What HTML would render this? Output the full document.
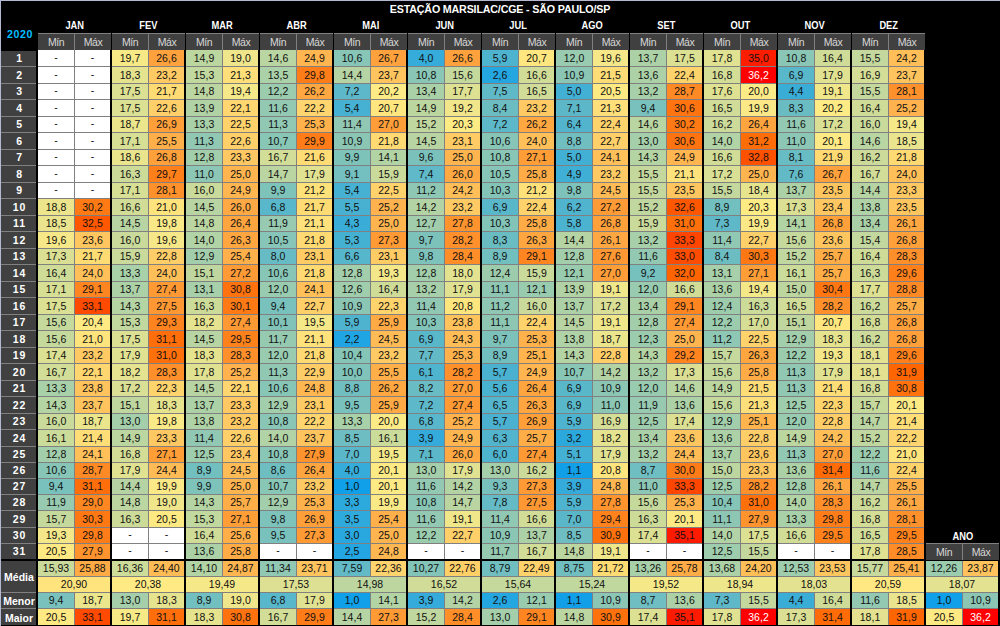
<!DOCTYPE html>
<html><head><meta charset="utf-8"><title>Estação Marsilac</title><style>
html,body{margin:0;padding:0;background:#000;}
body{width:1000px;height:626px;position:relative;overflow:hidden;font-family:"Liberation Sans",sans-serif;}
#bt{position:absolute;left:0;top:0;width:1000px;height:1px;background:#b4b8d0;}
#bl{position:absolute;left:0;top:0;width:1px;height:626px;background:#b4b8d0;}
.c{position:absolute;text-align:center;font-size:10.5px;color:#111;white-space:nowrap;overflow:hidden;box-sizing:border-box;}
.c.h{color:#d8d8d8;font-size:10.5px;letter-spacing:-0.5px;}
.c.l{color:#fff;font-weight:bold;font-size:10.5px;letter-spacing:0.9px;padding-left:2px;}
.c.s{font-size:10.5px;letter-spacing:0;padding-left:1px;padding-top:1px;}
.c.w{color:#fff;}
.t,.m,.y{position:absolute;text-align:center;font-weight:bold;font-size:10.7px;color:#fff;white-space:nowrap;}
.t{letter-spacing:-0.17px;}
.m span{display:inline-block;transform:scaleX(0.87);transform-origin:50% 50%;}
.y{color:#00bfff;letter-spacing:0.6px;}
</style></head><body>
<div id="bt"></div><div id="bl"></div>
<div class="t" style="left:0;top:1px;width:1000px;height:16px;line-height:16px;">ESTAÇÃO MARSILAC/CGE - SÃO PAULO/SP</div>
<div class="y" style="left:1px;top:26px;width:38px;height:17px;line-height:17px;">2020</div>
<div class="m" style="left:38px;top:17px;width:73px;height:16px;line-height:16px;"><span>JAN</span></div>
<div class="c " style="left:38px;top:33px;width:73px;height:1px;line-height:1px;background:#808080;"></div>
<div class="c h" style="left:38px;top:34px;width:36px;height:16px;line-height:16px;background:#404040;">Mín</div>
<div class="c " style="left:74px;top:34px;width:1px;height:16px;line-height:16px;background:#808080;"></div>
<div class="c h" style="left:75px;top:34px;width:36px;height:16px;line-height:16px;background:#404040;">Máx</div>
<div class="m" style="left:112px;top:17px;width:73px;height:16px;line-height:16px;"><span>FEV</span></div>
<div class="c " style="left:112px;top:33px;width:73px;height:1px;line-height:1px;background:#808080;"></div>
<div class="c h" style="left:112px;top:34px;width:36px;height:16px;line-height:16px;background:#404040;">Mín</div>
<div class="c " style="left:148px;top:34px;width:1px;height:16px;line-height:16px;background:#808080;"></div>
<div class="c h" style="left:149px;top:34px;width:36px;height:16px;line-height:16px;background:#404040;">Máx</div>
<div class="m" style="left:186px;top:17px;width:73px;height:16px;line-height:16px;"><span>MAR</span></div>
<div class="c " style="left:186px;top:33px;width:73px;height:1px;line-height:1px;background:#808080;"></div>
<div class="c h" style="left:186px;top:34px;width:36px;height:16px;line-height:16px;background:#404040;">Mín</div>
<div class="c " style="left:222px;top:34px;width:1px;height:16px;line-height:16px;background:#808080;"></div>
<div class="c h" style="left:223px;top:34px;width:36px;height:16px;line-height:16px;background:#404040;">Máx</div>
<div class="m" style="left:260px;top:17px;width:73px;height:16px;line-height:16px;"><span>ABR</span></div>
<div class="c " style="left:260px;top:33px;width:73px;height:1px;line-height:1px;background:#808080;"></div>
<div class="c h" style="left:260px;top:34px;width:36px;height:16px;line-height:16px;background:#404040;">Mín</div>
<div class="c " style="left:296px;top:34px;width:1px;height:16px;line-height:16px;background:#808080;"></div>
<div class="c h" style="left:297px;top:34px;width:36px;height:16px;line-height:16px;background:#404040;">Máx</div>
<div class="m" style="left:334px;top:17px;width:73px;height:16px;line-height:16px;"><span>MAI</span></div>
<div class="c " style="left:334px;top:33px;width:73px;height:1px;line-height:1px;background:#808080;"></div>
<div class="c h" style="left:334px;top:34px;width:36px;height:16px;line-height:16px;background:#404040;">Mín</div>
<div class="c " style="left:370px;top:34px;width:1px;height:16px;line-height:16px;background:#808080;"></div>
<div class="c h" style="left:371px;top:34px;width:36px;height:16px;line-height:16px;background:#404040;">Máx</div>
<div class="m" style="left:408px;top:17px;width:73px;height:16px;line-height:16px;"><span>JUN</span></div>
<div class="c " style="left:408px;top:33px;width:73px;height:1px;line-height:1px;background:#808080;"></div>
<div class="c h" style="left:408px;top:34px;width:36px;height:16px;line-height:16px;background:#404040;">Mín</div>
<div class="c " style="left:444px;top:34px;width:1px;height:16px;line-height:16px;background:#808080;"></div>
<div class="c h" style="left:445px;top:34px;width:36px;height:16px;line-height:16px;background:#404040;">Máx</div>
<div class="m" style="left:482px;top:17px;width:73px;height:16px;line-height:16px;"><span>JUL</span></div>
<div class="c " style="left:482px;top:33px;width:73px;height:1px;line-height:1px;background:#808080;"></div>
<div class="c h" style="left:482px;top:34px;width:36px;height:16px;line-height:16px;background:#404040;">Mín</div>
<div class="c " style="left:518px;top:34px;width:1px;height:16px;line-height:16px;background:#808080;"></div>
<div class="c h" style="left:519px;top:34px;width:36px;height:16px;line-height:16px;background:#404040;">Máx</div>
<div class="m" style="left:556px;top:17px;width:73px;height:16px;line-height:16px;"><span>AGO</span></div>
<div class="c " style="left:556px;top:33px;width:73px;height:1px;line-height:1px;background:#808080;"></div>
<div class="c h" style="left:556px;top:34px;width:36px;height:16px;line-height:16px;background:#404040;">Mín</div>
<div class="c " style="left:592px;top:34px;width:1px;height:16px;line-height:16px;background:#808080;"></div>
<div class="c h" style="left:593px;top:34px;width:36px;height:16px;line-height:16px;background:#404040;">Máx</div>
<div class="m" style="left:630px;top:17px;width:73px;height:16px;line-height:16px;"><span>SET</span></div>
<div class="c " style="left:630px;top:33px;width:73px;height:1px;line-height:1px;background:#808080;"></div>
<div class="c h" style="left:630px;top:34px;width:36px;height:16px;line-height:16px;background:#404040;">Mín</div>
<div class="c " style="left:666px;top:34px;width:1px;height:16px;line-height:16px;background:#808080;"></div>
<div class="c h" style="left:667px;top:34px;width:36px;height:16px;line-height:16px;background:#404040;">Máx</div>
<div class="m" style="left:704px;top:17px;width:73px;height:16px;line-height:16px;"><span>OUT</span></div>
<div class="c " style="left:704px;top:33px;width:73px;height:1px;line-height:1px;background:#808080;"></div>
<div class="c h" style="left:704px;top:34px;width:36px;height:16px;line-height:16px;background:#404040;">Mín</div>
<div class="c " style="left:740px;top:34px;width:1px;height:16px;line-height:16px;background:#808080;"></div>
<div class="c h" style="left:741px;top:34px;width:36px;height:16px;line-height:16px;background:#404040;">Máx</div>
<div class="m" style="left:778px;top:17px;width:73px;height:16px;line-height:16px;"><span>NOV</span></div>
<div class="c " style="left:778px;top:33px;width:73px;height:1px;line-height:1px;background:#808080;"></div>
<div class="c h" style="left:778px;top:34px;width:36px;height:16px;line-height:16px;background:#404040;">Mín</div>
<div class="c " style="left:814px;top:34px;width:1px;height:16px;line-height:16px;background:#808080;"></div>
<div class="c h" style="left:815px;top:34px;width:36px;height:16px;line-height:16px;background:#404040;">Máx</div>
<div class="m" style="left:852px;top:17px;width:73px;height:16px;line-height:16px;"><span>DEZ</span></div>
<div class="c " style="left:852px;top:33px;width:73px;height:1px;line-height:1px;background:#808080;"></div>
<div class="c h" style="left:852px;top:34px;width:36px;height:16px;line-height:16px;background:#404040;">Mín</div>
<div class="c " style="left:888px;top:34px;width:1px;height:16px;line-height:16px;background:#808080;"></div>
<div class="c h" style="left:889px;top:34px;width:36px;height:16px;line-height:16px;background:#404040;">Máx</div>
<div class="m" style="left:926px;top:528px;width:73px;height:16px;line-height:16px;"><span>ANO</span></div>
<div class="c " style="left:926px;top:543px;width:73px;height:1px;line-height:1px;background:#808080;"></div>
<div class="c h" style="left:926px;top:544px;width:36px;height:16px;line-height:16px;background:#404040;">Mín</div>
<div class="c " style="left:962px;top:544px;width:1px;height:16px;line-height:16px;background:#808080;"></div>
<div class="c h" style="left:963px;top:544px;width:36px;height:16px;line-height:16px;background:#404040;">Máx</div>
<div class="c l" style="left:1px;top:51px;width:35px;height:15px;line-height:15px;background:#404040;">1</div>
<div class="c " style="left:1px;top:66px;width:35px;height:1px;line-height:1px;background:#808080;"></div>
<div class="c l" style="left:1px;top:67px;width:35px;height:16px;line-height:16px;background:#404040;">2</div>
<div class="c " style="left:1px;top:83px;width:35px;height:1px;line-height:1px;background:#808080;"></div>
<div class="c l" style="left:1px;top:84px;width:35px;height:15px;line-height:15px;background:#404040;">3</div>
<div class="c " style="left:1px;top:99px;width:35px;height:1px;line-height:1px;background:#808080;"></div>
<div class="c l" style="left:1px;top:100px;width:35px;height:16px;line-height:16px;background:#404040;">4</div>
<div class="c " style="left:1px;top:116px;width:35px;height:1px;line-height:1px;background:#808080;"></div>
<div class="c l" style="left:1px;top:117px;width:35px;height:15px;line-height:15px;background:#404040;">5</div>
<div class="c " style="left:1px;top:132px;width:35px;height:1px;line-height:1px;background:#808080;"></div>
<div class="c l" style="left:1px;top:133px;width:35px;height:16px;line-height:16px;background:#404040;">6</div>
<div class="c " style="left:1px;top:149px;width:35px;height:1px;line-height:1px;background:#808080;"></div>
<div class="c l" style="left:1px;top:150px;width:35px;height:15px;line-height:15px;background:#404040;">7</div>
<div class="c " style="left:1px;top:165px;width:35px;height:1px;line-height:1px;background:#808080;"></div>
<div class="c l" style="left:1px;top:166px;width:35px;height:16px;line-height:16px;background:#404040;">8</div>
<div class="c " style="left:1px;top:182px;width:35px;height:1px;line-height:1px;background:#808080;"></div>
<div class="c l" style="left:1px;top:183px;width:35px;height:15px;line-height:15px;background:#404040;">9</div>
<div class="c " style="left:1px;top:198px;width:35px;height:1px;line-height:1px;background:#808080;"></div>
<div class="c l" style="left:1px;top:199px;width:35px;height:16px;line-height:16px;background:#404040;">10</div>
<div class="c " style="left:1px;top:215px;width:35px;height:1px;line-height:1px;background:#808080;"></div>
<div class="c l" style="left:1px;top:216px;width:35px;height:15px;line-height:15px;background:#404040;">11</div>
<div class="c " style="left:1px;top:231px;width:35px;height:1px;line-height:1px;background:#808080;"></div>
<div class="c l" style="left:1px;top:232px;width:35px;height:16px;line-height:16px;background:#404040;">12</div>
<div class="c " style="left:1px;top:248px;width:35px;height:1px;line-height:1px;background:#808080;"></div>
<div class="c l" style="left:1px;top:249px;width:35px;height:15px;line-height:15px;background:#404040;">13</div>
<div class="c " style="left:1px;top:264px;width:35px;height:1px;line-height:1px;background:#808080;"></div>
<div class="c l" style="left:1px;top:265px;width:35px;height:16px;line-height:16px;background:#404040;">14</div>
<div class="c " style="left:1px;top:281px;width:35px;height:1px;line-height:1px;background:#808080;"></div>
<div class="c l" style="left:1px;top:282px;width:35px;height:15px;line-height:15px;background:#404040;">15</div>
<div class="c " style="left:1px;top:297px;width:35px;height:1px;line-height:1px;background:#808080;"></div>
<div class="c l" style="left:1px;top:298px;width:35px;height:16px;line-height:16px;background:#404040;">16</div>
<div class="c " style="left:1px;top:314px;width:35px;height:1px;line-height:1px;background:#808080;"></div>
<div class="c l" style="left:1px;top:315px;width:35px;height:15px;line-height:15px;background:#404040;">17</div>
<div class="c " style="left:1px;top:330px;width:35px;height:1px;line-height:1px;background:#808080;"></div>
<div class="c l" style="left:1px;top:331px;width:35px;height:16px;line-height:16px;background:#404040;">18</div>
<div class="c " style="left:1px;top:347px;width:35px;height:1px;line-height:1px;background:#808080;"></div>
<div class="c l" style="left:1px;top:348px;width:35px;height:15px;line-height:15px;background:#404040;">19</div>
<div class="c " style="left:1px;top:363px;width:35px;height:1px;line-height:1px;background:#808080;"></div>
<div class="c l" style="left:1px;top:364px;width:35px;height:16px;line-height:16px;background:#404040;">20</div>
<div class="c " style="left:1px;top:380px;width:35px;height:1px;line-height:1px;background:#808080;"></div>
<div class="c l" style="left:1px;top:381px;width:35px;height:15px;line-height:15px;background:#404040;">21</div>
<div class="c " style="left:1px;top:396px;width:35px;height:1px;line-height:1px;background:#808080;"></div>
<div class="c l" style="left:1px;top:397px;width:35px;height:16px;line-height:16px;background:#404040;">22</div>
<div class="c " style="left:1px;top:413px;width:35px;height:1px;line-height:1px;background:#808080;"></div>
<div class="c l" style="left:1px;top:414px;width:35px;height:15px;line-height:15px;background:#404040;">23</div>
<div class="c " style="left:1px;top:429px;width:35px;height:1px;line-height:1px;background:#808080;"></div>
<div class="c l" style="left:1px;top:430px;width:35px;height:16px;line-height:16px;background:#404040;">24</div>
<div class="c " style="left:1px;top:446px;width:35px;height:1px;line-height:1px;background:#808080;"></div>
<div class="c l" style="left:1px;top:447px;width:35px;height:15px;line-height:15px;background:#404040;">25</div>
<div class="c " style="left:1px;top:462px;width:35px;height:1px;line-height:1px;background:#808080;"></div>
<div class="c l" style="left:1px;top:463px;width:35px;height:15px;line-height:15px;background:#404040;">26</div>
<div class="c " style="left:1px;top:478px;width:35px;height:1px;line-height:1px;background:#808080;"></div>
<div class="c l" style="left:1px;top:479px;width:35px;height:15px;line-height:15px;background:#404040;">27</div>
<div class="c " style="left:1px;top:494px;width:35px;height:1px;line-height:1px;background:#808080;"></div>
<div class="c l" style="left:1px;top:495px;width:35px;height:15px;line-height:15px;background:#404040;">28</div>
<div class="c " style="left:1px;top:510px;width:35px;height:1px;line-height:1px;background:#808080;"></div>
<div class="c l" style="left:1px;top:511px;width:35px;height:16px;line-height:16px;background:#404040;">29</div>
<div class="c " style="left:1px;top:527px;width:35px;height:1px;line-height:1px;background:#808080;"></div>
<div class="c l" style="left:1px;top:528px;width:35px;height:15px;line-height:15px;background:#404040;">30</div>
<div class="c " style="left:1px;top:543px;width:35px;height:1px;line-height:1px;background:#808080;"></div>
<div class="c l" style="left:1px;top:544px;width:35px;height:15px;line-height:15px;background:#404040;">31</div>
<div class="c d" style="left:38px;top:50px;width:36px;height:16px;line-height:14px;background:#ffffff;">-</div>
<div class="c d" style="left:75px;top:50px;width:35px;height:16px;line-height:14px;background:#ffffff;">-</div>
<div class="c " style="left:38px;top:66px;width:72px;height:1px;line-height:1px;background:#808080;"></div>
<div class="c " style="left:74px;top:50px;width:1px;height:17px;line-height:17px;background:#808080;"></div>
<div class="c d" style="left:38px;top:67px;width:36px;height:16px;line-height:14px;background:#ffffff;">-</div>
<div class="c d" style="left:75px;top:67px;width:35px;height:16px;line-height:14px;background:#ffffff;">-</div>
<div class="c " style="left:38px;top:83px;width:72px;height:1px;line-height:1px;background:#808080;"></div>
<div class="c " style="left:74px;top:67px;width:1px;height:17px;line-height:17px;background:#808080;"></div>
<div class="c d" style="left:38px;top:84px;width:36px;height:15px;line-height:13px;background:#ffffff;">-</div>
<div class="c d" style="left:75px;top:84px;width:35px;height:15px;line-height:13px;background:#ffffff;">-</div>
<div class="c " style="left:38px;top:99px;width:72px;height:1px;line-height:1px;background:#808080;"></div>
<div class="c " style="left:74px;top:84px;width:1px;height:16px;line-height:16px;background:#808080;"></div>
<div class="c d" style="left:38px;top:100px;width:36px;height:16px;line-height:14px;background:#ffffff;">-</div>
<div class="c d" style="left:75px;top:100px;width:35px;height:16px;line-height:14px;background:#ffffff;">-</div>
<div class="c " style="left:38px;top:116px;width:72px;height:1px;line-height:1px;background:#808080;"></div>
<div class="c " style="left:74px;top:100px;width:1px;height:17px;line-height:17px;background:#808080;"></div>
<div class="c d" style="left:38px;top:117px;width:36px;height:15px;line-height:13px;background:#ffffff;">-</div>
<div class="c d" style="left:75px;top:117px;width:35px;height:15px;line-height:13px;background:#ffffff;">-</div>
<div class="c " style="left:38px;top:132px;width:72px;height:1px;line-height:1px;background:#808080;"></div>
<div class="c " style="left:74px;top:117px;width:1px;height:16px;line-height:16px;background:#808080;"></div>
<div class="c d" style="left:38px;top:133px;width:36px;height:16px;line-height:14px;background:#ffffff;">-</div>
<div class="c d" style="left:75px;top:133px;width:35px;height:16px;line-height:14px;background:#ffffff;">-</div>
<div class="c " style="left:38px;top:149px;width:72px;height:1px;line-height:1px;background:#808080;"></div>
<div class="c " style="left:74px;top:133px;width:1px;height:17px;line-height:17px;background:#808080;"></div>
<div class="c d" style="left:38px;top:150px;width:36px;height:15px;line-height:13px;background:#ffffff;">-</div>
<div class="c d" style="left:75px;top:150px;width:35px;height:15px;line-height:13px;background:#ffffff;">-</div>
<div class="c " style="left:38px;top:165px;width:72px;height:1px;line-height:1px;background:#808080;"></div>
<div class="c " style="left:74px;top:150px;width:1px;height:16px;line-height:16px;background:#808080;"></div>
<div class="c d" style="left:38px;top:166px;width:36px;height:16px;line-height:14px;background:#ffffff;">-</div>
<div class="c d" style="left:75px;top:166px;width:35px;height:16px;line-height:14px;background:#ffffff;">-</div>
<div class="c " style="left:38px;top:182px;width:72px;height:1px;line-height:1px;background:#808080;"></div>
<div class="c " style="left:74px;top:166px;width:1px;height:17px;line-height:17px;background:#808080;"></div>
<div class="c d" style="left:38px;top:183px;width:36px;height:15px;line-height:13px;background:#ffffff;">-</div>
<div class="c d" style="left:75px;top:183px;width:35px;height:15px;line-height:13px;background:#ffffff;">-</div>
<div class="c " style="left:38px;top:198px;width:72px;height:1px;line-height:1px;background:#808080;"></div>
<div class="c " style="left:74px;top:183px;width:1px;height:16px;line-height:16px;background:#808080;"></div>
<div class="c " style="left:38px;top:199px;width:36px;height:16px;line-height:16px;background:#ece58c;">18,8</div>
<div class="c " style="left:75px;top:199px;width:35px;height:16px;line-height:16px;background:#ff7914;">30,2</div>
<div class="c " style="left:38px;top:215px;width:72px;height:1px;line-height:1px;background:#808080;"></div>
<div class="c " style="left:74px;top:199px;width:1px;height:17px;line-height:17px;background:#808080;"></div>
<div class="c " style="left:38px;top:216px;width:36px;height:15px;line-height:15px;background:#e9e48d;">18,5</div>
<div class="c " style="left:75px;top:216px;width:35px;height:15px;line-height:15px;background:#ff5800;">32,5</div>
<div class="c " style="left:38px;top:231px;width:72px;height:1px;line-height:1px;background:#808080;"></div>
<div class="c " style="left:74px;top:216px;width:1px;height:16px;line-height:16px;background:#808080;"></div>
<div class="c " style="left:38px;top:232px;width:36px;height:16px;line-height:16px;background:#f6e888;">19,6</div>
<div class="c " style="left:75px;top:232px;width:35px;height:16px;line-height:16px;background:#ffc55f;">23,6</div>
<div class="c " style="left:38px;top:248px;width:72px;height:1px;line-height:1px;background:#808080;"></div>
<div class="c " style="left:74px;top:232px;width:1px;height:17px;line-height:17px;background:#808080;"></div>
<div class="c " style="left:38px;top:249px;width:36px;height:15px;line-height:15px;background:#dadf94;">17,3</div>
<div class="c " style="left:75px;top:249px;width:35px;height:15px;line-height:15px;background:#ffdb74;">21,7</div>
<div class="c " style="left:38px;top:264px;width:72px;height:1px;line-height:1px;background:#808080;"></div>
<div class="c " style="left:74px;top:249px;width:1px;height:16px;line-height:16px;background:#808080;"></div>
<div class="c " style="left:38px;top:265px;width:36px;height:16px;line-height:16px;background:#cfdc98;">16,4</div>
<div class="c " style="left:75px;top:265px;width:35px;height:16px;line-height:16px;background:#ffc05a;">24,0</div>
<div class="c " style="left:38px;top:281px;width:72px;height:1px;line-height:1px;background:#808080;"></div>
<div class="c " style="left:74px;top:265px;width:1px;height:17px;line-height:17px;background:#808080;"></div>
<div class="c " style="left:38px;top:282px;width:36px;height:15px;line-height:15px;background:#d7df95;">17,1</div>
<div class="c " style="left:75px;top:282px;width:35px;height:15px;line-height:15px;background:#ff8521;">29,1</div>
<div class="c " style="left:38px;top:297px;width:72px;height:1px;line-height:1px;background:#808080;"></div>
<div class="c " style="left:74px;top:282px;width:1px;height:16px;line-height:16px;background:#808080;"></div>
<div class="c " style="left:38px;top:298px;width:36px;height:16px;line-height:16px;background:#dce093;">17,5</div>
<div class="c " style="left:75px;top:298px;width:35px;height:16px;line-height:16px;background:#ff4a00;">33,1</div>
<div class="c " style="left:38px;top:314px;width:72px;height:1px;line-height:1px;background:#808080;"></div>
<div class="c " style="left:74px;top:298px;width:1px;height:17px;line-height:17px;background:#808080;"></div>
<div class="c " style="left:38px;top:315px;width:36px;height:15px;line-height:15px;background:#c5d99d;">15,6</div>
<div class="c " style="left:75px;top:315px;width:35px;height:15px;line-height:15px;background:#ffea83;">20,4</div>
<div class="c " style="left:38px;top:330px;width:72px;height:1px;line-height:1px;background:#808080;"></div>
<div class="c " style="left:74px;top:315px;width:1px;height:16px;line-height:16px;background:#808080;"></div>
<div class="c " style="left:38px;top:331px;width:36px;height:16px;line-height:16px;background:#c5d99d;">15,6</div>
<div class="c " style="left:75px;top:331px;width:35px;height:16px;line-height:16px;background:#ffe37c;">21,0</div>
<div class="c " style="left:38px;top:347px;width:72px;height:1px;line-height:1px;background:#808080;"></div>
<div class="c " style="left:74px;top:331px;width:1px;height:17px;line-height:17px;background:#808080;"></div>
<div class="c " style="left:38px;top:348px;width:36px;height:15px;line-height:15px;background:#dbe093;">17,4</div>
<div class="c " style="left:75px;top:348px;width:35px;height:15px;line-height:15px;background:#ffca63;">23,2</div>
<div class="c " style="left:38px;top:363px;width:72px;height:1px;line-height:1px;background:#808080;"></div>
<div class="c " style="left:74px;top:348px;width:1px;height:16px;line-height:16px;background:#808080;"></div>
<div class="c " style="left:38px;top:364px;width:36px;height:16px;line-height:16px;background:#d2dd97;">16,7</div>
<div class="c " style="left:75px;top:364px;width:35px;height:16px;line-height:16px;background:#ffd670;">22,1</div>
<div class="c " style="left:38px;top:380px;width:72px;height:1px;line-height:1px;background:#808080;"></div>
<div class="c " style="left:74px;top:364px;width:1px;height:17px;line-height:17px;background:#808080;"></div>
<div class="c " style="left:38px;top:381px;width:36px;height:15px;line-height:15px;background:#a8d0a9;">13,3</div>
<div class="c " style="left:75px;top:381px;width:35px;height:15px;line-height:15px;background:#ffc35d;">23,8</div>
<div class="c " style="left:38px;top:396px;width:72px;height:1px;line-height:1px;background:#808080;"></div>
<div class="c " style="left:74px;top:381px;width:1px;height:16px;line-height:16px;background:#808080;"></div>
<div class="c " style="left:38px;top:397px;width:36px;height:16px;line-height:16px;background:#b5d4a3;">14,3</div>
<div class="c " style="left:75px;top:397px;width:35px;height:16px;line-height:16px;background:#ffc45e;">23,7</div>
<div class="c " style="left:38px;top:413px;width:72px;height:1px;line-height:1px;background:#808080;"></div>
<div class="c " style="left:74px;top:397px;width:1px;height:17px;line-height:17px;background:#808080;"></div>
<div class="c " style="left:38px;top:414px;width:36px;height:15px;line-height:15px;background:#cada9b;">16,0</div>
<div class="c " style="left:75px;top:414px;width:35px;height:15px;line-height:15px;background:#ebe58c;">18,7</div>
<div class="c " style="left:38px;top:429px;width:72px;height:1px;line-height:1px;background:#808080;"></div>
<div class="c " style="left:74px;top:414px;width:1px;height:16px;line-height:16px;background:#808080;"></div>
<div class="c " style="left:38px;top:430px;width:36px;height:16px;line-height:16px;background:#cbdb9a;">16,1</div>
<div class="c " style="left:75px;top:430px;width:35px;height:16px;line-height:16px;background:#ffde78;">21,4</div>
<div class="c " style="left:38px;top:446px;width:72px;height:1px;line-height:1px;background:#808080;"></div>
<div class="c " style="left:74px;top:430px;width:1px;height:17px;line-height:17px;background:#808080;"></div>
<div class="c " style="left:38px;top:447px;width:36px;height:15px;line-height:15px;background:#a2ceab;">12,8</div>
<div class="c " style="left:75px;top:447px;width:35px;height:15px;line-height:15px;background:#ffbf59;">24,1</div>
<div class="c " style="left:38px;top:462px;width:72px;height:1px;line-height:1px;background:#808080;"></div>
<div class="c " style="left:74px;top:447px;width:1px;height:16px;line-height:16px;background:#808080;"></div>
<div class="c " style="left:38px;top:463px;width:36px;height:15px;line-height:15px;background:#87c5b7;">10,6</div>
<div class="c " style="left:75px;top:463px;width:35px;height:15px;line-height:15px;background:#ff8a25;">28,7</div>
<div class="c " style="left:38px;top:478px;width:72px;height:1px;line-height:1px;background:#808080;"></div>
<div class="c " style="left:74px;top:463px;width:1px;height:16px;line-height:16px;background:#808080;"></div>
<div class="c " style="left:38px;top:479px;width:36px;height:15px;line-height:15px;background:#78c1bd;">9,4</div>
<div class="c " style="left:75px;top:479px;width:35px;height:15px;line-height:15px;background:#ff6e0a;">31,1</div>
<div class="c " style="left:38px;top:494px;width:72px;height:1px;line-height:1px;background:#808080;"></div>
<div class="c " style="left:74px;top:479px;width:1px;height:16px;line-height:16px;background:#808080;"></div>
<div class="c " style="left:38px;top:495px;width:36px;height:15px;line-height:15px;background:#97cab0;">11,9</div>
<div class="c " style="left:75px;top:495px;width:35px;height:15px;line-height:15px;background:#ff8722;">29,0</div>
<div class="c " style="left:38px;top:510px;width:72px;height:1px;line-height:1px;background:#808080;"></div>
<div class="c " style="left:74px;top:495px;width:1px;height:16px;line-height:16px;background:#808080;"></div>
<div class="c " style="left:38px;top:511px;width:36px;height:16px;line-height:16px;background:#c6d99c;">15,7</div>
<div class="c " style="left:75px;top:511px;width:35px;height:16px;line-height:16px;background:#ff7813;">30,3</div>
<div class="c " style="left:38px;top:527px;width:72px;height:1px;line-height:1px;background:#808080;"></div>
<div class="c " style="left:74px;top:511px;width:1px;height:17px;line-height:17px;background:#808080;"></div>
<div class="c " style="left:38px;top:528px;width:36px;height:15px;line-height:15px;background:#f3e789;">19,3</div>
<div class="c " style="left:75px;top:528px;width:35px;height:15px;line-height:15px;background:#ff7d19;">29,8</div>
<div class="c " style="left:38px;top:543px;width:72px;height:1px;line-height:1px;background:#808080;"></div>
<div class="c " style="left:74px;top:528px;width:1px;height:16px;line-height:16px;background:#808080;"></div>
<div class="c " style="left:38px;top:544px;width:36px;height:15px;line-height:15px;background:#ffe982;">20,5</div>
<div class="c " style="left:75px;top:544px;width:35px;height:15px;line-height:15px;background:#ff932e;">27,9</div>
<div class="c " style="left:74px;top:544px;width:1px;height:15px;line-height:15px;background:#808080;"></div>
<div class="c " style="left:112px;top:50px;width:36px;height:16px;line-height:16px;background:#f8e987;">19,7</div>
<div class="c " style="left:149px;top:50px;width:35px;height:16px;line-height:16px;background:#ffa23d;">26,6</div>
<div class="c " style="left:112px;top:66px;width:72px;height:1px;line-height:1px;background:#808080;"></div>
<div class="c " style="left:148px;top:50px;width:1px;height:17px;line-height:17px;background:#808080;"></div>
<div class="c " style="left:112px;top:67px;width:36px;height:16px;line-height:16px;background:#e6e38e;">18,3</div>
<div class="c " style="left:149px;top:67px;width:35px;height:16px;line-height:16px;background:#ffca63;">23,2</div>
<div class="c " style="left:112px;top:83px;width:72px;height:1px;line-height:1px;background:#808080;"></div>
<div class="c " style="left:148px;top:67px;width:1px;height:17px;line-height:17px;background:#808080;"></div>
<div class="c " style="left:112px;top:84px;width:36px;height:15px;line-height:15px;background:#dce093;">17,5</div>
<div class="c " style="left:149px;top:84px;width:35px;height:15px;line-height:15px;background:#ffdb74;">21,7</div>
<div class="c " style="left:112px;top:99px;width:72px;height:1px;line-height:1px;background:#808080;"></div>
<div class="c " style="left:148px;top:84px;width:1px;height:16px;line-height:16px;background:#808080;"></div>
<div class="c " style="left:112px;top:100px;width:36px;height:16px;line-height:16px;background:#dce093;">17,5</div>
<div class="c " style="left:149px;top:100px;width:35px;height:16px;line-height:16px;background:#ffd06a;">22,6</div>
<div class="c " style="left:112px;top:116px;width:72px;height:1px;line-height:1px;background:#808080;"></div>
<div class="c " style="left:148px;top:100px;width:1px;height:17px;line-height:17px;background:#808080;"></div>
<div class="c " style="left:112px;top:117px;width:36px;height:15px;line-height:15px;background:#ebe58c;">18,7</div>
<div class="c " style="left:149px;top:117px;width:35px;height:15px;line-height:15px;background:#ff9f3a;">26,9</div>
<div class="c " style="left:112px;top:132px;width:72px;height:1px;line-height:1px;background:#808080;"></div>
<div class="c " style="left:148px;top:117px;width:1px;height:16px;line-height:16px;background:#808080;"></div>
<div class="c " style="left:112px;top:133px;width:36px;height:16px;line-height:16px;background:#d7df95;">17,1</div>
<div class="c " style="left:149px;top:133px;width:35px;height:16px;line-height:16px;background:#ffaf49;">25,5</div>
<div class="c " style="left:112px;top:149px;width:72px;height:1px;line-height:1px;background:#808080;"></div>
<div class="c " style="left:148px;top:133px;width:1px;height:17px;line-height:17px;background:#808080;"></div>
<div class="c " style="left:112px;top:150px;width:36px;height:15px;line-height:15px;background:#eae48d;">18,6</div>
<div class="c " style="left:149px;top:150px;width:35px;height:15px;line-height:15px;background:#ffa03b;">26,8</div>
<div class="c " style="left:112px;top:165px;width:72px;height:1px;line-height:1px;background:#808080;"></div>
<div class="c " style="left:148px;top:150px;width:1px;height:16px;line-height:16px;background:#808080;"></div>
<div class="c " style="left:112px;top:166px;width:36px;height:16px;line-height:16px;background:#cddb99;">16,3</div>
<div class="c " style="left:149px;top:166px;width:35px;height:16px;line-height:16px;background:#ff7f1a;">29,7</div>
<div class="c " style="left:112px;top:182px;width:72px;height:1px;line-height:1px;background:#808080;"></div>
<div class="c " style="left:148px;top:166px;width:1px;height:17px;line-height:17px;background:#808080;"></div>
<div class="c " style="left:112px;top:183px;width:36px;height:15px;line-height:15px;background:#d7df95;">17,1</div>
<div class="c " style="left:149px;top:183px;width:35px;height:15px;line-height:15px;background:#ff912c;">28,1</div>
<div class="c " style="left:112px;top:198px;width:72px;height:1px;line-height:1px;background:#808080;"></div>
<div class="c " style="left:148px;top:183px;width:1px;height:16px;line-height:16px;background:#808080;"></div>
<div class="c " style="left:112px;top:199px;width:36px;height:16px;line-height:16px;background:#d1dd97;">16,6</div>
<div class="c " style="left:149px;top:199px;width:35px;height:16px;line-height:16px;background:#ffe37c;">21,0</div>
<div class="c " style="left:112px;top:215px;width:72px;height:1px;line-height:1px;background:#808080;"></div>
<div class="c " style="left:148px;top:199px;width:1px;height:17px;line-height:17px;background:#808080;"></div>
<div class="c " style="left:112px;top:216px;width:36px;height:15px;line-height:15px;background:#b7d4a2;">14,5</div>
<div class="c " style="left:149px;top:216px;width:35px;height:15px;line-height:15px;background:#f9e987;">19,8</div>
<div class="c " style="left:112px;top:231px;width:72px;height:1px;line-height:1px;background:#808080;"></div>
<div class="c " style="left:148px;top:216px;width:1px;height:16px;line-height:16px;background:#808080;"></div>
<div class="c " style="left:112px;top:232px;width:36px;height:16px;line-height:16px;background:#cada9b;">16,0</div>
<div class="c " style="left:149px;top:232px;width:35px;height:16px;line-height:16px;background:#f6e888;">19,6</div>
<div class="c " style="left:112px;top:248px;width:72px;height:1px;line-height:1px;background:#808080;"></div>
<div class="c " style="left:148px;top:232px;width:1px;height:17px;line-height:17px;background:#808080;"></div>
<div class="c " style="left:112px;top:249px;width:36px;height:15px;line-height:15px;background:#c9da9b;">15,9</div>
<div class="c " style="left:149px;top:249px;width:35px;height:15px;line-height:15px;background:#ffce68;">22,8</div>
<div class="c " style="left:112px;top:264px;width:72px;height:1px;line-height:1px;background:#808080;"></div>
<div class="c " style="left:148px;top:249px;width:1px;height:16px;line-height:16px;background:#808080;"></div>
<div class="c " style="left:112px;top:265px;width:36px;height:16px;line-height:16px;background:#a8d0a9;">13,3</div>
<div class="c " style="left:149px;top:265px;width:35px;height:16px;line-height:16px;background:#ffc05a;">24,0</div>
<div class="c " style="left:112px;top:281px;width:72px;height:1px;line-height:1px;background:#808080;"></div>
<div class="c " style="left:148px;top:265px;width:1px;height:17px;line-height:17px;background:#808080;"></div>
<div class="c " style="left:112px;top:282px;width:36px;height:15px;line-height:15px;background:#add1a7;">13,7</div>
<div class="c " style="left:149px;top:282px;width:35px;height:15px;line-height:15px;background:#ff9934;">27,4</div>
<div class="c " style="left:112px;top:297px;width:72px;height:1px;line-height:1px;background:#808080;"></div>
<div class="c " style="left:148px;top:282px;width:1px;height:16px;line-height:16px;background:#808080;"></div>
<div class="c " style="left:112px;top:298px;width:36px;height:16px;line-height:16px;background:#b5d4a3;">14,3</div>
<div class="c " style="left:149px;top:298px;width:35px;height:16px;line-height:16px;background:#ff9833;">27,5</div>
<div class="c " style="left:112px;top:314px;width:72px;height:1px;line-height:1px;background:#808080;"></div>
<div class="c " style="left:148px;top:298px;width:1px;height:17px;line-height:17px;background:#808080;"></div>
<div class="c " style="left:112px;top:315px;width:36px;height:15px;line-height:15px;background:#c1d89e;">15,3</div>
<div class="c " style="left:149px;top:315px;width:35px;height:15px;line-height:15px;background:#ff831e;">29,3</div>
<div class="c " style="left:112px;top:330px;width:72px;height:1px;line-height:1px;background:#808080;"></div>
<div class="c " style="left:148px;top:315px;width:1px;height:16px;line-height:16px;background:#808080;"></div>
<div class="c " style="left:112px;top:331px;width:36px;height:16px;line-height:16px;background:#dce093;">17,5</div>
<div class="c " style="left:149px;top:331px;width:35px;height:16px;line-height:16px;background:#ff6e0a;">31,1</div>
<div class="c " style="left:112px;top:347px;width:72px;height:1px;line-height:1px;background:#808080;"></div>
<div class="c " style="left:148px;top:331px;width:1px;height:17px;line-height:17px;background:#808080;"></div>
<div class="c " style="left:112px;top:348px;width:36px;height:15px;line-height:15px;background:#e1e291;">17,9</div>
<div class="c " style="left:149px;top:348px;width:35px;height:15px;line-height:15px;background:#ff700b;">31,0</div>
<div class="c " style="left:112px;top:363px;width:72px;height:1px;line-height:1px;background:#808080;"></div>
<div class="c " style="left:148px;top:348px;width:1px;height:16px;line-height:16px;background:#808080;"></div>
<div class="c " style="left:112px;top:364px;width:36px;height:16px;line-height:16px;background:#e5e38f;">18,2</div>
<div class="c " style="left:149px;top:364px;width:35px;height:16px;line-height:16px;background:#ff8f2a;">28,3</div>
<div class="c " style="left:112px;top:380px;width:72px;height:1px;line-height:1px;background:#808080;"></div>
<div class="c " style="left:148px;top:364px;width:1px;height:17px;line-height:17px;background:#808080;"></div>
<div class="c " style="left:112px;top:381px;width:36px;height:15px;line-height:15px;background:#d9df94;">17,2</div>
<div class="c " style="left:149px;top:381px;width:35px;height:15px;line-height:15px;background:#ffd46d;">22,3</div>
<div class="c " style="left:112px;top:396px;width:72px;height:1px;line-height:1px;background:#808080;"></div>
<div class="c " style="left:148px;top:381px;width:1px;height:16px;line-height:16px;background:#808080;"></div>
<div class="c " style="left:112px;top:397px;width:36px;height:16px;line-height:16px;background:#bfd79f;">15,1</div>
<div class="c " style="left:149px;top:397px;width:35px;height:16px;line-height:16px;background:#e6e38e;">18,3</div>
<div class="c " style="left:112px;top:413px;width:72px;height:1px;line-height:1px;background:#808080;"></div>
<div class="c " style="left:148px;top:397px;width:1px;height:17px;line-height:17px;background:#808080;"></div>
<div class="c " style="left:112px;top:414px;width:36px;height:15px;line-height:15px;background:#a5cfaa;">13,0</div>
<div class="c " style="left:149px;top:414px;width:35px;height:15px;line-height:15px;background:#f9e987;">19,8</div>
<div class="c " style="left:112px;top:429px;width:72px;height:1px;line-height:1px;background:#808080;"></div>
<div class="c " style="left:148px;top:414px;width:1px;height:16px;line-height:16px;background:#808080;"></div>
<div class="c " style="left:112px;top:430px;width:36px;height:16px;line-height:16px;background:#bcd6a0;">14,9</div>
<div class="c " style="left:149px;top:430px;width:35px;height:16px;line-height:16px;background:#ffc862;">23,3</div>
<div class="c " style="left:112px;top:446px;width:72px;height:1px;line-height:1px;background:#808080;"></div>
<div class="c " style="left:148px;top:430px;width:1px;height:17px;line-height:17px;background:#808080;"></div>
<div class="c " style="left:112px;top:447px;width:36px;height:15px;line-height:15px;background:#d4dd96;">16,8</div>
<div class="c " style="left:149px;top:447px;width:35px;height:15px;line-height:15px;background:#ff9d37;">27,1</div>
<div class="c " style="left:112px;top:462px;width:72px;height:1px;line-height:1px;background:#808080;"></div>
<div class="c " style="left:148px;top:447px;width:1px;height:16px;line-height:16px;background:#808080;"></div>
<div class="c " style="left:112px;top:463px;width:36px;height:15px;line-height:15px;background:#e1e291;">17,9</div>
<div class="c " style="left:149px;top:463px;width:35px;height:15px;line-height:15px;background:#ffbc56;">24,4</div>
<div class="c " style="left:112px;top:478px;width:72px;height:1px;line-height:1px;background:#808080;"></div>
<div class="c " style="left:148px;top:463px;width:1px;height:16px;line-height:16px;background:#808080;"></div>
<div class="c " style="left:112px;top:479px;width:36px;height:15px;line-height:15px;background:#b6d4a3;">14,4</div>
<div class="c " style="left:149px;top:479px;width:35px;height:15px;line-height:15px;background:#fae986;">19,9</div>
<div class="c " style="left:112px;top:494px;width:72px;height:1px;line-height:1px;background:#808080;"></div>
<div class="c " style="left:148px;top:479px;width:1px;height:16px;line-height:16px;background:#808080;"></div>
<div class="c " style="left:112px;top:495px;width:36px;height:15px;line-height:15px;background:#bbd6a1;">14,8</div>
<div class="c " style="left:149px;top:495px;width:35px;height:15px;line-height:15px;background:#efe68b;">19,0</div>
<div class="c " style="left:112px;top:510px;width:72px;height:1px;line-height:1px;background:#808080;"></div>
<div class="c " style="left:148px;top:495px;width:1px;height:16px;line-height:16px;background:#808080;"></div>
<div class="c " style="left:112px;top:511px;width:36px;height:16px;line-height:16px;background:#cddb99;">16,3</div>
<div class="c " style="left:149px;top:511px;width:35px;height:16px;line-height:16px;background:#ffe982;">20,5</div>
<div class="c " style="left:112px;top:527px;width:72px;height:1px;line-height:1px;background:#808080;"></div>
<div class="c " style="left:148px;top:511px;width:1px;height:17px;line-height:17px;background:#808080;"></div>
<div class="c d" style="left:112px;top:528px;width:36px;height:15px;line-height:13px;background:#ffffff;">-</div>
<div class="c d" style="left:149px;top:528px;width:35px;height:15px;line-height:13px;background:#ffffff;">-</div>
<div class="c " style="left:112px;top:543px;width:72px;height:1px;line-height:1px;background:#808080;"></div>
<div class="c " style="left:148px;top:528px;width:1px;height:16px;line-height:16px;background:#808080;"></div>
<div class="c d" style="left:112px;top:544px;width:36px;height:15px;line-height:13px;background:#ffffff;">-</div>
<div class="c d" style="left:149px;top:544px;width:35px;height:15px;line-height:13px;background:#ffffff;">-</div>
<div class="c " style="left:148px;top:544px;width:1px;height:15px;line-height:15px;background:#808080;"></div>
<div class="c " style="left:186px;top:50px;width:36px;height:16px;line-height:16px;background:#bcd6a0;">14,9</div>
<div class="c " style="left:223px;top:50px;width:35px;height:16px;line-height:16px;background:#efe68b;">19,0</div>
<div class="c " style="left:186px;top:66px;width:72px;height:1px;line-height:1px;background:#808080;"></div>
<div class="c " style="left:222px;top:50px;width:1px;height:17px;line-height:17px;background:#808080;"></div>
<div class="c " style="left:186px;top:67px;width:36px;height:16px;line-height:16px;background:#c1d89e;">15,3</div>
<div class="c " style="left:223px;top:67px;width:35px;height:16px;line-height:16px;background:#ffdf79;">21,3</div>
<div class="c " style="left:186px;top:83px;width:72px;height:1px;line-height:1px;background:#808080;"></div>
<div class="c " style="left:222px;top:67px;width:1px;height:17px;line-height:17px;background:#808080;"></div>
<div class="c " style="left:186px;top:84px;width:36px;height:15px;line-height:15px;background:#bbd6a1;">14,8</div>
<div class="c " style="left:223px;top:84px;width:35px;height:15px;line-height:15px;background:#f4e889;">19,4</div>
<div class="c " style="left:186px;top:99px;width:72px;height:1px;line-height:1px;background:#808080;"></div>
<div class="c " style="left:222px;top:84px;width:1px;height:16px;line-height:16px;background:#808080;"></div>
<div class="c " style="left:186px;top:100px;width:36px;height:16px;line-height:16px;background:#b0d2a5;">13,9</div>
<div class="c " style="left:223px;top:100px;width:35px;height:16px;line-height:16px;background:#ffd670;">22,1</div>
<div class="c " style="left:186px;top:116px;width:72px;height:1px;line-height:1px;background:#808080;"></div>
<div class="c " style="left:222px;top:100px;width:1px;height:17px;line-height:17px;background:#808080;"></div>
<div class="c " style="left:186px;top:117px;width:36px;height:15px;line-height:15px;background:#a8d0a9;">13,3</div>
<div class="c " style="left:223px;top:117px;width:35px;height:15px;line-height:15px;background:#ffd26b;">22,5</div>
<div class="c " style="left:186px;top:132px;width:72px;height:1px;line-height:1px;background:#808080;"></div>
<div class="c " style="left:222px;top:117px;width:1px;height:16px;line-height:16px;background:#808080;"></div>
<div class="c " style="left:186px;top:133px;width:36px;height:16px;line-height:16px;background:#90c8b3;">11,3</div>
<div class="c " style="left:223px;top:133px;width:35px;height:16px;line-height:16px;background:#ffd06a;">22,6</div>
<div class="c " style="left:186px;top:149px;width:72px;height:1px;line-height:1px;background:#808080;"></div>
<div class="c " style="left:222px;top:133px;width:1px;height:17px;line-height:17px;background:#808080;"></div>
<div class="c " style="left:186px;top:150px;width:36px;height:15px;line-height:15px;background:#a2ceab;">12,8</div>
<div class="c " style="left:223px;top:150px;width:35px;height:15px;line-height:15px;background:#ffc862;">23,3</div>
<div class="c " style="left:186px;top:165px;width:72px;height:1px;line-height:1px;background:#808080;"></div>
<div class="c " style="left:222px;top:150px;width:1px;height:16px;line-height:16px;background:#808080;"></div>
<div class="c " style="left:186px;top:166px;width:36px;height:16px;line-height:16px;background:#8cc7b5;">11,0</div>
<div class="c " style="left:223px;top:166px;width:35px;height:16px;line-height:16px;background:#ffb54f;">25,0</div>
<div class="c " style="left:186px;top:182px;width:72px;height:1px;line-height:1px;background:#808080;"></div>
<div class="c " style="left:222px;top:166px;width:1px;height:17px;line-height:17px;background:#808080;"></div>
<div class="c " style="left:186px;top:183px;width:36px;height:15px;line-height:15px;background:#cada9b;">16,0</div>
<div class="c " style="left:223px;top:183px;width:35px;height:15px;line-height:15px;background:#ffb650;">24,9</div>
<div class="c " style="left:186px;top:198px;width:72px;height:1px;line-height:1px;background:#808080;"></div>
<div class="c " style="left:222px;top:183px;width:1px;height:16px;line-height:16px;background:#808080;"></div>
<div class="c " style="left:186px;top:199px;width:36px;height:16px;line-height:16px;background:#b7d4a2;">14,5</div>
<div class="c " style="left:223px;top:199px;width:35px;height:16px;line-height:16px;background:#ffa944;">26,0</div>
<div class="c " style="left:186px;top:215px;width:72px;height:1px;line-height:1px;background:#808080;"></div>
<div class="c " style="left:222px;top:199px;width:1px;height:17px;line-height:17px;background:#808080;"></div>
<div class="c " style="left:186px;top:216px;width:36px;height:15px;line-height:15px;background:#bbd6a1;">14,8</div>
<div class="c " style="left:223px;top:216px;width:35px;height:15px;line-height:15px;background:#ffa53f;">26,4</div>
<div class="c " style="left:186px;top:231px;width:72px;height:1px;line-height:1px;background:#808080;"></div>
<div class="c " style="left:222px;top:216px;width:1px;height:16px;line-height:16px;background:#808080;"></div>
<div class="c " style="left:186px;top:232px;width:36px;height:16px;line-height:16px;background:#b1d3a5;">14,0</div>
<div class="c " style="left:223px;top:232px;width:35px;height:16px;line-height:16px;background:#ffa640;">26,3</div>
<div class="c " style="left:186px;top:248px;width:72px;height:1px;line-height:1px;background:#808080;"></div>
<div class="c " style="left:222px;top:232px;width:1px;height:17px;line-height:17px;background:#808080;"></div>
<div class="c " style="left:186px;top:249px;width:36px;height:15px;line-height:15px;background:#a3ceab;">12,9</div>
<div class="c " style="left:223px;top:249px;width:35px;height:15px;line-height:15px;background:#ffb04a;">25,4</div>
<div class="c " style="left:186px;top:264px;width:72px;height:1px;line-height:1px;background:#808080;"></div>
<div class="c " style="left:222px;top:249px;width:1px;height:16px;line-height:16px;background:#808080;"></div>
<div class="c " style="left:186px;top:265px;width:36px;height:16px;line-height:16px;background:#bfd79f;">15,1</div>
<div class="c " style="left:223px;top:265px;width:35px;height:16px;line-height:16px;background:#ff9b36;">27,2</div>
<div class="c " style="left:186px;top:281px;width:72px;height:1px;line-height:1px;background:#808080;"></div>
<div class="c " style="left:222px;top:265px;width:1px;height:17px;line-height:17px;background:#808080;"></div>
<div class="c " style="left:186px;top:282px;width:36px;height:15px;line-height:15px;background:#a6cfaa;">13,1</div>
<div class="c " style="left:223px;top:282px;width:35px;height:15px;line-height:15px;background:#ff720e;">30,8</div>
<div class="c " style="left:186px;top:297px;width:72px;height:1px;line-height:1px;background:#808080;"></div>
<div class="c " style="left:222px;top:282px;width:1px;height:16px;line-height:16px;background:#808080;"></div>
<div class="c " style="left:186px;top:298px;width:36px;height:16px;line-height:16px;background:#cddb99;">16,3</div>
<div class="c " style="left:223px;top:298px;width:35px;height:16px;line-height:16px;background:#ff7a15;">30,1</div>
<div class="c " style="left:186px;top:314px;width:72px;height:1px;line-height:1px;background:#808080;"></div>
<div class="c " style="left:222px;top:298px;width:1px;height:17px;line-height:17px;background:#808080;"></div>
<div class="c " style="left:186px;top:315px;width:36px;height:15px;line-height:15px;background:#e5e38f;">18,2</div>
<div class="c " style="left:223px;top:315px;width:35px;height:15px;line-height:15px;background:#ff9934;">27,4</div>
<div class="c " style="left:186px;top:330px;width:72px;height:1px;line-height:1px;background:#808080;"></div>
<div class="c " style="left:222px;top:315px;width:1px;height:16px;line-height:16px;background:#808080;"></div>
<div class="c " style="left:186px;top:331px;width:36px;height:16px;line-height:16px;background:#b7d4a2;">14,5</div>
<div class="c " style="left:223px;top:331px;width:35px;height:16px;line-height:16px;background:#ff811c;">29,5</div>
<div class="c " style="left:186px;top:347px;width:72px;height:1px;line-height:1px;background:#808080;"></div>
<div class="c " style="left:222px;top:331px;width:1px;height:17px;line-height:17px;background:#808080;"></div>
<div class="c " style="left:186px;top:348px;width:36px;height:15px;line-height:15px;background:#e6e38e;">18,3</div>
<div class="c " style="left:223px;top:348px;width:35px;height:15px;line-height:15px;background:#ff8f2a;">28,3</div>
<div class="c " style="left:186px;top:363px;width:72px;height:1px;line-height:1px;background:#808080;"></div>
<div class="c " style="left:222px;top:348px;width:1px;height:16px;line-height:16px;background:#808080;"></div>
<div class="c " style="left:186px;top:364px;width:36px;height:16px;line-height:16px;background:#e0e191;">17,8</div>
<div class="c " style="left:223px;top:364px;width:35px;height:16px;line-height:16px;background:#ffb24d;">25,2</div>
<div class="c " style="left:186px;top:380px;width:72px;height:1px;line-height:1px;background:#808080;"></div>
<div class="c " style="left:222px;top:364px;width:1px;height:17px;line-height:17px;background:#808080;"></div>
<div class="c " style="left:186px;top:381px;width:36px;height:15px;line-height:15px;background:#b7d4a2;">14,5</div>
<div class="c " style="left:223px;top:381px;width:35px;height:15px;line-height:15px;background:#ffd670;">22,1</div>
<div class="c " style="left:186px;top:396px;width:72px;height:1px;line-height:1px;background:#808080;"></div>
<div class="c " style="left:222px;top:381px;width:1px;height:16px;line-height:16px;background:#808080;"></div>
<div class="c " style="left:186px;top:397px;width:36px;height:16px;line-height:16px;background:#add1a7;">13,7</div>
<div class="c " style="left:223px;top:397px;width:35px;height:16px;line-height:16px;background:#ffc862;">23,3</div>
<div class="c " style="left:186px;top:413px;width:72px;height:1px;line-height:1px;background:#808080;"></div>
<div class="c " style="left:222px;top:397px;width:1px;height:17px;line-height:17px;background:#808080;"></div>
<div class="c " style="left:186px;top:414px;width:36px;height:15px;line-height:15px;background:#afd2a6;">13,8</div>
<div class="c " style="left:223px;top:414px;width:35px;height:15px;line-height:15px;background:#ffca63;">23,2</div>
<div class="c " style="left:186px;top:429px;width:72px;height:1px;line-height:1px;background:#808080;"></div>
<div class="c " style="left:222px;top:414px;width:1px;height:16px;line-height:16px;background:#808080;"></div>
<div class="c " style="left:186px;top:430px;width:36px;height:16px;line-height:16px;background:#91c8b3;">11,4</div>
<div class="c " style="left:223px;top:430px;width:35px;height:16px;line-height:16px;background:#ffd06a;">22,6</div>
<div class="c " style="left:186px;top:446px;width:72px;height:1px;line-height:1px;background:#808080;"></div>
<div class="c " style="left:222px;top:430px;width:1px;height:17px;line-height:17px;background:#808080;"></div>
<div class="c " style="left:186px;top:447px;width:36px;height:15px;line-height:15px;background:#9ecdad;">12,5</div>
<div class="c " style="left:223px;top:447px;width:35px;height:15px;line-height:15px;background:#ffc761;">23,4</div>
<div class="c " style="left:186px;top:462px;width:72px;height:1px;line-height:1px;background:#808080;"></div>
<div class="c " style="left:222px;top:447px;width:1px;height:16px;line-height:16px;background:#808080;"></div>
<div class="c " style="left:186px;top:463px;width:36px;height:15px;line-height:15px;background:#72bfc0;">8,9</div>
<div class="c " style="left:223px;top:463px;width:35px;height:15px;line-height:15px;background:#ffbb55;">24,5</div>
<div class="c " style="left:186px;top:478px;width:72px;height:1px;line-height:1px;background:#808080;"></div>
<div class="c " style="left:222px;top:463px;width:1px;height:16px;line-height:16px;background:#808080;"></div>
<div class="c " style="left:186px;top:479px;width:36px;height:15px;line-height:15px;background:#7ec3ba;">9,9</div>
<div class="c " style="left:223px;top:479px;width:35px;height:15px;line-height:15px;background:#ffb54f;">25,0</div>
<div class="c " style="left:186px;top:494px;width:72px;height:1px;line-height:1px;background:#808080;"></div>
<div class="c " style="left:222px;top:479px;width:1px;height:16px;line-height:16px;background:#808080;"></div>
<div class="c " style="left:186px;top:495px;width:36px;height:15px;line-height:15px;background:#b5d4a3;">14,3</div>
<div class="c " style="left:223px;top:495px;width:35px;height:15px;line-height:15px;background:#ffad47;">25,7</div>
<div class="c " style="left:186px;top:510px;width:72px;height:1px;line-height:1px;background:#808080;"></div>
<div class="c " style="left:222px;top:495px;width:1px;height:16px;line-height:16px;background:#808080;"></div>
<div class="c " style="left:186px;top:511px;width:36px;height:16px;line-height:16px;background:#c1d89e;">15,3</div>
<div class="c " style="left:223px;top:511px;width:35px;height:16px;line-height:16px;background:#ff9d37;">27,1</div>
<div class="c " style="left:186px;top:527px;width:72px;height:1px;line-height:1px;background:#808080;"></div>
<div class="c " style="left:222px;top:511px;width:1px;height:17px;line-height:17px;background:#808080;"></div>
<div class="c " style="left:186px;top:528px;width:36px;height:15px;line-height:15px;background:#cfdc98;">16,4</div>
<div class="c " style="left:223px;top:528px;width:35px;height:15px;line-height:15px;background:#ffae48;">25,6</div>
<div class="c " style="left:186px;top:543px;width:72px;height:1px;line-height:1px;background:#808080;"></div>
<div class="c " style="left:222px;top:528px;width:1px;height:16px;line-height:16px;background:#808080;"></div>
<div class="c " style="left:186px;top:544px;width:36px;height:15px;line-height:15px;background:#acd1a7;">13,6</div>
<div class="c " style="left:223px;top:544px;width:35px;height:15px;line-height:15px;background:#ffac46;">25,8</div>
<div class="c " style="left:222px;top:544px;width:1px;height:15px;line-height:15px;background:#808080;"></div>
<div class="c " style="left:260px;top:50px;width:36px;height:16px;line-height:16px;background:#b8d5a2;">14,6</div>
<div class="c " style="left:297px;top:50px;width:35px;height:16px;line-height:16px;background:#ffb650;">24,9</div>
<div class="c " style="left:260px;top:66px;width:72px;height:1px;line-height:1px;background:#808080;"></div>
<div class="c " style="left:296px;top:50px;width:1px;height:17px;line-height:17px;background:#808080;"></div>
<div class="c " style="left:260px;top:67px;width:36px;height:16px;line-height:16px;background:#abd1a8;">13,5</div>
<div class="c " style="left:297px;top:67px;width:35px;height:16px;line-height:16px;background:#ff7d19;">29,8</div>
<div class="c " style="left:260px;top:83px;width:72px;height:1px;line-height:1px;background:#808080;"></div>
<div class="c " style="left:296px;top:67px;width:1px;height:17px;line-height:17px;background:#808080;"></div>
<div class="c " style="left:260px;top:84px;width:36px;height:15px;line-height:15px;background:#9bccae;">12,2</div>
<div class="c " style="left:297px;top:84px;width:35px;height:15px;line-height:15px;background:#ffa741;">26,2</div>
<div class="c " style="left:260px;top:99px;width:72px;height:1px;line-height:1px;background:#808080;"></div>
<div class="c " style="left:296px;top:84px;width:1px;height:16px;line-height:16px;background:#808080;"></div>
<div class="c " style="left:260px;top:100px;width:36px;height:16px;line-height:16px;background:#93c9b2;">11,6</div>
<div class="c " style="left:297px;top:100px;width:35px;height:16px;line-height:16px;background:#ffd56f;">22,2</div>
<div class="c " style="left:260px;top:116px;width:72px;height:1px;line-height:1px;background:#808080;"></div>
<div class="c " style="left:296px;top:100px;width:1px;height:17px;line-height:17px;background:#808080;"></div>
<div class="c " style="left:260px;top:117px;width:36px;height:15px;line-height:15px;background:#90c8b3;">11,3</div>
<div class="c " style="left:297px;top:117px;width:35px;height:15px;line-height:15px;background:#ffb14c;">25,3</div>
<div class="c " style="left:260px;top:132px;width:72px;height:1px;line-height:1px;background:#808080;"></div>
<div class="c " style="left:296px;top:117px;width:1px;height:16px;line-height:16px;background:#808080;"></div>
<div class="c " style="left:260px;top:133px;width:36px;height:16px;line-height:16px;background:#88c6b6;">10,7</div>
<div class="c " style="left:297px;top:133px;width:35px;height:16px;line-height:16px;background:#ff7c18;">29,9</div>
<div class="c " style="left:260px;top:149px;width:72px;height:1px;line-height:1px;background:#808080;"></div>
<div class="c " style="left:296px;top:133px;width:1px;height:17px;line-height:17px;background:#808080;"></div>
<div class="c " style="left:260px;top:150px;width:36px;height:15px;line-height:15px;background:#d2dd97;">16,7</div>
<div class="c " style="left:297px;top:150px;width:35px;height:15px;line-height:15px;background:#ffdc75;">21,6</div>
<div class="c " style="left:260px;top:165px;width:72px;height:1px;line-height:1px;background:#808080;"></div>
<div class="c " style="left:296px;top:150px;width:1px;height:16px;line-height:16px;background:#808080;"></div>
<div class="c " style="left:260px;top:166px;width:36px;height:16px;line-height:16px;background:#bad5a1;">14,7</div>
<div class="c " style="left:297px;top:166px;width:35px;height:16px;line-height:16px;background:#e1e291;">17,9</div>
<div class="c " style="left:260px;top:182px;width:72px;height:1px;line-height:1px;background:#808080;"></div>
<div class="c " style="left:296px;top:166px;width:1px;height:17px;line-height:17px;background:#808080;"></div>
<div class="c " style="left:260px;top:183px;width:36px;height:15px;line-height:15px;background:#7ec3ba;">9,9</div>
<div class="c " style="left:297px;top:183px;width:35px;height:15px;line-height:15px;background:#ffe17a;">21,2</div>
<div class="c " style="left:260px;top:198px;width:72px;height:1px;line-height:1px;background:#808080;"></div>
<div class="c " style="left:296px;top:183px;width:1px;height:16px;line-height:16px;background:#808080;"></div>
<div class="c " style="left:260px;top:199px;width:36px;height:16px;line-height:16px;background:#58b7cb;">6,8</div>
<div class="c " style="left:297px;top:199px;width:35px;height:16px;line-height:16px;background:#ffdb74;">21,7</div>
<div class="c " style="left:260px;top:215px;width:72px;height:1px;line-height:1px;background:#808080;"></div>
<div class="c " style="left:296px;top:199px;width:1px;height:17px;line-height:17px;background:#808080;"></div>
<div class="c " style="left:260px;top:216px;width:36px;height:15px;line-height:15px;background:#97cab0;">11,9</div>
<div class="c " style="left:297px;top:216px;width:35px;height:15px;line-height:15px;background:#ffe27b;">21,1</div>
<div class="c " style="left:260px;top:231px;width:72px;height:1px;line-height:1px;background:#808080;"></div>
<div class="c " style="left:296px;top:216px;width:1px;height:16px;line-height:16px;background:#808080;"></div>
<div class="c " style="left:260px;top:232px;width:36px;height:16px;line-height:16px;background:#86c5b7;">10,5</div>
<div class="c " style="left:297px;top:232px;width:35px;height:16px;line-height:16px;background:#ffda73;">21,8</div>
<div class="c " style="left:260px;top:248px;width:72px;height:1px;line-height:1px;background:#808080;"></div>
<div class="c " style="left:296px;top:232px;width:1px;height:17px;line-height:17px;background:#808080;"></div>
<div class="c " style="left:260px;top:249px;width:36px;height:15px;line-height:15px;background:#67bbc4;">8,0</div>
<div class="c " style="left:297px;top:249px;width:35px;height:15px;line-height:15px;background:#ffcb64;">23,1</div>
<div class="c " style="left:260px;top:264px;width:72px;height:1px;line-height:1px;background:#808080;"></div>
<div class="c " style="left:296px;top:249px;width:1px;height:16px;line-height:16px;background:#808080;"></div>
<div class="c " style="left:260px;top:265px;width:36px;height:16px;line-height:16px;background:#87c5b7;">10,6</div>
<div class="c " style="left:297px;top:265px;width:35px;height:16px;line-height:16px;background:#ffda73;">21,8</div>
<div class="c " style="left:260px;top:281px;width:72px;height:1px;line-height:1px;background:#808080;"></div>
<div class="c " style="left:296px;top:265px;width:1px;height:17px;line-height:17px;background:#808080;"></div>
<div class="c " style="left:260px;top:282px;width:36px;height:15px;line-height:15px;background:#98cbaf;">12,0</div>
<div class="c " style="left:297px;top:282px;width:35px;height:15px;line-height:15px;background:#ffbf59;">24,1</div>
<div class="c " style="left:260px;top:297px;width:72px;height:1px;line-height:1px;background:#808080;"></div>
<div class="c " style="left:296px;top:282px;width:1px;height:16px;line-height:16px;background:#808080;"></div>
<div class="c " style="left:260px;top:298px;width:36px;height:16px;line-height:16px;background:#78c1bd;">9,4</div>
<div class="c " style="left:297px;top:298px;width:35px;height:16px;line-height:16px;background:#ffcf69;">22,7</div>
<div class="c " style="left:260px;top:314px;width:72px;height:1px;line-height:1px;background:#808080;"></div>
<div class="c " style="left:296px;top:298px;width:1px;height:17px;line-height:17px;background:#808080;"></div>
<div class="c " style="left:260px;top:315px;width:36px;height:15px;line-height:15px;background:#81c3b9;">10,1</div>
<div class="c " style="left:297px;top:315px;width:35px;height:15px;line-height:15px;background:#f5e888;">19,5</div>
<div class="c " style="left:260px;top:330px;width:72px;height:1px;line-height:1px;background:#808080;"></div>
<div class="c " style="left:296px;top:315px;width:1px;height:16px;line-height:16px;background:#808080;"></div>
<div class="c " style="left:260px;top:331px;width:36px;height:16px;line-height:16px;background:#95cab1;">11,7</div>
<div class="c " style="left:297px;top:331px;width:35px;height:16px;line-height:16px;background:#ffe27b;">21,1</div>
<div class="c " style="left:260px;top:347px;width:72px;height:1px;line-height:1px;background:#808080;"></div>
<div class="c " style="left:296px;top:331px;width:1px;height:17px;line-height:17px;background:#808080;"></div>
<div class="c " style="left:260px;top:348px;width:36px;height:15px;line-height:15px;background:#98cbaf;">12,0</div>
<div class="c " style="left:297px;top:348px;width:35px;height:15px;line-height:15px;background:#ffda73;">21,8</div>
<div class="c " style="left:260px;top:363px;width:72px;height:1px;line-height:1px;background:#808080;"></div>
<div class="c " style="left:296px;top:348px;width:1px;height:16px;line-height:16px;background:#808080;"></div>
<div class="c " style="left:260px;top:364px;width:36px;height:16px;line-height:16px;background:#90c8b3;">11,3</div>
<div class="c " style="left:297px;top:364px;width:35px;height:16px;line-height:16px;background:#ffcd67;">22,9</div>
<div class="c " style="left:260px;top:380px;width:72px;height:1px;line-height:1px;background:#808080;"></div>
<div class="c " style="left:296px;top:364px;width:1px;height:17px;line-height:17px;background:#808080;"></div>
<div class="c " style="left:260px;top:381px;width:36px;height:15px;line-height:15px;background:#87c5b7;">10,6</div>
<div class="c " style="left:297px;top:381px;width:35px;height:15px;line-height:15px;background:#ffb751;">24,8</div>
<div class="c " style="left:260px;top:396px;width:72px;height:1px;line-height:1px;background:#808080;"></div>
<div class="c " style="left:296px;top:381px;width:1px;height:16px;line-height:16px;background:#808080;"></div>
<div class="c " style="left:260px;top:397px;width:36px;height:16px;line-height:16px;background:#a3ceab;">12,9</div>
<div class="c " style="left:297px;top:397px;width:35px;height:16px;line-height:16px;background:#ffcb64;">23,1</div>
<div class="c " style="left:260px;top:413px;width:72px;height:1px;line-height:1px;background:#808080;"></div>
<div class="c " style="left:296px;top:397px;width:1px;height:17px;line-height:17px;background:#808080;"></div>
<div class="c " style="left:260px;top:414px;width:36px;height:15px;line-height:15px;background:#89c6b6;">10,8</div>
<div class="c " style="left:297px;top:414px;width:35px;height:15px;line-height:15px;background:#ffd56f;">22,2</div>
<div class="c " style="left:260px;top:429px;width:72px;height:1px;line-height:1px;background:#808080;"></div>
<div class="c " style="left:296px;top:414px;width:1px;height:16px;line-height:16px;background:#808080;"></div>
<div class="c " style="left:260px;top:430px;width:36px;height:16px;line-height:16px;background:#b1d3a5;">14,0</div>
<div class="c " style="left:297px;top:430px;width:35px;height:16px;line-height:16px;background:#ffc45e;">23,7</div>
<div class="c " style="left:260px;top:446px;width:72px;height:1px;line-height:1px;background:#808080;"></div>
<div class="c " style="left:296px;top:430px;width:1px;height:17px;line-height:17px;background:#808080;"></div>
<div class="c " style="left:260px;top:447px;width:36px;height:15px;line-height:15px;background:#89c6b6;">10,8</div>
<div class="c " style="left:297px;top:447px;width:35px;height:15px;line-height:15px;background:#ff932e;">27,9</div>
<div class="c " style="left:260px;top:462px;width:72px;height:1px;line-height:1px;background:#808080;"></div>
<div class="c " style="left:296px;top:447px;width:1px;height:16px;line-height:16px;background:#808080;"></div>
<div class="c " style="left:260px;top:463px;width:36px;height:15px;line-height:15px;background:#6ebec1;">8,6</div>
<div class="c " style="left:297px;top:463px;width:35px;height:15px;line-height:15px;background:#ffa53f;">26,4</div>
<div class="c " style="left:260px;top:478px;width:72px;height:1px;line-height:1px;background:#808080;"></div>
<div class="c " style="left:296px;top:463px;width:1px;height:16px;line-height:16px;background:#808080;"></div>
<div class="c " style="left:260px;top:479px;width:36px;height:15px;line-height:15px;background:#88c6b6;">10,7</div>
<div class="c " style="left:297px;top:479px;width:35px;height:15px;line-height:15px;background:#ffca63;">23,2</div>
<div class="c " style="left:260px;top:494px;width:72px;height:1px;line-height:1px;background:#808080;"></div>
<div class="c " style="left:296px;top:479px;width:1px;height:16px;line-height:16px;background:#808080;"></div>
<div class="c " style="left:260px;top:495px;width:36px;height:15px;line-height:15px;background:#a3ceab;">12,9</div>
<div class="c " style="left:297px;top:495px;width:35px;height:15px;line-height:15px;background:#ffb14c;">25,3</div>
<div class="c " style="left:260px;top:510px;width:72px;height:1px;line-height:1px;background:#808080;"></div>
<div class="c " style="left:296px;top:495px;width:1px;height:16px;line-height:16px;background:#808080;"></div>
<div class="c " style="left:260px;top:511px;width:36px;height:16px;line-height:16px;background:#7dc2bb;">9,8</div>
<div class="c " style="left:297px;top:511px;width:35px;height:16px;line-height:16px;background:#ff9f3a;">26,9</div>
<div class="c " style="left:260px;top:527px;width:72px;height:1px;line-height:1px;background:#808080;"></div>
<div class="c " style="left:296px;top:511px;width:1px;height:17px;line-height:17px;background:#808080;"></div>
<div class="c " style="left:260px;top:528px;width:36px;height:15px;line-height:15px;background:#79c1bd;">9,5</div>
<div class="c " style="left:297px;top:528px;width:35px;height:15px;line-height:15px;background:#ff9a35;">27,3</div>
<div class="c " style="left:260px;top:543px;width:72px;height:1px;line-height:1px;background:#808080;"></div>
<div class="c " style="left:296px;top:528px;width:1px;height:16px;line-height:16px;background:#808080;"></div>
<div class="c d" style="left:260px;top:544px;width:36px;height:15px;line-height:13px;background:#ffffff;">-</div>
<div class="c d" style="left:297px;top:544px;width:35px;height:15px;line-height:13px;background:#ffffff;">-</div>
<div class="c " style="left:296px;top:544px;width:1px;height:15px;line-height:15px;background:#808080;"></div>
<div class="c " style="left:334px;top:50px;width:36px;height:16px;line-height:16px;background:#87c5b7;">10,6</div>
<div class="c " style="left:371px;top:50px;width:35px;height:16px;line-height:16px;background:#ffa13c;">26,7</div>
<div class="c " style="left:334px;top:66px;width:72px;height:1px;line-height:1px;background:#808080;"></div>
<div class="c " style="left:370px;top:50px;width:1px;height:17px;line-height:17px;background:#808080;"></div>
<div class="c " style="left:334px;top:67px;width:36px;height:16px;line-height:16px;background:#b6d4a3;">14,4</div>
<div class="c " style="left:371px;top:67px;width:35px;height:16px;line-height:16px;background:#ffc45e;">23,7</div>
<div class="c " style="left:334px;top:83px;width:72px;height:1px;line-height:1px;background:#808080;"></div>
<div class="c " style="left:370px;top:67px;width:1px;height:17px;line-height:17px;background:#808080;"></div>
<div class="c " style="left:334px;top:84px;width:36px;height:15px;line-height:15px;background:#5db8c9;">7,2</div>
<div class="c " style="left:371px;top:84px;width:35px;height:15px;line-height:15px;background:#feeb85;">20,2</div>
<div class="c " style="left:334px;top:99px;width:72px;height:1px;line-height:1px;background:#808080;"></div>
<div class="c " style="left:370px;top:84px;width:1px;height:16px;line-height:16px;background:#808080;"></div>
<div class="c " style="left:334px;top:100px;width:36px;height:16px;line-height:16px;background:#46b1d2;">5,4</div>
<div class="c " style="left:371px;top:100px;width:35px;height:16px;line-height:16px;background:#ffe67f;">20,7</div>
<div class="c " style="left:334px;top:116px;width:72px;height:1px;line-height:1px;background:#808080;"></div>
<div class="c " style="left:370px;top:100px;width:1px;height:17px;line-height:17px;background:#808080;"></div>
<div class="c " style="left:334px;top:117px;width:36px;height:15px;line-height:15px;background:#91c8b3;">11,4</div>
<div class="c " style="left:371px;top:117px;width:35px;height:15px;line-height:15px;background:#ff9e38;">27,0</div>
<div class="c " style="left:334px;top:132px;width:72px;height:1px;line-height:1px;background:#808080;"></div>
<div class="c " style="left:370px;top:117px;width:1px;height:16px;line-height:16px;background:#808080;"></div>
<div class="c " style="left:334px;top:133px;width:36px;height:16px;line-height:16px;background:#8bc6b5;">10,9</div>
<div class="c " style="left:371px;top:133px;width:35px;height:16px;line-height:16px;background:#ffda73;">21,8</div>
<div class="c " style="left:334px;top:149px;width:72px;height:1px;line-height:1px;background:#808080;"></div>
<div class="c " style="left:370px;top:133px;width:1px;height:17px;line-height:17px;background:#808080;"></div>
<div class="c " style="left:334px;top:150px;width:36px;height:15px;line-height:15px;background:#7ec3ba;">9,9</div>
<div class="c " style="left:371px;top:150px;width:35px;height:15px;line-height:15px;background:#b2d3a4;">14,1</div>
<div class="c " style="left:334px;top:165px;width:72px;height:1px;line-height:1px;background:#808080;"></div>
<div class="c " style="left:370px;top:150px;width:1px;height:16px;line-height:16px;background:#808080;"></div>
<div class="c " style="left:334px;top:166px;width:36px;height:16px;line-height:16px;background:#74bfbf;">9,1</div>
<div class="c " style="left:371px;top:166px;width:35px;height:16px;line-height:16px;background:#c9da9b;">15,9</div>
<div class="c " style="left:334px;top:182px;width:72px;height:1px;line-height:1px;background:#808080;"></div>
<div class="c " style="left:370px;top:166px;width:1px;height:17px;line-height:17px;background:#808080;"></div>
<div class="c " style="left:334px;top:183px;width:36px;height:15px;line-height:15px;background:#46b1d2;">5,4</div>
<div class="c " style="left:371px;top:183px;width:35px;height:15px;line-height:15px;background:#ffd26b;">22,5</div>
<div class="c " style="left:334px;top:198px;width:72px;height:1px;line-height:1px;background:#808080;"></div>
<div class="c " style="left:370px;top:183px;width:1px;height:16px;line-height:16px;background:#808080;"></div>
<div class="c " style="left:334px;top:199px;width:36px;height:16px;line-height:16px;background:#48b1d1;">5,5</div>
<div class="c " style="left:371px;top:199px;width:35px;height:16px;line-height:16px;background:#ffb24d;">25,2</div>
<div class="c " style="left:334px;top:215px;width:72px;height:1px;line-height:1px;background:#808080;"></div>
<div class="c " style="left:370px;top:199px;width:1px;height:17px;line-height:17px;background:#808080;"></div>
<div class="c " style="left:334px;top:216px;width:36px;height:15px;line-height:15px;background:#39add8;">4,3</div>
<div class="c " style="left:371px;top:216px;width:35px;height:15px;line-height:15px;background:#ffb54f;">25,0</div>
<div class="c " style="left:334px;top:231px;width:72px;height:1px;line-height:1px;background:#808080;"></div>
<div class="c " style="left:370px;top:216px;width:1px;height:16px;line-height:16px;background:#808080;"></div>
<div class="c " style="left:334px;top:232px;width:36px;height:16px;line-height:16px;background:#45b1d2;">5,3</div>
<div class="c " style="left:371px;top:232px;width:35px;height:16px;line-height:16px;background:#ff9a35;">27,3</div>
<div class="c " style="left:334px;top:248px;width:72px;height:1px;line-height:1px;background:#808080;"></div>
<div class="c " style="left:370px;top:232px;width:1px;height:17px;line-height:17px;background:#808080;"></div>
<div class="c " style="left:334px;top:249px;width:36px;height:15px;line-height:15px;background:#55b6cc;">6,6</div>
<div class="c " style="left:371px;top:249px;width:35px;height:15px;line-height:15px;background:#ffcb64;">23,1</div>
<div class="c " style="left:334px;top:264px;width:72px;height:1px;line-height:1px;background:#808080;"></div>
<div class="c " style="left:370px;top:249px;width:1px;height:16px;line-height:16px;background:#808080;"></div>
<div class="c " style="left:334px;top:265px;width:36px;height:16px;line-height:16px;background:#a2ceab;">12,8</div>
<div class="c " style="left:371px;top:265px;width:35px;height:16px;line-height:16px;background:#f3e789;">19,3</div>
<div class="c " style="left:334px;top:281px;width:72px;height:1px;line-height:1px;background:#808080;"></div>
<div class="c " style="left:370px;top:265px;width:1px;height:17px;line-height:17px;background:#808080;"></div>
<div class="c " style="left:334px;top:282px;width:36px;height:15px;line-height:15px;background:#a0cdac;">12,6</div>
<div class="c " style="left:371px;top:282px;width:35px;height:15px;line-height:15px;background:#cfdc98;">16,4</div>
<div class="c " style="left:334px;top:297px;width:72px;height:1px;line-height:1px;background:#808080;"></div>
<div class="c " style="left:370px;top:282px;width:1px;height:16px;line-height:16px;background:#808080;"></div>
<div class="c " style="left:334px;top:298px;width:36px;height:16px;line-height:16px;background:#8bc6b5;">10,9</div>
<div class="c " style="left:371px;top:298px;width:35px;height:16px;line-height:16px;background:#ffd46d;">22,3</div>
<div class="c " style="left:334px;top:314px;width:72px;height:1px;line-height:1px;background:#808080;"></div>
<div class="c " style="left:370px;top:298px;width:1px;height:17px;line-height:17px;background:#808080;"></div>
<div class="c " style="left:334px;top:315px;width:36px;height:15px;line-height:15px;background:#4db3cf;">5,9</div>
<div class="c " style="left:371px;top:315px;width:35px;height:15px;line-height:15px;background:#ffaa45;">25,9</div>
<div class="c " style="left:334px;top:330px;width:72px;height:1px;line-height:1px;background:#808080;"></div>
<div class="c " style="left:370px;top:315px;width:1px;height:16px;line-height:16px;background:#808080;"></div>
<div class="c " style="left:334px;top:331px;width:36px;height:16px;line-height:16px;background:#1fa5e3;">2,2</div>
<div class="c " style="left:371px;top:331px;width:35px;height:16px;line-height:16px;background:#ffbb55;">24,5</div>
<div class="c " style="left:334px;top:347px;width:72px;height:1px;line-height:1px;background:#808080;"></div>
<div class="c " style="left:370px;top:331px;width:1px;height:17px;line-height:17px;background:#808080;"></div>
<div class="c " style="left:334px;top:348px;width:36px;height:15px;line-height:15px;background:#84c5b8;">10,4</div>
<div class="c " style="left:371px;top:348px;width:35px;height:15px;line-height:15px;background:#ffca63;">23,2</div>
<div class="c " style="left:334px;top:363px;width:72px;height:1px;line-height:1px;background:#808080;"></div>
<div class="c " style="left:370px;top:348px;width:1px;height:16px;line-height:16px;background:#808080;"></div>
<div class="c " style="left:334px;top:364px;width:36px;height:16px;line-height:16px;background:#7fc3ba;">10,0</div>
<div class="c " style="left:371px;top:364px;width:35px;height:16px;line-height:16px;background:#ffaf49;">25,5</div>
<div class="c " style="left:334px;top:380px;width:72px;height:1px;line-height:1px;background:#808080;"></div>
<div class="c " style="left:370px;top:364px;width:1px;height:17px;line-height:17px;background:#808080;"></div>
<div class="c " style="left:334px;top:381px;width:36px;height:15px;line-height:15px;background:#71bec0;">8,8</div>
<div class="c " style="left:371px;top:381px;width:35px;height:15px;line-height:15px;background:#ffa741;">26,2</div>
<div class="c " style="left:334px;top:396px;width:72px;height:1px;line-height:1px;background:#808080;"></div>
<div class="c " style="left:370px;top:381px;width:1px;height:16px;line-height:16px;background:#808080;"></div>
<div class="c " style="left:334px;top:397px;width:36px;height:16px;line-height:16px;background:#79c1bd;">9,5</div>
<div class="c " style="left:371px;top:397px;width:35px;height:16px;line-height:16px;background:#ffaa45;">25,9</div>
<div class="c " style="left:334px;top:413px;width:72px;height:1px;line-height:1px;background:#808080;"></div>
<div class="c " style="left:370px;top:397px;width:1px;height:17px;line-height:17px;background:#808080;"></div>
<div class="c " style="left:334px;top:414px;width:36px;height:15px;line-height:15px;background:#a8d0a9;">13,3</div>
<div class="c " style="left:371px;top:414px;width:35px;height:15px;line-height:15px;background:#fbea86;">20,0</div>
<div class="c " style="left:334px;top:429px;width:72px;height:1px;line-height:1px;background:#808080;"></div>
<div class="c " style="left:370px;top:414px;width:1px;height:16px;line-height:16px;background:#808080;"></div>
<div class="c " style="left:334px;top:430px;width:36px;height:16px;line-height:16px;background:#6dbdc2;">8,5</div>
<div class="c " style="left:371px;top:430px;width:35px;height:16px;line-height:16px;background:#cbdb9a;">16,1</div>
<div class="c " style="left:334px;top:446px;width:72px;height:1px;line-height:1px;background:#808080;"></div>
<div class="c " style="left:370px;top:430px;width:1px;height:17px;line-height:17px;background:#808080;"></div>
<div class="c " style="left:334px;top:447px;width:36px;height:15px;line-height:15px;background:#5ab7ca;">7,0</div>
<div class="c " style="left:371px;top:447px;width:35px;height:15px;line-height:15px;background:#f5e888;">19,5</div>
<div class="c " style="left:334px;top:462px;width:72px;height:1px;line-height:1px;background:#808080;"></div>
<div class="c " style="left:370px;top:447px;width:1px;height:16px;line-height:16px;background:#808080;"></div>
<div class="c " style="left:334px;top:463px;width:36px;height:15px;line-height:15px;background:#35acd9;">4,0</div>
<div class="c " style="left:371px;top:463px;width:35px;height:15px;line-height:15px;background:#fdea85;">20,1</div>
<div class="c " style="left:334px;top:478px;width:72px;height:1px;line-height:1px;background:#808080;"></div>
<div class="c " style="left:370px;top:463px;width:1px;height:16px;line-height:16px;background:#808080;"></div>
<div class="c " style="left:334px;top:479px;width:36px;height:15px;line-height:15px;background:#10a0e9;">1,0</div>
<div class="c " style="left:371px;top:479px;width:35px;height:15px;line-height:15px;background:#fdea85;">20,1</div>
<div class="c " style="left:334px;top:494px;width:72px;height:1px;line-height:1px;background:#808080;"></div>
<div class="c " style="left:370px;top:479px;width:1px;height:16px;line-height:16px;background:#808080;"></div>
<div class="c " style="left:334px;top:495px;width:36px;height:15px;line-height:15px;background:#2ca9dd;">3,3</div>
<div class="c " style="left:371px;top:495px;width:35px;height:15px;line-height:15px;background:#fae986;">19,9</div>
<div class="c " style="left:334px;top:510px;width:72px;height:1px;line-height:1px;background:#808080;"></div>
<div class="c " style="left:370px;top:495px;width:1px;height:16px;line-height:16px;background:#808080;"></div>
<div class="c " style="left:334px;top:511px;width:36px;height:16px;line-height:16px;background:#2faadc;">3,5</div>
<div class="c " style="left:371px;top:511px;width:35px;height:16px;line-height:16px;background:#ffb04a;">25,4</div>
<div class="c " style="left:334px;top:527px;width:72px;height:1px;line-height:1px;background:#808080;"></div>
<div class="c " style="left:370px;top:511px;width:1px;height:17px;line-height:17px;background:#808080;"></div>
<div class="c " style="left:334px;top:528px;width:36px;height:15px;line-height:15px;background:#29a8df;">3,0</div>
<div class="c " style="left:371px;top:528px;width:35px;height:15px;line-height:15px;background:#ffb54f;">25,0</div>
<div class="c " style="left:334px;top:543px;width:72px;height:1px;line-height:1px;background:#808080;"></div>
<div class="c " style="left:370px;top:528px;width:1px;height:16px;line-height:16px;background:#808080;"></div>
<div class="c " style="left:334px;top:544px;width:36px;height:15px;line-height:15px;background:#23a6e1;">2,5</div>
<div class="c " style="left:371px;top:544px;width:35px;height:15px;line-height:15px;background:#ffb751;">24,8</div>
<div class="c " style="left:370px;top:544px;width:1px;height:15px;line-height:15px;background:#808080;"></div>
<div class="c " style="left:408px;top:50px;width:36px;height:16px;line-height:16px;background:#35acd9;">4,0</div>
<div class="c " style="left:445px;top:50px;width:35px;height:16px;line-height:16px;background:#ffa23d;">26,6</div>
<div class="c " style="left:408px;top:66px;width:72px;height:1px;line-height:1px;background:#808080;"></div>
<div class="c " style="left:444px;top:50px;width:1px;height:17px;line-height:17px;background:#808080;"></div>
<div class="c " style="left:408px;top:67px;width:36px;height:16px;line-height:16px;background:#89c6b6;">10,8</div>
<div class="c " style="left:445px;top:67px;width:35px;height:16px;line-height:16px;background:#c5d99d;">15,6</div>
<div class="c " style="left:408px;top:83px;width:72px;height:1px;line-height:1px;background:#808080;"></div>
<div class="c " style="left:444px;top:67px;width:1px;height:17px;line-height:17px;background:#808080;"></div>
<div class="c " style="left:408px;top:84px;width:36px;height:15px;line-height:15px;background:#aad0a8;">13,4</div>
<div class="c " style="left:445px;top:84px;width:35px;height:15px;line-height:15px;background:#dfe192;">17,7</div>
<div class="c " style="left:408px;top:99px;width:72px;height:1px;line-height:1px;background:#808080;"></div>
<div class="c " style="left:444px;top:84px;width:1px;height:16px;line-height:16px;background:#808080;"></div>
<div class="c " style="left:408px;top:100px;width:36px;height:16px;line-height:16px;background:#bcd6a0;">14,9</div>
<div class="c " style="left:445px;top:100px;width:35px;height:16px;line-height:16px;background:#f1e78a;">19,2</div>
<div class="c " style="left:408px;top:116px;width:72px;height:1px;line-height:1px;background:#808080;"></div>
<div class="c " style="left:444px;top:100px;width:1px;height:17px;line-height:17px;background:#808080;"></div>
<div class="c " style="left:408px;top:117px;width:36px;height:15px;line-height:15px;background:#c0d79f;">15,2</div>
<div class="c " style="left:445px;top:117px;width:35px;height:15px;line-height:15px;background:#ffeb84;">20,3</div>
<div class="c " style="left:408px;top:132px;width:72px;height:1px;line-height:1px;background:#808080;"></div>
<div class="c " style="left:444px;top:117px;width:1px;height:16px;line-height:16px;background:#808080;"></div>
<div class="c " style="left:408px;top:133px;width:36px;height:16px;line-height:16px;background:#b7d4a2;">14,5</div>
<div class="c " style="left:445px;top:133px;width:35px;height:16px;line-height:16px;background:#ffcb64;">23,1</div>
<div class="c " style="left:408px;top:149px;width:72px;height:1px;line-height:1px;background:#808080;"></div>
<div class="c " style="left:444px;top:133px;width:1px;height:17px;line-height:17px;background:#808080;"></div>
<div class="c " style="left:408px;top:150px;width:36px;height:15px;line-height:15px;background:#7ac1bc;">9,6</div>
<div class="c " style="left:445px;top:150px;width:35px;height:15px;line-height:15px;background:#ffb54f;">25,0</div>
<div class="c " style="left:408px;top:165px;width:72px;height:1px;line-height:1px;background:#808080;"></div>
<div class="c " style="left:444px;top:150px;width:1px;height:16px;line-height:16px;background:#808080;"></div>
<div class="c " style="left:408px;top:166px;width:36px;height:16px;line-height:16px;background:#5fb9c8;">7,4</div>
<div class="c " style="left:445px;top:166px;width:35px;height:16px;line-height:16px;background:#ffa944;">26,0</div>
<div class="c " style="left:408px;top:182px;width:72px;height:1px;line-height:1px;background:#808080;"></div>
<div class="c " style="left:444px;top:166px;width:1px;height:17px;line-height:17px;background:#808080;"></div>
<div class="c " style="left:408px;top:183px;width:36px;height:15px;line-height:15px;background:#8ec8b4;">11,2</div>
<div class="c " style="left:445px;top:183px;width:35px;height:15px;line-height:15px;background:#ffbe58;">24,2</div>
<div class="c " style="left:408px;top:198px;width:72px;height:1px;line-height:1px;background:#808080;"></div>
<div class="c " style="left:444px;top:183px;width:1px;height:16px;line-height:16px;background:#808080;"></div>
<div class="c " style="left:408px;top:199px;width:36px;height:16px;line-height:16px;background:#b3d3a4;">14,2</div>
<div class="c " style="left:445px;top:199px;width:35px;height:16px;line-height:16px;background:#ffca63;">23,2</div>
<div class="c " style="left:408px;top:215px;width:72px;height:1px;line-height:1px;background:#808080;"></div>
<div class="c " style="left:444px;top:199px;width:1px;height:17px;line-height:17px;background:#808080;"></div>
<div class="c " style="left:408px;top:216px;width:36px;height:15px;line-height:15px;background:#a1cdac;">12,7</div>
<div class="c " style="left:445px;top:216px;width:35px;height:15px;line-height:15px;background:#ff942f;">27,8</div>
<div class="c " style="left:408px;top:231px;width:72px;height:1px;line-height:1px;background:#808080;"></div>
<div class="c " style="left:444px;top:216px;width:1px;height:16px;line-height:16px;background:#808080;"></div>
<div class="c " style="left:408px;top:232px;width:36px;height:16px;line-height:16px;background:#7cc2bb;">9,7</div>
<div class="c " style="left:445px;top:232px;width:35px;height:16px;line-height:16px;background:#ff902b;">28,2</div>
<div class="c " style="left:408px;top:248px;width:72px;height:1px;line-height:1px;background:#808080;"></div>
<div class="c " style="left:444px;top:232px;width:1px;height:17px;line-height:17px;background:#808080;"></div>
<div class="c " style="left:408px;top:249px;width:36px;height:15px;line-height:15px;background:#7dc2bb;">9,8</div>
<div class="c " style="left:445px;top:249px;width:35px;height:15px;line-height:15px;background:#ff8e29;">28,4</div>
<div class="c " style="left:408px;top:264px;width:72px;height:1px;line-height:1px;background:#808080;"></div>
<div class="c " style="left:444px;top:249px;width:1px;height:16px;line-height:16px;background:#808080;"></div>
<div class="c " style="left:408px;top:265px;width:36px;height:16px;line-height:16px;background:#a2ceab;">12,8</div>
<div class="c " style="left:445px;top:265px;width:35px;height:16px;line-height:16px;background:#e3e290;">18,0</div>
<div class="c " style="left:408px;top:281px;width:72px;height:1px;line-height:1px;background:#808080;"></div>
<div class="c " style="left:444px;top:265px;width:1px;height:17px;line-height:17px;background:#808080;"></div>
<div class="c " style="left:408px;top:282px;width:36px;height:15px;line-height:15px;background:#a7cfa9;">13,2</div>
<div class="c " style="left:445px;top:282px;width:35px;height:15px;line-height:15px;background:#e1e291;">17,9</div>
<div class="c " style="left:408px;top:297px;width:72px;height:1px;line-height:1px;background:#808080;"></div>
<div class="c " style="left:444px;top:282px;width:1px;height:16px;line-height:16px;background:#808080;"></div>
<div class="c " style="left:408px;top:298px;width:36px;height:16px;line-height:16px;background:#91c8b3;">11,4</div>
<div class="c " style="left:445px;top:298px;width:35px;height:16px;line-height:16px;background:#ffe57e;">20,8</div>
<div class="c " style="left:408px;top:314px;width:72px;height:1px;line-height:1px;background:#808080;"></div>
<div class="c " style="left:444px;top:298px;width:1px;height:17px;line-height:17px;background:#808080;"></div>
<div class="c " style="left:408px;top:315px;width:36px;height:15px;line-height:15px;background:#83c4b8;">10,3</div>
<div class="c " style="left:445px;top:315px;width:35px;height:15px;line-height:15px;background:#ffc35d;">23,8</div>
<div class="c " style="left:408px;top:330px;width:72px;height:1px;line-height:1px;background:#808080;"></div>
<div class="c " style="left:444px;top:315px;width:1px;height:16px;line-height:16px;background:#808080;"></div>
<div class="c " style="left:408px;top:331px;width:36px;height:16px;line-height:16px;background:#59b7ca;">6,9</div>
<div class="c " style="left:445px;top:331px;width:35px;height:16px;line-height:16px;background:#ffbd57;">24,3</div>
<div class="c " style="left:408px;top:347px;width:72px;height:1px;line-height:1px;background:#808080;"></div>
<div class="c " style="left:444px;top:331px;width:1px;height:17px;line-height:17px;background:#808080;"></div>
<div class="c " style="left:408px;top:348px;width:36px;height:15px;line-height:15px;background:#63bac6;">7,7</div>
<div class="c " style="left:445px;top:348px;width:35px;height:15px;line-height:15px;background:#ffb14c;">25,3</div>
<div class="c " style="left:408px;top:363px;width:72px;height:1px;line-height:1px;background:#808080;"></div>
<div class="c " style="left:444px;top:348px;width:1px;height:16px;line-height:16px;background:#808080;"></div>
<div class="c " style="left:408px;top:364px;width:36px;height:16px;line-height:16px;background:#4fb4ce;">6,1</div>
<div class="c " style="left:445px;top:364px;width:35px;height:16px;line-height:16px;background:#ff902b;">28,2</div>
<div class="c " style="left:408px;top:380px;width:72px;height:1px;line-height:1px;background:#808080;"></div>
<div class="c " style="left:444px;top:364px;width:1px;height:17px;line-height:17px;background:#808080;"></div>
<div class="c " style="left:408px;top:381px;width:36px;height:15px;line-height:15px;background:#69bcc3;">8,2</div>
<div class="c " style="left:445px;top:381px;width:35px;height:15px;line-height:15px;background:#ff9e38;">27,0</div>
<div class="c " style="left:408px;top:396px;width:72px;height:1px;line-height:1px;background:#808080;"></div>
<div class="c " style="left:444px;top:381px;width:1px;height:16px;line-height:16px;background:#808080;"></div>
<div class="c " style="left:408px;top:397px;width:36px;height:16px;line-height:16px;background:#5db8c9;">7,2</div>
<div class="c " style="left:445px;top:397px;width:35px;height:16px;line-height:16px;background:#ff9934;">27,4</div>
<div class="c " style="left:408px;top:413px;width:72px;height:1px;line-height:1px;background:#808080;"></div>
<div class="c " style="left:444px;top:397px;width:1px;height:17px;line-height:17px;background:#808080;"></div>
<div class="c " style="left:408px;top:414px;width:36px;height:15px;line-height:15px;background:#58b7cb;">6,8</div>
<div class="c " style="left:445px;top:414px;width:35px;height:15px;line-height:15px;background:#ffb24d;">25,2</div>
<div class="c " style="left:408px;top:429px;width:72px;height:1px;line-height:1px;background:#808080;"></div>
<div class="c " style="left:444px;top:414px;width:1px;height:16px;line-height:16px;background:#808080;"></div>
<div class="c " style="left:408px;top:430px;width:36px;height:16px;line-height:16px;background:#34abda;">3,9</div>
<div class="c " style="left:445px;top:430px;width:35px;height:16px;line-height:16px;background:#ffb650;">24,9</div>
<div class="c " style="left:408px;top:446px;width:72px;height:1px;line-height:1px;background:#808080;"></div>
<div class="c " style="left:444px;top:430px;width:1px;height:17px;line-height:17px;background:#808080;"></div>
<div class="c " style="left:408px;top:447px;width:36px;height:15px;line-height:15px;background:#5cb8c9;">7,1</div>
<div class="c " style="left:445px;top:447px;width:35px;height:15px;line-height:15px;background:#ffa944;">26,0</div>
<div class="c " style="left:408px;top:462px;width:72px;height:1px;line-height:1px;background:#808080;"></div>
<div class="c " style="left:444px;top:447px;width:1px;height:16px;line-height:16px;background:#808080;"></div>
<div class="c " style="left:408px;top:463px;width:36px;height:15px;line-height:15px;background:#a5cfaa;">13,0</div>
<div class="c " style="left:445px;top:463px;width:35px;height:15px;line-height:15px;background:#e1e291;">17,9</div>
<div class="c " style="left:408px;top:478px;width:72px;height:1px;line-height:1px;background:#808080;"></div>
<div class="c " style="left:444px;top:463px;width:1px;height:16px;line-height:16px;background:#808080;"></div>
<div class="c " style="left:408px;top:479px;width:36px;height:15px;line-height:15px;background:#93c9b2;">11,6</div>
<div class="c " style="left:445px;top:479px;width:35px;height:15px;line-height:15px;background:#b3d3a4;">14,2</div>
<div class="c " style="left:408px;top:494px;width:72px;height:1px;line-height:1px;background:#808080;"></div>
<div class="c " style="left:444px;top:479px;width:1px;height:16px;line-height:16px;background:#808080;"></div>
<div class="c " style="left:408px;top:495px;width:36px;height:15px;line-height:15px;background:#89c6b6;">10,8</div>
<div class="c " style="left:445px;top:495px;width:35px;height:15px;line-height:15px;background:#bad5a1;">14,7</div>
<div class="c " style="left:408px;top:510px;width:72px;height:1px;line-height:1px;background:#808080;"></div>
<div class="c " style="left:444px;top:495px;width:1px;height:16px;line-height:16px;background:#808080;"></div>
<div class="c " style="left:408px;top:511px;width:36px;height:16px;line-height:16px;background:#93c9b2;">11,6</div>
<div class="c " style="left:445px;top:511px;width:35px;height:16px;line-height:16px;background:#f0e68a;">19,1</div>
<div class="c " style="left:408px;top:527px;width:72px;height:1px;line-height:1px;background:#808080;"></div>
<div class="c " style="left:444px;top:511px;width:1px;height:17px;line-height:17px;background:#808080;"></div>
<div class="c " style="left:408px;top:528px;width:36px;height:15px;line-height:15px;background:#9bccae;">12,2</div>
<div class="c " style="left:445px;top:528px;width:35px;height:15px;line-height:15px;background:#ffcf69;">22,7</div>
<div class="c " style="left:408px;top:543px;width:72px;height:1px;line-height:1px;background:#808080;"></div>
<div class="c " style="left:444px;top:528px;width:1px;height:16px;line-height:16px;background:#808080;"></div>
<div class="c d" style="left:408px;top:544px;width:36px;height:15px;line-height:13px;background:#ffffff;">-</div>
<div class="c d" style="left:445px;top:544px;width:35px;height:15px;line-height:13px;background:#ffffff;">-</div>
<div class="c " style="left:444px;top:544px;width:1px;height:15px;line-height:15px;background:#808080;"></div>
<div class="c " style="left:482px;top:50px;width:36px;height:16px;line-height:16px;background:#4db3cf;">5,9</div>
<div class="c " style="left:519px;top:50px;width:35px;height:16px;line-height:16px;background:#ffe67f;">20,7</div>
<div class="c " style="left:482px;top:66px;width:72px;height:1px;line-height:1px;background:#808080;"></div>
<div class="c " style="left:518px;top:50px;width:1px;height:17px;line-height:17px;background:#808080;"></div>
<div class="c " style="left:482px;top:67px;width:36px;height:16px;line-height:16px;background:#24a6e1;">2,6</div>
<div class="c " style="left:519px;top:67px;width:35px;height:16px;line-height:16px;background:#d1dd97;">16,6</div>
<div class="c " style="left:482px;top:83px;width:72px;height:1px;line-height:1px;background:#808080;"></div>
<div class="c " style="left:518px;top:67px;width:1px;height:17px;line-height:17px;background:#808080;"></div>
<div class="c " style="left:482px;top:84px;width:36px;height:15px;line-height:15px;background:#60b9c7;">7,5</div>
<div class="c " style="left:519px;top:84px;width:35px;height:15px;line-height:15px;background:#d0dc98;">16,5</div>
<div class="c " style="left:482px;top:99px;width:72px;height:1px;line-height:1px;background:#808080;"></div>
<div class="c " style="left:518px;top:84px;width:1px;height:16px;line-height:16px;background:#808080;"></div>
<div class="c " style="left:482px;top:100px;width:36px;height:16px;line-height:16px;background:#6cbdc2;">8,4</div>
<div class="c " style="left:519px;top:100px;width:35px;height:16px;line-height:16px;background:#ffca63;">23,2</div>
<div class="c " style="left:482px;top:116px;width:72px;height:1px;line-height:1px;background:#808080;"></div>
<div class="c " style="left:518px;top:100px;width:1px;height:17px;line-height:17px;background:#808080;"></div>
<div class="c " style="left:482px;top:117px;width:36px;height:15px;line-height:15px;background:#5db8c9;">7,2</div>
<div class="c " style="left:519px;top:117px;width:35px;height:15px;line-height:15px;background:#ffa741;">26,2</div>
<div class="c " style="left:482px;top:132px;width:72px;height:1px;line-height:1px;background:#808080;"></div>
<div class="c " style="left:518px;top:117px;width:1px;height:16px;line-height:16px;background:#808080;"></div>
<div class="c " style="left:482px;top:133px;width:36px;height:16px;line-height:16px;background:#87c5b7;">10,6</div>
<div class="c " style="left:519px;top:133px;width:35px;height:16px;line-height:16px;background:#ffc05a;">24,0</div>
<div class="c " style="left:482px;top:149px;width:72px;height:1px;line-height:1px;background:#808080;"></div>
<div class="c " style="left:518px;top:133px;width:1px;height:17px;line-height:17px;background:#808080;"></div>
<div class="c " style="left:482px;top:150px;width:36px;height:15px;line-height:15px;background:#89c6b6;">10,8</div>
<div class="c " style="left:519px;top:150px;width:35px;height:15px;line-height:15px;background:#ff9d37;">27,1</div>
<div class="c " style="left:482px;top:165px;width:72px;height:1px;line-height:1px;background:#808080;"></div>
<div class="c " style="left:518px;top:150px;width:1px;height:16px;line-height:16px;background:#808080;"></div>
<div class="c " style="left:482px;top:166px;width:36px;height:16px;line-height:16px;background:#86c5b7;">10,5</div>
<div class="c " style="left:519px;top:166px;width:35px;height:16px;line-height:16px;background:#ffac46;">25,8</div>
<div class="c " style="left:482px;top:182px;width:72px;height:1px;line-height:1px;background:#808080;"></div>
<div class="c " style="left:518px;top:166px;width:1px;height:17px;line-height:17px;background:#808080;"></div>
<div class="c " style="left:482px;top:183px;width:36px;height:15px;line-height:15px;background:#83c4b8;">10,3</div>
<div class="c " style="left:519px;top:183px;width:35px;height:15px;line-height:15px;background:#ffe17a;">21,2</div>
<div class="c " style="left:482px;top:198px;width:72px;height:1px;line-height:1px;background:#808080;"></div>
<div class="c " style="left:518px;top:183px;width:1px;height:16px;line-height:16px;background:#808080;"></div>
<div class="c " style="left:482px;top:199px;width:36px;height:16px;line-height:16px;background:#59b7ca;">6,9</div>
<div class="c " style="left:519px;top:199px;width:35px;height:16px;line-height:16px;background:#ffd36c;">22,4</div>
<div class="c " style="left:482px;top:215px;width:72px;height:1px;line-height:1px;background:#808080;"></div>
<div class="c " style="left:518px;top:199px;width:1px;height:17px;line-height:17px;background:#808080;"></div>
<div class="c " style="left:482px;top:216px;width:36px;height:15px;line-height:15px;background:#83c4b8;">10,3</div>
<div class="c " style="left:519px;top:216px;width:35px;height:15px;line-height:15px;background:#ffac46;">25,8</div>
<div class="c " style="left:482px;top:231px;width:72px;height:1px;line-height:1px;background:#808080;"></div>
<div class="c " style="left:518px;top:216px;width:1px;height:16px;line-height:16px;background:#808080;"></div>
<div class="c " style="left:482px;top:232px;width:36px;height:16px;line-height:16px;background:#6abcc3;">8,3</div>
<div class="c " style="left:519px;top:232px;width:35px;height:16px;line-height:16px;background:#ffa640;">26,3</div>
<div class="c " style="left:482px;top:248px;width:72px;height:1px;line-height:1px;background:#808080;"></div>
<div class="c " style="left:518px;top:232px;width:1px;height:17px;line-height:17px;background:#808080;"></div>
<div class="c " style="left:482px;top:249px;width:36px;height:15px;line-height:15px;background:#72bfc0;">8,9</div>
<div class="c " style="left:519px;top:249px;width:35px;height:15px;line-height:15px;background:#ff8521;">29,1</div>
<div class="c " style="left:482px;top:264px;width:72px;height:1px;line-height:1px;background:#808080;"></div>
<div class="c " style="left:518px;top:249px;width:1px;height:16px;line-height:16px;background:#808080;"></div>
<div class="c " style="left:482px;top:265px;width:36px;height:16px;line-height:16px;background:#9dccad;">12,4</div>
<div class="c " style="left:519px;top:265px;width:35px;height:16px;line-height:16px;background:#c9da9b;">15,9</div>
<div class="c " style="left:482px;top:281px;width:72px;height:1px;line-height:1px;background:#808080;"></div>
<div class="c " style="left:518px;top:265px;width:1px;height:17px;line-height:17px;background:#808080;"></div>
<div class="c " style="left:482px;top:282px;width:36px;height:15px;line-height:15px;background:#8dc7b4;">11,1</div>
<div class="c " style="left:519px;top:282px;width:35px;height:15px;line-height:15px;background:#99cbaf;">12,1</div>
<div class="c " style="left:482px;top:297px;width:72px;height:1px;line-height:1px;background:#808080;"></div>
<div class="c " style="left:518px;top:282px;width:1px;height:16px;line-height:16px;background:#808080;"></div>
<div class="c " style="left:482px;top:298px;width:36px;height:16px;line-height:16px;background:#8ec8b4;">11,2</div>
<div class="c " style="left:519px;top:298px;width:35px;height:16px;line-height:16px;background:#cada9b;">16,0</div>
<div class="c " style="left:482px;top:314px;width:72px;height:1px;line-height:1px;background:#808080;"></div>
<div class="c " style="left:518px;top:298px;width:1px;height:17px;line-height:17px;background:#808080;"></div>
<div class="c " style="left:482px;top:315px;width:36px;height:15px;line-height:15px;background:#8dc7b4;">11,1</div>
<div class="c " style="left:519px;top:315px;width:35px;height:15px;line-height:15px;background:#ffd36c;">22,4</div>
<div class="c " style="left:482px;top:330px;width:72px;height:1px;line-height:1px;background:#808080;"></div>
<div class="c " style="left:518px;top:315px;width:1px;height:16px;line-height:16px;background:#808080;"></div>
<div class="c " style="left:482px;top:331px;width:36px;height:16px;line-height:16px;background:#7cc2bb;">9,7</div>
<div class="c " style="left:519px;top:331px;width:35px;height:16px;line-height:16px;background:#ffb14c;">25,3</div>
<div class="c " style="left:482px;top:347px;width:72px;height:1px;line-height:1px;background:#808080;"></div>
<div class="c " style="left:518px;top:331px;width:1px;height:17px;line-height:17px;background:#808080;"></div>
<div class="c " style="left:482px;top:348px;width:36px;height:15px;line-height:15px;background:#72bfc0;">8,9</div>
<div class="c " style="left:519px;top:348px;width:35px;height:15px;line-height:15px;background:#ffb44e;">25,1</div>
<div class="c " style="left:482px;top:363px;width:72px;height:1px;line-height:1px;background:#808080;"></div>
<div class="c " style="left:518px;top:348px;width:1px;height:16px;line-height:16px;background:#808080;"></div>
<div class="c " style="left:482px;top:364px;width:36px;height:16px;line-height:16px;background:#4ab2d0;">5,7</div>
<div class="c " style="left:519px;top:364px;width:35px;height:16px;line-height:16px;background:#ffb650;">24,9</div>
<div class="c " style="left:482px;top:380px;width:72px;height:1px;line-height:1px;background:#808080;"></div>
<div class="c " style="left:518px;top:364px;width:1px;height:17px;line-height:17px;background:#808080;"></div>
<div class="c " style="left:482px;top:381px;width:36px;height:15px;line-height:15px;background:#49b2d1;">5,6</div>
<div class="c " style="left:519px;top:381px;width:35px;height:15px;line-height:15px;background:#ffa53f;">26,4</div>
<div class="c " style="left:482px;top:396px;width:72px;height:1px;line-height:1px;background:#808080;"></div>
<div class="c " style="left:518px;top:381px;width:1px;height:16px;line-height:16px;background:#808080;"></div>
<div class="c " style="left:482px;top:397px;width:36px;height:16px;line-height:16px;background:#54b5cc;">6,5</div>
<div class="c " style="left:519px;top:397px;width:35px;height:16px;line-height:16px;background:#ffa640;">26,3</div>
<div class="c " style="left:482px;top:413px;width:72px;height:1px;line-height:1px;background:#808080;"></div>
<div class="c " style="left:518px;top:397px;width:1px;height:17px;line-height:17px;background:#808080;"></div>
<div class="c " style="left:482px;top:414px;width:36px;height:15px;line-height:15px;background:#4ab2d0;">5,7</div>
<div class="c " style="left:519px;top:414px;width:35px;height:15px;line-height:15px;background:#ff9f3a;">26,9</div>
<div class="c " style="left:482px;top:429px;width:72px;height:1px;line-height:1px;background:#808080;"></div>
<div class="c " style="left:518px;top:414px;width:1px;height:16px;line-height:16px;background:#808080;"></div>
<div class="c " style="left:482px;top:430px;width:36px;height:16px;line-height:16px;background:#52b5cd;">6,3</div>
<div class="c " style="left:519px;top:430px;width:35px;height:16px;line-height:16px;background:#ffad47;">25,7</div>
<div class="c " style="left:482px;top:446px;width:72px;height:1px;line-height:1px;background:#808080;"></div>
<div class="c " style="left:518px;top:430px;width:1px;height:17px;line-height:17px;background:#808080;"></div>
<div class="c " style="left:482px;top:447px;width:36px;height:15px;line-height:15px;background:#4eb3cf;">6,0</div>
<div class="c " style="left:519px;top:447px;width:35px;height:15px;line-height:15px;background:#ff9934;">27,4</div>
<div class="c " style="left:482px;top:462px;width:72px;height:1px;line-height:1px;background:#808080;"></div>
<div class="c " style="left:518px;top:447px;width:1px;height:16px;line-height:16px;background:#808080;"></div>
<div class="c " style="left:482px;top:463px;width:36px;height:15px;line-height:15px;background:#a5cfaa;">13,0</div>
<div class="c " style="left:519px;top:463px;width:35px;height:15px;line-height:15px;background:#ccdb99;">16,2</div>
<div class="c " style="left:482px;top:478px;width:72px;height:1px;line-height:1px;background:#808080;"></div>
<div class="c " style="left:518px;top:463px;width:1px;height:16px;line-height:16px;background:#808080;"></div>
<div class="c " style="left:482px;top:479px;width:36px;height:15px;line-height:15px;background:#77c0be;">9,3</div>
<div class="c " style="left:519px;top:479px;width:35px;height:15px;line-height:15px;background:#ff9a35;">27,3</div>
<div class="c " style="left:482px;top:494px;width:72px;height:1px;line-height:1px;background:#808080;"></div>
<div class="c " style="left:518px;top:479px;width:1px;height:16px;line-height:16px;background:#808080;"></div>
<div class="c " style="left:482px;top:495px;width:36px;height:15px;line-height:15px;background:#64bac5;">7,8</div>
<div class="c " style="left:519px;top:495px;width:35px;height:15px;line-height:15px;background:#ff9833;">27,5</div>
<div class="c " style="left:482px;top:510px;width:72px;height:1px;line-height:1px;background:#808080;"></div>
<div class="c " style="left:518px;top:495px;width:1px;height:16px;line-height:16px;background:#808080;"></div>
<div class="c " style="left:482px;top:511px;width:36px;height:16px;line-height:16px;background:#91c8b3;">11,4</div>
<div class="c " style="left:519px;top:511px;width:35px;height:16px;line-height:16px;background:#d1dd97;">16,6</div>
<div class="c " style="left:482px;top:527px;width:72px;height:1px;line-height:1px;background:#808080;"></div>
<div class="c " style="left:518px;top:511px;width:1px;height:17px;line-height:17px;background:#808080;"></div>
<div class="c " style="left:482px;top:528px;width:36px;height:15px;line-height:15px;background:#8bc6b5;">10,9</div>
<div class="c " style="left:519px;top:528px;width:35px;height:15px;line-height:15px;background:#add1a7;">13,7</div>
<div class="c " style="left:482px;top:543px;width:72px;height:1px;line-height:1px;background:#808080;"></div>
<div class="c " style="left:518px;top:528px;width:1px;height:16px;line-height:16px;background:#808080;"></div>
<div class="c " style="left:482px;top:544px;width:36px;height:15px;line-height:15px;background:#95cab1;">11,7</div>
<div class="c " style="left:519px;top:544px;width:35px;height:15px;line-height:15px;background:#d2dd97;">16,7</div>
<div class="c " style="left:518px;top:544px;width:1px;height:15px;line-height:15px;background:#808080;"></div>
<div class="c " style="left:556px;top:50px;width:36px;height:16px;line-height:16px;background:#98cbaf;">12,0</div>
<div class="c " style="left:593px;top:50px;width:35px;height:16px;line-height:16px;background:#f6e888;">19,6</div>
<div class="c " style="left:556px;top:66px;width:72px;height:1px;line-height:1px;background:#808080;"></div>
<div class="c " style="left:592px;top:50px;width:1px;height:17px;line-height:17px;background:#808080;"></div>
<div class="c " style="left:556px;top:67px;width:36px;height:16px;line-height:16px;background:#8bc6b5;">10,9</div>
<div class="c " style="left:593px;top:67px;width:35px;height:16px;line-height:16px;background:#ffdd76;">21,5</div>
<div class="c " style="left:556px;top:83px;width:72px;height:1px;line-height:1px;background:#808080;"></div>
<div class="c " style="left:592px;top:67px;width:1px;height:17px;line-height:17px;background:#808080;"></div>
<div class="c " style="left:556px;top:84px;width:36px;height:15px;line-height:15px;background:#42b0d4;">5,0</div>
<div class="c " style="left:593px;top:84px;width:35px;height:15px;line-height:15px;background:#ffe982;">20,5</div>
<div class="c " style="left:556px;top:99px;width:72px;height:1px;line-height:1px;background:#808080;"></div>
<div class="c " style="left:592px;top:84px;width:1px;height:16px;line-height:16px;background:#808080;"></div>
<div class="c " style="left:556px;top:100px;width:36px;height:16px;line-height:16px;background:#5cb8c9;">7,1</div>
<div class="c " style="left:593px;top:100px;width:35px;height:16px;line-height:16px;background:#ffdf79;">21,3</div>
<div class="c " style="left:556px;top:116px;width:72px;height:1px;line-height:1px;background:#808080;"></div>
<div class="c " style="left:592px;top:100px;width:1px;height:17px;line-height:17px;background:#808080;"></div>
<div class="c " style="left:556px;top:117px;width:36px;height:15px;line-height:15px;background:#53b5cd;">6,4</div>
<div class="c " style="left:593px;top:117px;width:35px;height:15px;line-height:15px;background:#ffd36c;">22,4</div>
<div class="c " style="left:556px;top:132px;width:72px;height:1px;line-height:1px;background:#808080;"></div>
<div class="c " style="left:592px;top:117px;width:1px;height:16px;line-height:16px;background:#808080;"></div>
<div class="c " style="left:556px;top:133px;width:36px;height:16px;line-height:16px;background:#71bec0;">8,8</div>
<div class="c " style="left:593px;top:133px;width:35px;height:16px;line-height:16px;background:#ffcf69;">22,7</div>
<div class="c " style="left:556px;top:149px;width:72px;height:1px;line-height:1px;background:#808080;"></div>
<div class="c " style="left:592px;top:133px;width:1px;height:17px;line-height:17px;background:#808080;"></div>
<div class="c " style="left:556px;top:150px;width:36px;height:15px;line-height:15px;background:#42b0d4;">5,0</div>
<div class="c " style="left:593px;top:150px;width:35px;height:15px;line-height:15px;background:#ffbf59;">24,1</div>
<div class="c " style="left:556px;top:165px;width:72px;height:1px;line-height:1px;background:#808080;"></div>
<div class="c " style="left:592px;top:150px;width:1px;height:16px;line-height:16px;background:#808080;"></div>
<div class="c " style="left:556px;top:166px;width:36px;height:16px;line-height:16px;background:#40afd5;">4,9</div>
<div class="c " style="left:593px;top:166px;width:35px;height:16px;line-height:16px;background:#ffca63;">23,2</div>
<div class="c " style="left:556px;top:182px;width:72px;height:1px;line-height:1px;background:#808080;"></div>
<div class="c " style="left:592px;top:166px;width:1px;height:17px;line-height:17px;background:#808080;"></div>
<div class="c " style="left:556px;top:183px;width:36px;height:15px;line-height:15px;background:#7dc2bb;">9,8</div>
<div class="c " style="left:593px;top:183px;width:35px;height:15px;line-height:15px;background:#ffbb55;">24,5</div>
<div class="c " style="left:556px;top:198px;width:72px;height:1px;line-height:1px;background:#808080;"></div>
<div class="c " style="left:592px;top:183px;width:1px;height:16px;line-height:16px;background:#808080;"></div>
<div class="c " style="left:556px;top:199px;width:36px;height:16px;line-height:16px;background:#50b4ce;">6,2</div>
<div class="c " style="left:593px;top:199px;width:35px;height:16px;line-height:16px;background:#ff9b36;">27,2</div>
<div class="c " style="left:556px;top:215px;width:72px;height:1px;line-height:1px;background:#808080;"></div>
<div class="c " style="left:592px;top:199px;width:1px;height:17px;line-height:17px;background:#808080;"></div>
<div class="c " style="left:556px;top:216px;width:36px;height:15px;line-height:15px;background:#4bb3d0;">5,8</div>
<div class="c " style="left:593px;top:216px;width:35px;height:15px;line-height:15px;background:#ffa03b;">26,8</div>
<div class="c " style="left:556px;top:231px;width:72px;height:1px;line-height:1px;background:#808080;"></div>
<div class="c " style="left:592px;top:216px;width:1px;height:16px;line-height:16px;background:#808080;"></div>
<div class="c " style="left:556px;top:232px;width:36px;height:16px;line-height:16px;background:#b6d4a3;">14,4</div>
<div class="c " style="left:593px;top:232px;width:35px;height:16px;line-height:16px;background:#ffa843;">26,1</div>
<div class="c " style="left:556px;top:248px;width:72px;height:1px;line-height:1px;background:#808080;"></div>
<div class="c " style="left:592px;top:232px;width:1px;height:17px;line-height:17px;background:#808080;"></div>
<div class="c " style="left:556px;top:249px;width:36px;height:15px;line-height:15px;background:#a2ceab;">12,8</div>
<div class="c " style="left:593px;top:249px;width:35px;height:15px;line-height:15px;background:#ff9732;">27,6</div>
<div class="c " style="left:556px;top:264px;width:72px;height:1px;line-height:1px;background:#808080;"></div>
<div class="c " style="left:592px;top:249px;width:1px;height:16px;line-height:16px;background:#808080;"></div>
<div class="c " style="left:556px;top:265px;width:36px;height:16px;line-height:16px;background:#99cbaf;">12,1</div>
<div class="c " style="left:593px;top:265px;width:35px;height:16px;line-height:16px;background:#ff9e38;">27,0</div>
<div class="c " style="left:556px;top:281px;width:72px;height:1px;line-height:1px;background:#808080;"></div>
<div class="c " style="left:592px;top:265px;width:1px;height:17px;line-height:17px;background:#808080;"></div>
<div class="c " style="left:556px;top:282px;width:36px;height:15px;line-height:15px;background:#b0d2a5;">13,9</div>
<div class="c " style="left:593px;top:282px;width:35px;height:15px;line-height:15px;background:#f0e68a;">19,1</div>
<div class="c " style="left:556px;top:297px;width:72px;height:1px;line-height:1px;background:#808080;"></div>
<div class="c " style="left:592px;top:282px;width:1px;height:16px;line-height:16px;background:#808080;"></div>
<div class="c " style="left:556px;top:298px;width:36px;height:16px;line-height:16px;background:#add1a7;">13,7</div>
<div class="c " style="left:593px;top:298px;width:35px;height:16px;line-height:16px;background:#d9df94;">17,2</div>
<div class="c " style="left:556px;top:314px;width:72px;height:1px;line-height:1px;background:#808080;"></div>
<div class="c " style="left:592px;top:298px;width:1px;height:17px;line-height:17px;background:#808080;"></div>
<div class="c " style="left:556px;top:315px;width:36px;height:15px;line-height:15px;background:#b7d4a2;">14,5</div>
<div class="c " style="left:593px;top:315px;width:35px;height:15px;line-height:15px;background:#f0e68a;">19,1</div>
<div class="c " style="left:556px;top:330px;width:72px;height:1px;line-height:1px;background:#808080;"></div>
<div class="c " style="left:592px;top:315px;width:1px;height:16px;line-height:16px;background:#808080;"></div>
<div class="c " style="left:556px;top:331px;width:36px;height:16px;line-height:16px;background:#afd2a6;">13,8</div>
<div class="c " style="left:593px;top:331px;width:35px;height:16px;line-height:16px;background:#ebe58c;">18,7</div>
<div class="c " style="left:556px;top:347px;width:72px;height:1px;line-height:1px;background:#808080;"></div>
<div class="c " style="left:592px;top:331px;width:1px;height:17px;line-height:17px;background:#808080;"></div>
<div class="c " style="left:556px;top:348px;width:36px;height:15px;line-height:15px;background:#b5d4a3;">14,3</div>
<div class="c " style="left:593px;top:348px;width:35px;height:15px;line-height:15px;background:#ffce68;">22,8</div>
<div class="c " style="left:556px;top:363px;width:72px;height:1px;line-height:1px;background:#808080;"></div>
<div class="c " style="left:592px;top:348px;width:1px;height:16px;line-height:16px;background:#808080;"></div>
<div class="c " style="left:556px;top:364px;width:36px;height:16px;line-height:16px;background:#88c6b6;">10,7</div>
<div class="c " style="left:593px;top:364px;width:35px;height:16px;line-height:16px;background:#b3d3a4;">14,2</div>
<div class="c " style="left:556px;top:380px;width:72px;height:1px;line-height:1px;background:#808080;"></div>
<div class="c " style="left:592px;top:364px;width:1px;height:17px;line-height:17px;background:#808080;"></div>
<div class="c " style="left:556px;top:381px;width:36px;height:15px;line-height:15px;background:#59b7ca;">6,9</div>
<div class="c " style="left:593px;top:381px;width:35px;height:15px;line-height:15px;background:#8bc6b5;">10,9</div>
<div class="c " style="left:556px;top:396px;width:72px;height:1px;line-height:1px;background:#808080;"></div>
<div class="c " style="left:592px;top:381px;width:1px;height:16px;line-height:16px;background:#808080;"></div>
<div class="c " style="left:556px;top:397px;width:36px;height:16px;line-height:16px;background:#59b7ca;">6,9</div>
<div class="c " style="left:593px;top:397px;width:35px;height:16px;line-height:16px;background:#8cc7b5;">11,0</div>
<div class="c " style="left:556px;top:413px;width:72px;height:1px;line-height:1px;background:#808080;"></div>
<div class="c " style="left:592px;top:397px;width:1px;height:17px;line-height:17px;background:#808080;"></div>
<div class="c " style="left:556px;top:414px;width:36px;height:15px;line-height:15px;background:#4db3cf;">5,9</div>
<div class="c " style="left:593px;top:414px;width:35px;height:15px;line-height:15px;background:#d5de96;">16,9</div>
<div class="c " style="left:556px;top:429px;width:72px;height:1px;line-height:1px;background:#808080;"></div>
<div class="c " style="left:592px;top:414px;width:1px;height:16px;line-height:16px;background:#808080;"></div>
<div class="c " style="left:556px;top:430px;width:36px;height:16px;line-height:16px;background:#2ba9dd;">3,2</div>
<div class="c " style="left:593px;top:430px;width:35px;height:16px;line-height:16px;background:#e5e38f;">18,2</div>
<div class="c " style="left:556px;top:446px;width:72px;height:1px;line-height:1px;background:#808080;"></div>
<div class="c " style="left:592px;top:430px;width:1px;height:17px;line-height:17px;background:#808080;"></div>
<div class="c " style="left:556px;top:447px;width:36px;height:15px;line-height:15px;background:#43b0d4;">5,1</div>
<div class="c " style="left:593px;top:447px;width:35px;height:15px;line-height:15px;background:#e1e291;">17,9</div>
<div class="c " style="left:556px;top:462px;width:72px;height:1px;line-height:1px;background:#808080;"></div>
<div class="c " style="left:592px;top:447px;width:1px;height:16px;line-height:16px;background:#808080;"></div>
<div class="c " style="left:556px;top:463px;width:36px;height:15px;line-height:15px;background:#11a0e8;">1,1</div>
<div class="c " style="left:593px;top:463px;width:35px;height:15px;line-height:15px;background:#ffe57e;">20,8</div>
<div class="c " style="left:556px;top:478px;width:72px;height:1px;line-height:1px;background:#808080;"></div>
<div class="c " style="left:592px;top:463px;width:1px;height:16px;line-height:16px;background:#808080;"></div>
<div class="c " style="left:556px;top:479px;width:36px;height:15px;line-height:15px;background:#34abda;">3,9</div>
<div class="c " style="left:593px;top:479px;width:35px;height:15px;line-height:15px;background:#ffb751;">24,8</div>
<div class="c " style="left:556px;top:494px;width:72px;height:1px;line-height:1px;background:#808080;"></div>
<div class="c " style="left:592px;top:479px;width:1px;height:16px;line-height:16px;background:#808080;"></div>
<div class="c " style="left:556px;top:495px;width:36px;height:15px;line-height:15px;background:#4db3cf;">5,9</div>
<div class="c " style="left:593px;top:495px;width:35px;height:15px;line-height:15px;background:#ff942f;">27,8</div>
<div class="c " style="left:556px;top:510px;width:72px;height:1px;line-height:1px;background:#808080;"></div>
<div class="c " style="left:592px;top:495px;width:1px;height:16px;line-height:16px;background:#808080;"></div>
<div class="c " style="left:556px;top:511px;width:36px;height:16px;line-height:16px;background:#5ab7ca;">7,0</div>
<div class="c " style="left:593px;top:511px;width:35px;height:16px;line-height:16px;background:#ff821d;">29,4</div>
<div class="c " style="left:556px;top:527px;width:72px;height:1px;line-height:1px;background:#808080;"></div>
<div class="c " style="left:592px;top:511px;width:1px;height:17px;line-height:17px;background:#808080;"></div>
<div class="c " style="left:556px;top:528px;width:36px;height:15px;line-height:15px;background:#6dbdc2;">8,5</div>
<div class="c " style="left:593px;top:528px;width:35px;height:15px;line-height:15px;background:#ff710c;">30,9</div>
<div class="c " style="left:556px;top:543px;width:72px;height:1px;line-height:1px;background:#808080;"></div>
<div class="c " style="left:592px;top:528px;width:1px;height:16px;line-height:16px;background:#808080;"></div>
<div class="c " style="left:556px;top:544px;width:36px;height:15px;line-height:15px;background:#bbd6a1;">14,8</div>
<div class="c " style="left:593px;top:544px;width:35px;height:15px;line-height:15px;background:#f0e68a;">19,1</div>
<div class="c " style="left:592px;top:544px;width:1px;height:15px;line-height:15px;background:#808080;"></div>
<div class="c " style="left:630px;top:50px;width:36px;height:16px;line-height:16px;background:#add1a7;">13,7</div>
<div class="c " style="left:667px;top:50px;width:35px;height:16px;line-height:16px;background:#dce093;">17,5</div>
<div class="c " style="left:630px;top:66px;width:72px;height:1px;line-height:1px;background:#808080;"></div>
<div class="c " style="left:666px;top:50px;width:1px;height:17px;line-height:17px;background:#808080;"></div>
<div class="c " style="left:630px;top:67px;width:36px;height:16px;line-height:16px;background:#acd1a7;">13,6</div>
<div class="c " style="left:667px;top:67px;width:35px;height:16px;line-height:16px;background:#ffd36c;">22,4</div>
<div class="c " style="left:630px;top:83px;width:72px;height:1px;line-height:1px;background:#808080;"></div>
<div class="c " style="left:666px;top:67px;width:1px;height:17px;line-height:17px;background:#808080;"></div>
<div class="c " style="left:630px;top:84px;width:36px;height:15px;line-height:15px;background:#a7cfa9;">13,2</div>
<div class="c " style="left:667px;top:84px;width:35px;height:15px;line-height:15px;background:#ff8a25;">28,7</div>
<div class="c " style="left:630px;top:99px;width:72px;height:1px;line-height:1px;background:#808080;"></div>
<div class="c " style="left:666px;top:84px;width:1px;height:16px;line-height:16px;background:#808080;"></div>
<div class="c " style="left:630px;top:100px;width:36px;height:16px;line-height:16px;background:#78c1bd;">9,4</div>
<div class="c " style="left:667px;top:100px;width:35px;height:16px;line-height:16px;background:#ff7410;">30,6</div>
<div class="c " style="left:630px;top:116px;width:72px;height:1px;line-height:1px;background:#808080;"></div>
<div class="c " style="left:666px;top:100px;width:1px;height:17px;line-height:17px;background:#808080;"></div>
<div class="c " style="left:630px;top:117px;width:36px;height:15px;line-height:15px;background:#b8d5a2;">14,6</div>
<div class="c " style="left:667px;top:117px;width:35px;height:15px;line-height:15px;background:#ff7914;">30,2</div>
<div class="c " style="left:630px;top:132px;width:72px;height:1px;line-height:1px;background:#808080;"></div>
<div class="c " style="left:666px;top:117px;width:1px;height:16px;line-height:16px;background:#808080;"></div>
<div class="c " style="left:630px;top:133px;width:36px;height:16px;line-height:16px;background:#a5cfaa;">13,0</div>
<div class="c " style="left:667px;top:133px;width:35px;height:16px;line-height:16px;background:#ff7410;">30,6</div>
<div class="c " style="left:630px;top:149px;width:72px;height:1px;line-height:1px;background:#808080;"></div>
<div class="c " style="left:666px;top:133px;width:1px;height:17px;line-height:17px;background:#808080;"></div>
<div class="c " style="left:630px;top:150px;width:36px;height:15px;line-height:15px;background:#b5d4a3;">14,3</div>
<div class="c " style="left:667px;top:150px;width:35px;height:15px;line-height:15px;background:#ffb650;">24,9</div>
<div class="c " style="left:630px;top:165px;width:72px;height:1px;line-height:1px;background:#808080;"></div>
<div class="c " style="left:666px;top:150px;width:1px;height:16px;line-height:16px;background:#808080;"></div>
<div class="c " style="left:630px;top:166px;width:36px;height:16px;line-height:16px;background:#c4d89d;">15,5</div>
<div class="c " style="left:667px;top:166px;width:35px;height:16px;line-height:16px;background:#ffe27b;">21,1</div>
<div class="c " style="left:630px;top:182px;width:72px;height:1px;line-height:1px;background:#808080;"></div>
<div class="c " style="left:666px;top:166px;width:1px;height:17px;line-height:17px;background:#808080;"></div>
<div class="c " style="left:630px;top:183px;width:36px;height:15px;line-height:15px;background:#c4d89d;">15,5</div>
<div class="c " style="left:667px;top:183px;width:35px;height:15px;line-height:15px;background:#ffc660;">23,5</div>
<div class="c " style="left:630px;top:198px;width:72px;height:1px;line-height:1px;background:#808080;"></div>
<div class="c " style="left:666px;top:183px;width:1px;height:16px;line-height:16px;background:#808080;"></div>
<div class="c " style="left:630px;top:199px;width:36px;height:16px;line-height:16px;background:#c0d79f;">15,2</div>
<div class="c " style="left:667px;top:199px;width:35px;height:16px;line-height:16px;background:#ff5600;">32,6</div>
<div class="c " style="left:630px;top:215px;width:72px;height:1px;line-height:1px;background:#808080;"></div>
<div class="c " style="left:666px;top:199px;width:1px;height:17px;line-height:17px;background:#808080;"></div>
<div class="c " style="left:630px;top:216px;width:36px;height:15px;line-height:15px;background:#c9da9b;">15,9</div>
<div class="c " style="left:667px;top:216px;width:35px;height:15px;line-height:15px;background:#ff700b;">31,0</div>
<div class="c " style="left:630px;top:231px;width:72px;height:1px;line-height:1px;background:#808080;"></div>
<div class="c " style="left:666px;top:216px;width:1px;height:16px;line-height:16px;background:#808080;"></div>
<div class="c " style="left:630px;top:232px;width:36px;height:16px;line-height:16px;background:#a7cfa9;">13,2</div>
<div class="c " style="left:667px;top:232px;width:35px;height:16px;line-height:16px;background:#ff4500;">33,3</div>
<div class="c " style="left:630px;top:248px;width:72px;height:1px;line-height:1px;background:#808080;"></div>
<div class="c " style="left:666px;top:232px;width:1px;height:17px;line-height:17px;background:#808080;"></div>
<div class="c " style="left:630px;top:249px;width:36px;height:15px;line-height:15px;background:#93c9b2;">11,6</div>
<div class="c " style="left:667px;top:249px;width:35px;height:15px;line-height:15px;background:#ff4c00;">33,0</div>
<div class="c " style="left:630px;top:264px;width:72px;height:1px;line-height:1px;background:#808080;"></div>
<div class="c " style="left:666px;top:249px;width:1px;height:16px;line-height:16px;background:#808080;"></div>
<div class="c " style="left:630px;top:265px;width:36px;height:16px;line-height:16px;background:#76c0be;">9,2</div>
<div class="c " style="left:667px;top:265px;width:35px;height:16px;line-height:16px;background:#ff6400;">32,0</div>
<div class="c " style="left:630px;top:281px;width:72px;height:1px;line-height:1px;background:#808080;"></div>
<div class="c " style="left:666px;top:265px;width:1px;height:17px;line-height:17px;background:#808080;"></div>
<div class="c " style="left:630px;top:282px;width:36px;height:15px;line-height:15px;background:#98cbaf;">12,0</div>
<div class="c " style="left:667px;top:282px;width:35px;height:15px;line-height:15px;background:#d1dd97;">16,6</div>
<div class="c " style="left:630px;top:297px;width:72px;height:1px;line-height:1px;background:#808080;"></div>
<div class="c " style="left:666px;top:282px;width:1px;height:16px;line-height:16px;background:#808080;"></div>
<div class="c " style="left:630px;top:298px;width:36px;height:16px;line-height:16px;background:#aad0a8;">13,4</div>
<div class="c " style="left:667px;top:298px;width:35px;height:16px;line-height:16px;background:#ff8521;">29,1</div>
<div class="c " style="left:630px;top:314px;width:72px;height:1px;line-height:1px;background:#808080;"></div>
<div class="c " style="left:666px;top:298px;width:1px;height:17px;line-height:17px;background:#808080;"></div>
<div class="c " style="left:630px;top:315px;width:36px;height:15px;line-height:15px;background:#a2ceab;">12,8</div>
<div class="c " style="left:667px;top:315px;width:35px;height:15px;line-height:15px;background:#ff9934;">27,4</div>
<div class="c " style="left:630px;top:330px;width:72px;height:1px;line-height:1px;background:#808080;"></div>
<div class="c " style="left:666px;top:315px;width:1px;height:16px;line-height:16px;background:#808080;"></div>
<div class="c " style="left:630px;top:331px;width:36px;height:16px;line-height:16px;background:#9cccae;">12,3</div>
<div class="c " style="left:667px;top:331px;width:35px;height:16px;line-height:16px;background:#ffb54f;">25,0</div>
<div class="c " style="left:630px;top:347px;width:72px;height:1px;line-height:1px;background:#808080;"></div>
<div class="c " style="left:666px;top:331px;width:1px;height:17px;line-height:17px;background:#808080;"></div>
<div class="c " style="left:630px;top:348px;width:36px;height:15px;line-height:15px;background:#b5d4a3;">14,3</div>
<div class="c " style="left:667px;top:348px;width:35px;height:15px;line-height:15px;background:#ff8420;">29,2</div>
<div class="c " style="left:630px;top:363px;width:72px;height:1px;line-height:1px;background:#808080;"></div>
<div class="c " style="left:666px;top:348px;width:1px;height:16px;line-height:16px;background:#808080;"></div>
<div class="c " style="left:630px;top:364px;width:36px;height:16px;line-height:16px;background:#a7cfa9;">13,2</div>
<div class="c " style="left:667px;top:364px;width:35px;height:16px;line-height:16px;background:#dadf94;">17,3</div>
<div class="c " style="left:630px;top:380px;width:72px;height:1px;line-height:1px;background:#808080;"></div>
<div class="c " style="left:666px;top:364px;width:1px;height:17px;line-height:17px;background:#808080;"></div>
<div class="c " style="left:630px;top:381px;width:36px;height:15px;line-height:15px;background:#98cbaf;">12,0</div>
<div class="c " style="left:667px;top:381px;width:35px;height:15px;line-height:15px;background:#b8d5a2;">14,6</div>
<div class="c " style="left:630px;top:396px;width:72px;height:1px;line-height:1px;background:#808080;"></div>
<div class="c " style="left:666px;top:381px;width:1px;height:16px;line-height:16px;background:#808080;"></div>
<div class="c " style="left:630px;top:397px;width:36px;height:16px;line-height:16px;background:#97cab0;">11,9</div>
<div class="c " style="left:667px;top:397px;width:35px;height:16px;line-height:16px;background:#acd1a7;">13,6</div>
<div class="c " style="left:630px;top:413px;width:72px;height:1px;line-height:1px;background:#808080;"></div>
<div class="c " style="left:666px;top:397px;width:1px;height:17px;line-height:17px;background:#808080;"></div>
<div class="c " style="left:630px;top:414px;width:36px;height:15px;line-height:15px;background:#9ecdad;">12,5</div>
<div class="c " style="left:667px;top:414px;width:35px;height:15px;line-height:15px;background:#dbe093;">17,4</div>
<div class="c " style="left:630px;top:429px;width:72px;height:1px;line-height:1px;background:#808080;"></div>
<div class="c " style="left:666px;top:414px;width:1px;height:16px;line-height:16px;background:#808080;"></div>
<div class="c " style="left:630px;top:430px;width:36px;height:16px;line-height:16px;background:#aad0a8;">13,4</div>
<div class="c " style="left:667px;top:430px;width:35px;height:16px;line-height:16px;background:#ffc55f;">23,6</div>
<div class="c " style="left:630px;top:446px;width:72px;height:1px;line-height:1px;background:#808080;"></div>
<div class="c " style="left:666px;top:430px;width:1px;height:17px;line-height:17px;background:#808080;"></div>
<div class="c " style="left:630px;top:447px;width:36px;height:15px;line-height:15px;background:#a7cfa9;">13,2</div>
<div class="c " style="left:667px;top:447px;width:35px;height:15px;line-height:15px;background:#ffbc56;">24,4</div>
<div class="c " style="left:630px;top:462px;width:72px;height:1px;line-height:1px;background:#808080;"></div>
<div class="c " style="left:666px;top:447px;width:1px;height:16px;line-height:16px;background:#808080;"></div>
<div class="c " style="left:630px;top:463px;width:36px;height:15px;line-height:15px;background:#6fbec1;">8,7</div>
<div class="c " style="left:667px;top:463px;width:35px;height:15px;line-height:15px;background:#ff7b17;">30,0</div>
<div class="c " style="left:630px;top:478px;width:72px;height:1px;line-height:1px;background:#808080;"></div>
<div class="c " style="left:666px;top:463px;width:1px;height:16px;line-height:16px;background:#808080;"></div>
<div class="c " style="left:630px;top:479px;width:36px;height:15px;line-height:15px;background:#8cc7b5;">11,0</div>
<div class="c " style="left:667px;top:479px;width:35px;height:15px;line-height:15px;background:#ff4500;">33,3</div>
<div class="c " style="left:630px;top:494px;width:72px;height:1px;line-height:1px;background:#808080;"></div>
<div class="c " style="left:666px;top:479px;width:1px;height:16px;line-height:16px;background:#808080;"></div>
<div class="c " style="left:630px;top:495px;width:36px;height:15px;line-height:15px;background:#c5d99d;">15,6</div>
<div class="c " style="left:667px;top:495px;width:35px;height:15px;line-height:15px;background:#ffb14c;">25,3</div>
<div class="c " style="left:630px;top:510px;width:72px;height:1px;line-height:1px;background:#808080;"></div>
<div class="c " style="left:666px;top:495px;width:1px;height:16px;line-height:16px;background:#808080;"></div>
<div class="c " style="left:630px;top:511px;width:36px;height:16px;line-height:16px;background:#cddb99;">16,3</div>
<div class="c " style="left:667px;top:511px;width:35px;height:16px;line-height:16px;background:#fdea85;">20,1</div>
<div class="c " style="left:630px;top:527px;width:72px;height:1px;line-height:1px;background:#808080;"></div>
<div class="c " style="left:666px;top:511px;width:1px;height:17px;line-height:17px;background:#808080;"></div>
<div class="c " style="left:630px;top:528px;width:36px;height:15px;line-height:15px;background:#dbe093;">17,4</div>
<div class="c " style="left:667px;top:528px;width:35px;height:15px;line-height:15px;background:#ff1a00;">35,1</div>
<div class="c " style="left:630px;top:543px;width:72px;height:1px;line-height:1px;background:#808080;"></div>
<div class="c " style="left:666px;top:528px;width:1px;height:16px;line-height:16px;background:#808080;"></div>
<div class="c d" style="left:630px;top:544px;width:36px;height:15px;line-height:13px;background:#ffffff;">-</div>
<div class="c d" style="left:667px;top:544px;width:35px;height:15px;line-height:13px;background:#ffffff;">-</div>
<div class="c " style="left:666px;top:544px;width:1px;height:15px;line-height:15px;background:#808080;"></div>
<div class="c " style="left:704px;top:50px;width:36px;height:16px;line-height:16px;background:#e0e191;">17,8</div>
<div class="c " style="left:741px;top:50px;width:35px;height:16px;line-height:16px;background:#ff1d00;">35,0</div>
<div class="c " style="left:704px;top:66px;width:72px;height:1px;line-height:1px;background:#808080;"></div>
<div class="c " style="left:740px;top:50px;width:1px;height:17px;line-height:17px;background:#808080;"></div>
<div class="c " style="left:704px;top:67px;width:36px;height:16px;line-height:16px;background:#d4dd96;">16,8</div>
<div class="c w" style="left:741px;top:67px;width:35px;height:16px;line-height:16px;background:#ff0000;">36,2</div>
<div class="c " style="left:704px;top:83px;width:72px;height:1px;line-height:1px;background:#808080;"></div>
<div class="c " style="left:740px;top:67px;width:1px;height:17px;line-height:17px;background:#808080;"></div>
<div class="c " style="left:704px;top:84px;width:36px;height:15px;line-height:15px;background:#dee192;">17,6</div>
<div class="c " style="left:741px;top:84px;width:35px;height:15px;line-height:15px;background:#fbea86;">20,0</div>
<div class="c " style="left:704px;top:99px;width:72px;height:1px;line-height:1px;background:#808080;"></div>
<div class="c " style="left:740px;top:84px;width:1px;height:16px;line-height:16px;background:#808080;"></div>
<div class="c " style="left:704px;top:100px;width:36px;height:16px;line-height:16px;background:#d0dc98;">16,5</div>
<div class="c " style="left:741px;top:100px;width:35px;height:16px;line-height:16px;background:#fae986;">19,9</div>
<div class="c " style="left:704px;top:116px;width:72px;height:1px;line-height:1px;background:#808080;"></div>
<div class="c " style="left:740px;top:100px;width:1px;height:17px;line-height:17px;background:#808080;"></div>
<div class="c " style="left:704px;top:117px;width:36px;height:15px;line-height:15px;background:#ccdb99;">16,2</div>
<div class="c " style="left:741px;top:117px;width:35px;height:15px;line-height:15px;background:#ffa53f;">26,4</div>
<div class="c " style="left:704px;top:132px;width:72px;height:1px;line-height:1px;background:#808080;"></div>
<div class="c " style="left:740px;top:117px;width:1px;height:16px;line-height:16px;background:#808080;"></div>
<div class="c " style="left:704px;top:133px;width:36px;height:16px;line-height:16px;background:#b1d3a5;">14,0</div>
<div class="c " style="left:741px;top:133px;width:35px;height:16px;line-height:16px;background:#ff6d09;">31,2</div>
<div class="c " style="left:704px;top:149px;width:72px;height:1px;line-height:1px;background:#808080;"></div>
<div class="c " style="left:740px;top:133px;width:1px;height:17px;line-height:17px;background:#808080;"></div>
<div class="c " style="left:704px;top:150px;width:36px;height:15px;line-height:15px;background:#d1dd97;">16,6</div>
<div class="c " style="left:741px;top:150px;width:35px;height:15px;line-height:15px;background:#ff5100;">32,8</div>
<div class="c " style="left:704px;top:165px;width:72px;height:1px;line-height:1px;background:#808080;"></div>
<div class="c " style="left:740px;top:150px;width:1px;height:16px;line-height:16px;background:#808080;"></div>
<div class="c " style="left:704px;top:166px;width:36px;height:16px;line-height:16px;background:#d9df94;">17,2</div>
<div class="c " style="left:741px;top:166px;width:35px;height:16px;line-height:16px;background:#ffb54f;">25,0</div>
<div class="c " style="left:704px;top:182px;width:72px;height:1px;line-height:1px;background:#808080;"></div>
<div class="c " style="left:740px;top:166px;width:1px;height:17px;line-height:17px;background:#808080;"></div>
<div class="c " style="left:704px;top:183px;width:36px;height:15px;line-height:15px;background:#c4d89d;">15,5</div>
<div class="c " style="left:741px;top:183px;width:35px;height:15px;line-height:15px;background:#e7e48e;">18,4</div>
<div class="c " style="left:704px;top:198px;width:72px;height:1px;line-height:1px;background:#808080;"></div>
<div class="c " style="left:740px;top:183px;width:1px;height:16px;line-height:16px;background:#808080;"></div>
<div class="c " style="left:704px;top:199px;width:36px;height:16px;line-height:16px;background:#72bfc0;">8,9</div>
<div class="c " style="left:741px;top:199px;width:35px;height:16px;line-height:16px;background:#ffeb84;">20,3</div>
<div class="c " style="left:704px;top:215px;width:72px;height:1px;line-height:1px;background:#808080;"></div>
<div class="c " style="left:740px;top:199px;width:1px;height:17px;line-height:17px;background:#808080;"></div>
<div class="c " style="left:704px;top:216px;width:36px;height:15px;line-height:15px;background:#5eb8c8;">7,3</div>
<div class="c " style="left:741px;top:216px;width:35px;height:15px;line-height:15px;background:#fae986;">19,9</div>
<div class="c " style="left:704px;top:231px;width:72px;height:1px;line-height:1px;background:#808080;"></div>
<div class="c " style="left:740px;top:216px;width:1px;height:16px;line-height:16px;background:#808080;"></div>
<div class="c " style="left:704px;top:232px;width:36px;height:16px;line-height:16px;background:#91c8b3;">11,4</div>
<div class="c " style="left:741px;top:232px;width:35px;height:16px;line-height:16px;background:#ffcf69;">22,7</div>
<div class="c " style="left:704px;top:248px;width:72px;height:1px;line-height:1px;background:#808080;"></div>
<div class="c " style="left:740px;top:232px;width:1px;height:17px;line-height:17px;background:#808080;"></div>
<div class="c " style="left:704px;top:249px;width:36px;height:15px;line-height:15px;background:#6cbdc2;">8,4</div>
<div class="c " style="left:741px;top:249px;width:35px;height:15px;line-height:15px;background:#ff7813;">30,3</div>
<div class="c " style="left:704px;top:264px;width:72px;height:1px;line-height:1px;background:#808080;"></div>
<div class="c " style="left:740px;top:249px;width:1px;height:16px;line-height:16px;background:#808080;"></div>
<div class="c " style="left:704px;top:265px;width:36px;height:16px;line-height:16px;background:#a6cfaa;">13,1</div>
<div class="c " style="left:741px;top:265px;width:35px;height:16px;line-height:16px;background:#ff9d37;">27,1</div>
<div class="c " style="left:704px;top:281px;width:72px;height:1px;line-height:1px;background:#808080;"></div>
<div class="c " style="left:740px;top:265px;width:1px;height:17px;line-height:17px;background:#808080;"></div>
<div class="c " style="left:704px;top:282px;width:36px;height:15px;line-height:15px;background:#acd1a7;">13,6</div>
<div class="c " style="left:741px;top:282px;width:35px;height:15px;line-height:15px;background:#f4e889;">19,4</div>
<div class="c " style="left:704px;top:297px;width:72px;height:1px;line-height:1px;background:#808080;"></div>
<div class="c " style="left:740px;top:282px;width:1px;height:16px;line-height:16px;background:#808080;"></div>
<div class="c " style="left:704px;top:298px;width:36px;height:16px;line-height:16px;background:#9dccad;">12,4</div>
<div class="c " style="left:741px;top:298px;width:35px;height:16px;line-height:16px;background:#cddb99;">16,3</div>
<div class="c " style="left:704px;top:314px;width:72px;height:1px;line-height:1px;background:#808080;"></div>
<div class="c " style="left:740px;top:298px;width:1px;height:17px;line-height:17px;background:#808080;"></div>
<div class="c " style="left:704px;top:315px;width:36px;height:15px;line-height:15px;background:#9bccae;">12,2</div>
<div class="c " style="left:741px;top:315px;width:35px;height:15px;line-height:15px;background:#d6de95;">17,0</div>
<div class="c " style="left:704px;top:330px;width:72px;height:1px;line-height:1px;background:#808080;"></div>
<div class="c " style="left:740px;top:315px;width:1px;height:16px;line-height:16px;background:#808080;"></div>
<div class="c " style="left:704px;top:331px;width:36px;height:16px;line-height:16px;background:#8ec8b4;">11,2</div>
<div class="c " style="left:741px;top:331px;width:35px;height:16px;line-height:16px;background:#ffd26b;">22,5</div>
<div class="c " style="left:704px;top:347px;width:72px;height:1px;line-height:1px;background:#808080;"></div>
<div class="c " style="left:740px;top:331px;width:1px;height:17px;line-height:17px;background:#808080;"></div>
<div class="c " style="left:704px;top:348px;width:36px;height:15px;line-height:15px;background:#c6d99c;">15,7</div>
<div class="c " style="left:741px;top:348px;width:35px;height:15px;line-height:15px;background:#ffa640;">26,3</div>
<div class="c " style="left:704px;top:363px;width:72px;height:1px;line-height:1px;background:#808080;"></div>
<div class="c " style="left:740px;top:348px;width:1px;height:16px;line-height:16px;background:#808080;"></div>
<div class="c " style="left:704px;top:364px;width:36px;height:16px;line-height:16px;background:#c5d99d;">15,6</div>
<div class="c " style="left:741px;top:364px;width:35px;height:16px;line-height:16px;background:#ffac46;">25,8</div>
<div class="c " style="left:704px;top:380px;width:72px;height:1px;line-height:1px;background:#808080;"></div>
<div class="c " style="left:740px;top:364px;width:1px;height:17px;line-height:17px;background:#808080;"></div>
<div class="c " style="left:704px;top:381px;width:36px;height:15px;line-height:15px;background:#bcd6a0;">14,9</div>
<div class="c " style="left:741px;top:381px;width:35px;height:15px;line-height:15px;background:#ffdd76;">21,5</div>
<div class="c " style="left:704px;top:396px;width:72px;height:1px;line-height:1px;background:#808080;"></div>
<div class="c " style="left:740px;top:381px;width:1px;height:16px;line-height:16px;background:#808080;"></div>
<div class="c " style="left:704px;top:397px;width:36px;height:16px;line-height:16px;background:#c5d99d;">15,6</div>
<div class="c " style="left:741px;top:397px;width:35px;height:16px;line-height:16px;background:#ffdf79;">21,3</div>
<div class="c " style="left:704px;top:413px;width:72px;height:1px;line-height:1px;background:#808080;"></div>
<div class="c " style="left:740px;top:397px;width:1px;height:17px;line-height:17px;background:#808080;"></div>
<div class="c " style="left:704px;top:414px;width:36px;height:15px;line-height:15px;background:#a3ceab;">12,9</div>
<div class="c " style="left:741px;top:414px;width:35px;height:15px;line-height:15px;background:#ffb44e;">25,1</div>
<div class="c " style="left:704px;top:429px;width:72px;height:1px;line-height:1px;background:#808080;"></div>
<div class="c " style="left:740px;top:414px;width:1px;height:16px;line-height:16px;background:#808080;"></div>
<div class="c " style="left:704px;top:430px;width:36px;height:16px;line-height:16px;background:#acd1a7;">13,6</div>
<div class="c " style="left:741px;top:430px;width:35px;height:16px;line-height:16px;background:#ffce68;">22,8</div>
<div class="c " style="left:704px;top:446px;width:72px;height:1px;line-height:1px;background:#808080;"></div>
<div class="c " style="left:740px;top:430px;width:1px;height:17px;line-height:17px;background:#808080;"></div>
<div class="c " style="left:704px;top:447px;width:36px;height:15px;line-height:15px;background:#add1a7;">13,7</div>
<div class="c " style="left:741px;top:447px;width:35px;height:15px;line-height:15px;background:#ffc55f;">23,6</div>
<div class="c " style="left:704px;top:462px;width:72px;height:1px;line-height:1px;background:#808080;"></div>
<div class="c " style="left:740px;top:447px;width:1px;height:16px;line-height:16px;background:#808080;"></div>
<div class="c " style="left:704px;top:463px;width:36px;height:15px;line-height:15px;background:#bdd6a0;">15,0</div>
<div class="c " style="left:741px;top:463px;width:35px;height:15px;line-height:15px;background:#ffc862;">23,3</div>
<div class="c " style="left:704px;top:478px;width:72px;height:1px;line-height:1px;background:#808080;"></div>
<div class="c " style="left:740px;top:463px;width:1px;height:16px;line-height:16px;background:#808080;"></div>
<div class="c " style="left:704px;top:479px;width:36px;height:15px;line-height:15px;background:#9ecdad;">12,5</div>
<div class="c " style="left:741px;top:479px;width:35px;height:15px;line-height:15px;background:#ff902b;">28,2</div>
<div class="c " style="left:704px;top:494px;width:72px;height:1px;line-height:1px;background:#808080;"></div>
<div class="c " style="left:740px;top:479px;width:1px;height:16px;line-height:16px;background:#808080;"></div>
<div class="c " style="left:704px;top:495px;width:36px;height:15px;line-height:15px;background:#84c5b8;">10,4</div>
<div class="c " style="left:741px;top:495px;width:35px;height:15px;line-height:15px;background:#ff700b;">31,0</div>
<div class="c " style="left:704px;top:510px;width:72px;height:1px;line-height:1px;background:#808080;"></div>
<div class="c " style="left:740px;top:495px;width:1px;height:16px;line-height:16px;background:#808080;"></div>
<div class="c " style="left:704px;top:511px;width:36px;height:16px;line-height:16px;background:#8dc7b4;">11,1</div>
<div class="c " style="left:741px;top:511px;width:35px;height:16px;line-height:16px;background:#ff932e;">27,9</div>
<div class="c " style="left:704px;top:527px;width:72px;height:1px;line-height:1px;background:#808080;"></div>
<div class="c " style="left:740px;top:511px;width:1px;height:17px;line-height:17px;background:#808080;"></div>
<div class="c " style="left:704px;top:528px;width:36px;height:15px;line-height:15px;background:#b1d3a5;">14,0</div>
<div class="c " style="left:741px;top:528px;width:35px;height:15px;line-height:15px;background:#dce093;">17,5</div>
<div class="c " style="left:704px;top:543px;width:72px;height:1px;line-height:1px;background:#808080;"></div>
<div class="c " style="left:740px;top:528px;width:1px;height:16px;line-height:16px;background:#808080;"></div>
<div class="c " style="left:704px;top:544px;width:36px;height:15px;line-height:15px;background:#9ecdad;">12,5</div>
<div class="c " style="left:741px;top:544px;width:35px;height:15px;line-height:15px;background:#c4d89d;">15,5</div>
<div class="c " style="left:740px;top:544px;width:1px;height:15px;line-height:15px;background:#808080;"></div>
<div class="c " style="left:778px;top:50px;width:36px;height:16px;line-height:16px;background:#89c6b6;">10,8</div>
<div class="c " style="left:815px;top:50px;width:35px;height:16px;line-height:16px;background:#cfdc98;">16,4</div>
<div class="c " style="left:778px;top:66px;width:72px;height:1px;line-height:1px;background:#808080;"></div>
<div class="c " style="left:814px;top:50px;width:1px;height:17px;line-height:17px;background:#808080;"></div>
<div class="c " style="left:778px;top:67px;width:36px;height:16px;line-height:16px;background:#59b7ca;">6,9</div>
<div class="c " style="left:815px;top:67px;width:35px;height:16px;line-height:16px;background:#e1e291;">17,9</div>
<div class="c " style="left:778px;top:83px;width:72px;height:1px;line-height:1px;background:#808080;"></div>
<div class="c " style="left:814px;top:67px;width:1px;height:17px;line-height:17px;background:#808080;"></div>
<div class="c " style="left:778px;top:84px;width:36px;height:15px;line-height:15px;background:#3aadd7;">4,4</div>
<div class="c " style="left:815px;top:84px;width:35px;height:15px;line-height:15px;background:#f0e68a;">19,1</div>
<div class="c " style="left:778px;top:99px;width:72px;height:1px;line-height:1px;background:#808080;"></div>
<div class="c " style="left:814px;top:84px;width:1px;height:16px;line-height:16px;background:#808080;"></div>
<div class="c " style="left:778px;top:100px;width:36px;height:16px;line-height:16px;background:#6abcc3;">8,3</div>
<div class="c " style="left:815px;top:100px;width:35px;height:16px;line-height:16px;background:#feeb85;">20,2</div>
<div class="c " style="left:778px;top:116px;width:72px;height:1px;line-height:1px;background:#808080;"></div>
<div class="c " style="left:814px;top:100px;width:1px;height:17px;line-height:17px;background:#808080;"></div>
<div class="c " style="left:778px;top:117px;width:36px;height:15px;line-height:15px;background:#93c9b2;">11,6</div>
<div class="c " style="left:815px;top:117px;width:35px;height:15px;line-height:15px;background:#d9df94;">17,2</div>
<div class="c " style="left:778px;top:132px;width:72px;height:1px;line-height:1px;background:#808080;"></div>
<div class="c " style="left:814px;top:117px;width:1px;height:16px;line-height:16px;background:#808080;"></div>
<div class="c " style="left:778px;top:133px;width:36px;height:16px;line-height:16px;background:#8cc7b5;">11,0</div>
<div class="c " style="left:815px;top:133px;width:35px;height:16px;line-height:16px;background:#fdea85;">20,1</div>
<div class="c " style="left:778px;top:149px;width:72px;height:1px;line-height:1px;background:#808080;"></div>
<div class="c " style="left:814px;top:133px;width:1px;height:17px;line-height:17px;background:#808080;"></div>
<div class="c " style="left:778px;top:150px;width:36px;height:15px;line-height:15px;background:#68bcc4;">8,1</div>
<div class="c " style="left:815px;top:150px;width:35px;height:15px;line-height:15px;background:#ffd972;">21,9</div>
<div class="c " style="left:778px;top:165px;width:72px;height:1px;line-height:1px;background:#808080;"></div>
<div class="c " style="left:814px;top:150px;width:1px;height:16px;line-height:16px;background:#808080;"></div>
<div class="c " style="left:778px;top:166px;width:36px;height:16px;line-height:16px;background:#62bac6;">7,6</div>
<div class="c " style="left:815px;top:166px;width:35px;height:16px;line-height:16px;background:#ffa13c;">26,7</div>
<div class="c " style="left:778px;top:182px;width:72px;height:1px;line-height:1px;background:#808080;"></div>
<div class="c " style="left:814px;top:166px;width:1px;height:17px;line-height:17px;background:#808080;"></div>
<div class="c " style="left:778px;top:183px;width:36px;height:15px;line-height:15px;background:#add1a7;">13,7</div>
<div class="c " style="left:815px;top:183px;width:35px;height:15px;line-height:15px;background:#ffc660;">23,5</div>
<div class="c " style="left:778px;top:198px;width:72px;height:1px;line-height:1px;background:#808080;"></div>
<div class="c " style="left:814px;top:183px;width:1px;height:16px;line-height:16px;background:#808080;"></div>
<div class="c " style="left:778px;top:199px;width:36px;height:16px;line-height:16px;background:#dadf94;">17,3</div>
<div class="c " style="left:815px;top:199px;width:35px;height:16px;line-height:16px;background:#ffc761;">23,4</div>
<div class="c " style="left:778px;top:215px;width:72px;height:1px;line-height:1px;background:#808080;"></div>
<div class="c " style="left:814px;top:199px;width:1px;height:17px;line-height:17px;background:#808080;"></div>
<div class="c " style="left:778px;top:216px;width:36px;height:15px;line-height:15px;background:#b2d3a4;">14,1</div>
<div class="c " style="left:815px;top:216px;width:35px;height:15px;line-height:15px;background:#ffa03b;">26,8</div>
<div class="c " style="left:778px;top:231px;width:72px;height:1px;line-height:1px;background:#808080;"></div>
<div class="c " style="left:814px;top:216px;width:1px;height:16px;line-height:16px;background:#808080;"></div>
<div class="c " style="left:778px;top:232px;width:36px;height:16px;line-height:16px;background:#c5d99d;">15,6</div>
<div class="c " style="left:815px;top:232px;width:35px;height:16px;line-height:16px;background:#ffc55f;">23,6</div>
<div class="c " style="left:778px;top:248px;width:72px;height:1px;line-height:1px;background:#808080;"></div>
<div class="c " style="left:814px;top:232px;width:1px;height:17px;line-height:17px;background:#808080;"></div>
<div class="c " style="left:778px;top:249px;width:36px;height:15px;line-height:15px;background:#c0d79f;">15,2</div>
<div class="c " style="left:815px;top:249px;width:35px;height:15px;line-height:15px;background:#ffad47;">25,7</div>
<div class="c " style="left:778px;top:264px;width:72px;height:1px;line-height:1px;background:#808080;"></div>
<div class="c " style="left:814px;top:249px;width:1px;height:16px;line-height:16px;background:#808080;"></div>
<div class="c " style="left:778px;top:265px;width:36px;height:16px;line-height:16px;background:#cbdb9a;">16,1</div>
<div class="c " style="left:815px;top:265px;width:35px;height:16px;line-height:16px;background:#ffad47;">25,7</div>
<div class="c " style="left:778px;top:281px;width:72px;height:1px;line-height:1px;background:#808080;"></div>
<div class="c " style="left:814px;top:265px;width:1px;height:17px;line-height:17px;background:#808080;"></div>
<div class="c " style="left:778px;top:282px;width:36px;height:15px;line-height:15px;background:#bdd6a0;">15,0</div>
<div class="c " style="left:815px;top:282px;width:35px;height:15px;line-height:15px;background:#ff7612;">30,4</div>
<div class="c " style="left:778px;top:297px;width:72px;height:1px;line-height:1px;background:#808080;"></div>
<div class="c " style="left:814px;top:282px;width:1px;height:16px;line-height:16px;background:#808080;"></div>
<div class="c " style="left:778px;top:298px;width:36px;height:16px;line-height:16px;background:#d0dc98;">16,5</div>
<div class="c " style="left:815px;top:298px;width:35px;height:16px;line-height:16px;background:#ff902b;">28,2</div>
<div class="c " style="left:778px;top:314px;width:72px;height:1px;line-height:1px;background:#808080;"></div>
<div class="c " style="left:814px;top:298px;width:1px;height:17px;line-height:17px;background:#808080;"></div>
<div class="c " style="left:778px;top:315px;width:36px;height:15px;line-height:15px;background:#bfd79f;">15,1</div>
<div class="c " style="left:815px;top:315px;width:35px;height:15px;line-height:15px;background:#ffe67f;">20,7</div>
<div class="c " style="left:778px;top:330px;width:72px;height:1px;line-height:1px;background:#808080;"></div>
<div class="c " style="left:814px;top:315px;width:1px;height:16px;line-height:16px;background:#808080;"></div>
<div class="c " style="left:778px;top:331px;width:36px;height:16px;line-height:16px;background:#a3ceab;">12,9</div>
<div class="c " style="left:815px;top:331px;width:35px;height:16px;line-height:16px;background:#e6e38e;">18,3</div>
<div class="c " style="left:778px;top:347px;width:72px;height:1px;line-height:1px;background:#808080;"></div>
<div class="c " style="left:814px;top:331px;width:1px;height:17px;line-height:17px;background:#808080;"></div>
<div class="c " style="left:778px;top:348px;width:36px;height:15px;line-height:15px;background:#9bccae;">12,2</div>
<div class="c " style="left:815px;top:348px;width:35px;height:15px;line-height:15px;background:#f3e789;">19,3</div>
<div class="c " style="left:778px;top:363px;width:72px;height:1px;line-height:1px;background:#808080;"></div>
<div class="c " style="left:814px;top:348px;width:1px;height:16px;line-height:16px;background:#808080;"></div>
<div class="c " style="left:778px;top:364px;width:36px;height:16px;line-height:16px;background:#90c8b3;">11,3</div>
<div class="c " style="left:815px;top:364px;width:35px;height:16px;line-height:16px;background:#e1e291;">17,9</div>
<div class="c " style="left:778px;top:380px;width:72px;height:1px;line-height:1px;background:#808080;"></div>
<div class="c " style="left:814px;top:364px;width:1px;height:17px;line-height:17px;background:#808080;"></div>
<div class="c " style="left:778px;top:381px;width:36px;height:15px;line-height:15px;background:#90c8b3;">11,3</div>
<div class="c " style="left:815px;top:381px;width:35px;height:15px;line-height:15px;background:#ffde78;">21,4</div>
<div class="c " style="left:778px;top:396px;width:72px;height:1px;line-height:1px;background:#808080;"></div>
<div class="c " style="left:814px;top:381px;width:1px;height:16px;line-height:16px;background:#808080;"></div>
<div class="c " style="left:778px;top:397px;width:36px;height:16px;line-height:16px;background:#9ecdad;">12,5</div>
<div class="c " style="left:815px;top:397px;width:35px;height:16px;line-height:16px;background:#ffd46d;">22,3</div>
<div class="c " style="left:778px;top:413px;width:72px;height:1px;line-height:1px;background:#808080;"></div>
<div class="c " style="left:814px;top:397px;width:1px;height:17px;line-height:17px;background:#808080;"></div>
<div class="c " style="left:778px;top:414px;width:36px;height:15px;line-height:15px;background:#98cbaf;">12,0</div>
<div class="c " style="left:815px;top:414px;width:35px;height:15px;line-height:15px;background:#ffce68;">22,8</div>
<div class="c " style="left:778px;top:429px;width:72px;height:1px;line-height:1px;background:#808080;"></div>
<div class="c " style="left:814px;top:414px;width:1px;height:16px;line-height:16px;background:#808080;"></div>
<div class="c " style="left:778px;top:430px;width:36px;height:16px;line-height:16px;background:#bcd6a0;">14,9</div>
<div class="c " style="left:815px;top:430px;width:35px;height:16px;line-height:16px;background:#ffbe58;">24,2</div>
<div class="c " style="left:778px;top:446px;width:72px;height:1px;line-height:1px;background:#808080;"></div>
<div class="c " style="left:814px;top:430px;width:1px;height:17px;line-height:17px;background:#808080;"></div>
<div class="c " style="left:778px;top:447px;width:36px;height:15px;line-height:15px;background:#90c8b3;">11,3</div>
<div class="c " style="left:815px;top:447px;width:35px;height:15px;line-height:15px;background:#ff9e38;">27,0</div>
<div class="c " style="left:778px;top:462px;width:72px;height:1px;line-height:1px;background:#808080;"></div>
<div class="c " style="left:814px;top:447px;width:1px;height:16px;line-height:16px;background:#808080;"></div>
<div class="c " style="left:778px;top:463px;width:36px;height:15px;line-height:15px;background:#acd1a7;">13,6</div>
<div class="c " style="left:815px;top:463px;width:35px;height:15px;line-height:15px;background:#ff6b07;">31,4</div>
<div class="c " style="left:778px;top:478px;width:72px;height:1px;line-height:1px;background:#808080;"></div>
<div class="c " style="left:814px;top:463px;width:1px;height:16px;line-height:16px;background:#808080;"></div>
<div class="c " style="left:778px;top:479px;width:36px;height:15px;line-height:15px;background:#a2ceab;">12,8</div>
<div class="c " style="left:815px;top:479px;width:35px;height:15px;line-height:15px;background:#ffa843;">26,1</div>
<div class="c " style="left:778px;top:494px;width:72px;height:1px;line-height:1px;background:#808080;"></div>
<div class="c " style="left:814px;top:479px;width:1px;height:16px;line-height:16px;background:#808080;"></div>
<div class="c " style="left:778px;top:495px;width:36px;height:15px;line-height:15px;background:#b1d3a5;">14,0</div>
<div class="c " style="left:815px;top:495px;width:35px;height:15px;line-height:15px;background:#ff8f2a;">28,3</div>
<div class="c " style="left:778px;top:510px;width:72px;height:1px;line-height:1px;background:#808080;"></div>
<div class="c " style="left:814px;top:495px;width:1px;height:16px;line-height:16px;background:#808080;"></div>
<div class="c " style="left:778px;top:511px;width:36px;height:16px;line-height:16px;background:#a8d0a9;">13,3</div>
<div class="c " style="left:815px;top:511px;width:35px;height:16px;line-height:16px;background:#ff7d19;">29,8</div>
<div class="c " style="left:778px;top:527px;width:72px;height:1px;line-height:1px;background:#808080;"></div>
<div class="c " style="left:814px;top:511px;width:1px;height:17px;line-height:17px;background:#808080;"></div>
<div class="c " style="left:778px;top:528px;width:36px;height:15px;line-height:15px;background:#d1dd97;">16,6</div>
<div class="c " style="left:815px;top:528px;width:35px;height:15px;line-height:15px;background:#ff811c;">29,5</div>
<div class="c " style="left:778px;top:543px;width:72px;height:1px;line-height:1px;background:#808080;"></div>
<div class="c " style="left:814px;top:528px;width:1px;height:16px;line-height:16px;background:#808080;"></div>
<div class="c d" style="left:778px;top:544px;width:36px;height:15px;line-height:13px;background:#ffffff;">-</div>
<div class="c d" style="left:815px;top:544px;width:35px;height:15px;line-height:13px;background:#ffffff;">-</div>
<div class="c " style="left:814px;top:544px;width:1px;height:15px;line-height:15px;background:#808080;"></div>
<div class="c " style="left:852px;top:50px;width:36px;height:16px;line-height:16px;background:#c4d89d;">15,5</div>
<div class="c " style="left:889px;top:50px;width:35px;height:16px;line-height:16px;background:#ffbe58;">24,2</div>
<div class="c " style="left:852px;top:66px;width:72px;height:1px;line-height:1px;background:#808080;"></div>
<div class="c " style="left:888px;top:50px;width:1px;height:17px;line-height:17px;background:#808080;"></div>
<div class="c " style="left:852px;top:67px;width:36px;height:16px;line-height:16px;background:#d5de96;">16,9</div>
<div class="c " style="left:889px;top:67px;width:35px;height:16px;line-height:16px;background:#ffc45e;">23,7</div>
<div class="c " style="left:852px;top:83px;width:72px;height:1px;line-height:1px;background:#808080;"></div>
<div class="c " style="left:888px;top:67px;width:1px;height:17px;line-height:17px;background:#808080;"></div>
<div class="c " style="left:852px;top:84px;width:36px;height:15px;line-height:15px;background:#c4d89d;">15,5</div>
<div class="c " style="left:889px;top:84px;width:35px;height:15px;line-height:15px;background:#ff912c;">28,1</div>
<div class="c " style="left:852px;top:99px;width:72px;height:1px;line-height:1px;background:#808080;"></div>
<div class="c " style="left:888px;top:84px;width:1px;height:16px;line-height:16px;background:#808080;"></div>
<div class="c " style="left:852px;top:100px;width:36px;height:16px;line-height:16px;background:#cfdc98;">16,4</div>
<div class="c " style="left:889px;top:100px;width:35px;height:16px;line-height:16px;background:#ffb24d;">25,2</div>
<div class="c " style="left:852px;top:116px;width:72px;height:1px;line-height:1px;background:#808080;"></div>
<div class="c " style="left:888px;top:100px;width:1px;height:17px;line-height:17px;background:#808080;"></div>
<div class="c " style="left:852px;top:117px;width:36px;height:15px;line-height:15px;background:#cada9b;">16,0</div>
<div class="c " style="left:889px;top:117px;width:35px;height:15px;line-height:15px;background:#f4e889;">19,4</div>
<div class="c " style="left:852px;top:132px;width:72px;height:1px;line-height:1px;background:#808080;"></div>
<div class="c " style="left:888px;top:117px;width:1px;height:16px;line-height:16px;background:#808080;"></div>
<div class="c " style="left:852px;top:133px;width:36px;height:16px;line-height:16px;background:#b8d5a2;">14,6</div>
<div class="c " style="left:889px;top:133px;width:35px;height:16px;line-height:16px;background:#e9e48d;">18,5</div>
<div class="c " style="left:852px;top:149px;width:72px;height:1px;line-height:1px;background:#808080;"></div>
<div class="c " style="left:888px;top:133px;width:1px;height:17px;line-height:17px;background:#808080;"></div>
<div class="c " style="left:852px;top:150px;width:36px;height:15px;line-height:15px;background:#ccdb99;">16,2</div>
<div class="c " style="left:889px;top:150px;width:35px;height:15px;line-height:15px;background:#ffda73;">21,8</div>
<div class="c " style="left:852px;top:165px;width:72px;height:1px;line-height:1px;background:#808080;"></div>
<div class="c " style="left:888px;top:150px;width:1px;height:16px;line-height:16px;background:#808080;"></div>
<div class="c " style="left:852px;top:166px;width:36px;height:16px;line-height:16px;background:#d2dd97;">16,7</div>
<div class="c " style="left:889px;top:166px;width:35px;height:16px;line-height:16px;background:#ffc05a;">24,0</div>
<div class="c " style="left:852px;top:182px;width:72px;height:1px;line-height:1px;background:#808080;"></div>
<div class="c " style="left:888px;top:166px;width:1px;height:17px;line-height:17px;background:#808080;"></div>
<div class="c " style="left:852px;top:183px;width:36px;height:15px;line-height:15px;background:#b6d4a3;">14,4</div>
<div class="c " style="left:889px;top:183px;width:35px;height:15px;line-height:15px;background:#ffc862;">23,3</div>
<div class="c " style="left:852px;top:198px;width:72px;height:1px;line-height:1px;background:#808080;"></div>
<div class="c " style="left:888px;top:183px;width:1px;height:16px;line-height:16px;background:#808080;"></div>
<div class="c " style="left:852px;top:199px;width:36px;height:16px;line-height:16px;background:#afd2a6;">13,8</div>
<div class="c " style="left:889px;top:199px;width:35px;height:16px;line-height:16px;background:#ffc660;">23,5</div>
<div class="c " style="left:852px;top:215px;width:72px;height:1px;line-height:1px;background:#808080;"></div>
<div class="c " style="left:888px;top:199px;width:1px;height:17px;line-height:17px;background:#808080;"></div>
<div class="c " style="left:852px;top:216px;width:36px;height:15px;line-height:15px;background:#aad0a8;">13,4</div>
<div class="c " style="left:889px;top:216px;width:35px;height:15px;line-height:15px;background:#ffa843;">26,1</div>
<div class="c " style="left:852px;top:231px;width:72px;height:1px;line-height:1px;background:#808080;"></div>
<div class="c " style="left:888px;top:216px;width:1px;height:16px;line-height:16px;background:#808080;"></div>
<div class="c " style="left:852px;top:232px;width:36px;height:16px;line-height:16px;background:#c2d89e;">15,4</div>
<div class="c " style="left:889px;top:232px;width:35px;height:16px;line-height:16px;background:#ffa03b;">26,8</div>
<div class="c " style="left:852px;top:248px;width:72px;height:1px;line-height:1px;background:#808080;"></div>
<div class="c " style="left:888px;top:232px;width:1px;height:17px;line-height:17px;background:#808080;"></div>
<div class="c " style="left:852px;top:249px;width:36px;height:15px;line-height:15px;background:#cfdc98;">16,4</div>
<div class="c " style="left:889px;top:249px;width:35px;height:15px;line-height:15px;background:#ff8f2a;">28,3</div>
<div class="c " style="left:852px;top:264px;width:72px;height:1px;line-height:1px;background:#808080;"></div>
<div class="c " style="left:888px;top:249px;width:1px;height:16px;line-height:16px;background:#808080;"></div>
<div class="c " style="left:852px;top:265px;width:36px;height:16px;line-height:16px;background:#cddb99;">16,3</div>
<div class="c " style="left:889px;top:265px;width:35px;height:16px;line-height:16px;background:#ff801b;">29,6</div>
<div class="c " style="left:852px;top:281px;width:72px;height:1px;line-height:1px;background:#808080;"></div>
<div class="c " style="left:888px;top:265px;width:1px;height:17px;line-height:17px;background:#808080;"></div>
<div class="c " style="left:852px;top:282px;width:36px;height:15px;line-height:15px;background:#dfe192;">17,7</div>
<div class="c " style="left:889px;top:282px;width:35px;height:15px;line-height:15px;background:#ff8924;">28,8</div>
<div class="c " style="left:852px;top:297px;width:72px;height:1px;line-height:1px;background:#808080;"></div>
<div class="c " style="left:888px;top:282px;width:1px;height:16px;line-height:16px;background:#808080;"></div>
<div class="c " style="left:852px;top:298px;width:36px;height:16px;line-height:16px;background:#ccdb99;">16,2</div>
<div class="c " style="left:889px;top:298px;width:35px;height:16px;line-height:16px;background:#ffad47;">25,7</div>
<div class="c " style="left:852px;top:314px;width:72px;height:1px;line-height:1px;background:#808080;"></div>
<div class="c " style="left:888px;top:298px;width:1px;height:17px;line-height:17px;background:#808080;"></div>
<div class="c " style="left:852px;top:315px;width:36px;height:15px;line-height:15px;background:#d4dd96;">16,8</div>
<div class="c " style="left:889px;top:315px;width:35px;height:15px;line-height:15px;background:#ffa03b;">26,8</div>
<div class="c " style="left:852px;top:330px;width:72px;height:1px;line-height:1px;background:#808080;"></div>
<div class="c " style="left:888px;top:315px;width:1px;height:16px;line-height:16px;background:#808080;"></div>
<div class="c " style="left:852px;top:331px;width:36px;height:16px;line-height:16px;background:#ccdb99;">16,2</div>
<div class="c " style="left:889px;top:331px;width:35px;height:16px;line-height:16px;background:#ffa03b;">26,8</div>
<div class="c " style="left:852px;top:347px;width:72px;height:1px;line-height:1px;background:#808080;"></div>
<div class="c " style="left:888px;top:331px;width:1px;height:17px;line-height:17px;background:#808080;"></div>
<div class="c " style="left:852px;top:348px;width:36px;height:15px;line-height:15px;background:#e4e290;">18,1</div>
<div class="c " style="left:889px;top:348px;width:35px;height:15px;line-height:15px;background:#ff801b;">29,6</div>
<div class="c " style="left:852px;top:363px;width:72px;height:1px;line-height:1px;background:#808080;"></div>
<div class="c " style="left:888px;top:348px;width:1px;height:16px;line-height:16px;background:#808080;"></div>
<div class="c " style="left:852px;top:364px;width:36px;height:16px;line-height:16px;background:#e4e290;">18,1</div>
<div class="c " style="left:889px;top:364px;width:35px;height:16px;line-height:16px;background:#ff6501;">31,9</div>
<div class="c " style="left:852px;top:380px;width:72px;height:1px;line-height:1px;background:#808080;"></div>
<div class="c " style="left:888px;top:364px;width:1px;height:17px;line-height:17px;background:#808080;"></div>
<div class="c " style="left:852px;top:381px;width:36px;height:15px;line-height:15px;background:#d4dd96;">16,8</div>
<div class="c " style="left:889px;top:381px;width:35px;height:15px;line-height:15px;background:#ff720e;">30,8</div>
<div class="c " style="left:852px;top:396px;width:72px;height:1px;line-height:1px;background:#808080;"></div>
<div class="c " style="left:888px;top:381px;width:1px;height:16px;line-height:16px;background:#808080;"></div>
<div class="c " style="left:852px;top:397px;width:36px;height:16px;line-height:16px;background:#c6d99c;">15,7</div>
<div class="c " style="left:889px;top:397px;width:35px;height:16px;line-height:16px;background:#fdea85;">20,1</div>
<div class="c " style="left:852px;top:413px;width:72px;height:1px;line-height:1px;background:#808080;"></div>
<div class="c " style="left:888px;top:397px;width:1px;height:17px;line-height:17px;background:#808080;"></div>
<div class="c " style="left:852px;top:414px;width:36px;height:15px;line-height:15px;background:#bad5a1;">14,7</div>
<div class="c " style="left:889px;top:414px;width:35px;height:15px;line-height:15px;background:#ffde78;">21,4</div>
<div class="c " style="left:852px;top:429px;width:72px;height:1px;line-height:1px;background:#808080;"></div>
<div class="c " style="left:888px;top:414px;width:1px;height:16px;line-height:16px;background:#808080;"></div>
<div class="c " style="left:852px;top:430px;width:36px;height:16px;line-height:16px;background:#c0d79f;">15,2</div>
<div class="c " style="left:889px;top:430px;width:35px;height:16px;line-height:16px;background:#ffd56f;">22,2</div>
<div class="c " style="left:852px;top:446px;width:72px;height:1px;line-height:1px;background:#808080;"></div>
<div class="c " style="left:888px;top:430px;width:1px;height:17px;line-height:17px;background:#808080;"></div>
<div class="c " style="left:852px;top:447px;width:36px;height:15px;line-height:15px;background:#9bccae;">12,2</div>
<div class="c " style="left:889px;top:447px;width:35px;height:15px;line-height:15px;background:#ffe37c;">21,0</div>
<div class="c " style="left:852px;top:462px;width:72px;height:1px;line-height:1px;background:#808080;"></div>
<div class="c " style="left:888px;top:447px;width:1px;height:16px;line-height:16px;background:#808080;"></div>
<div class="c " style="left:852px;top:463px;width:36px;height:15px;line-height:15px;background:#93c9b2;">11,6</div>
<div class="c " style="left:889px;top:463px;width:35px;height:15px;line-height:15px;background:#ffd36c;">22,4</div>
<div class="c " style="left:852px;top:478px;width:72px;height:1px;line-height:1px;background:#808080;"></div>
<div class="c " style="left:888px;top:463px;width:1px;height:16px;line-height:16px;background:#808080;"></div>
<div class="c " style="left:852px;top:479px;width:36px;height:15px;line-height:15px;background:#bad5a1;">14,7</div>
<div class="c " style="left:889px;top:479px;width:35px;height:15px;line-height:15px;background:#ffaf49;">25,5</div>
<div class="c " style="left:852px;top:494px;width:72px;height:1px;line-height:1px;background:#808080;"></div>
<div class="c " style="left:888px;top:479px;width:1px;height:16px;line-height:16px;background:#808080;"></div>
<div class="c " style="left:852px;top:495px;width:36px;height:15px;line-height:15px;background:#ccdb99;">16,2</div>
<div class="c " style="left:889px;top:495px;width:35px;height:15px;line-height:15px;background:#ffa843;">26,1</div>
<div class="c " style="left:852px;top:510px;width:72px;height:1px;line-height:1px;background:#808080;"></div>
<div class="c " style="left:888px;top:495px;width:1px;height:16px;line-height:16px;background:#808080;"></div>
<div class="c " style="left:852px;top:511px;width:36px;height:16px;line-height:16px;background:#d4dd96;">16,8</div>
<div class="c " style="left:889px;top:511px;width:35px;height:16px;line-height:16px;background:#ff912c;">28,1</div>
<div class="c " style="left:852px;top:527px;width:72px;height:1px;line-height:1px;background:#808080;"></div>
<div class="c " style="left:888px;top:511px;width:1px;height:17px;line-height:17px;background:#808080;"></div>
<div class="c " style="left:852px;top:528px;width:36px;height:15px;line-height:15px;background:#d0dc98;">16,5</div>
<div class="c " style="left:889px;top:528px;width:35px;height:15px;line-height:15px;background:#ff811c;">29,5</div>
<div class="c " style="left:852px;top:543px;width:72px;height:1px;line-height:1px;background:#808080;"></div>
<div class="c " style="left:888px;top:528px;width:1px;height:16px;line-height:16px;background:#808080;"></div>
<div class="c " style="left:852px;top:544px;width:36px;height:15px;line-height:15px;background:#e0e191;">17,8</div>
<div class="c " style="left:889px;top:544px;width:35px;height:15px;line-height:15px;background:#ff8c27;">28,5</div>
<div class="c " style="left:888px;top:544px;width:1px;height:15px;line-height:15px;background:#808080;"></div>
<div class="c " style="left:38px;top:561px;width:36px;height:15px;line-height:15px;background:#c9da9b;">15,93</div>
<div class="c " style="left:75px;top:561px;width:35px;height:15px;line-height:15px;background:#ffab45;">25,88</div>
<div class="c " style="left:74px;top:561px;width:1px;height:15px;line-height:15px;background:#808080;"></div>
<div class="c " style="left:38px;top:576px;width:72px;height:1px;line-height:1px;background:#808080;"></div>
<div class="c " style="left:38px;top:577px;width:72px;height:15px;line-height:15px;background:#ffe47d;">20,90</div>
<div class="c " style="left:38px;top:592px;width:72px;height:1px;line-height:1px;background:#808080;"></div>
<div class="c " style="left:38px;top:593px;width:36px;height:15px;line-height:15px;background:#78c1bd;">9,4</div>
<div class="c " style="left:75px;top:593px;width:35px;height:15px;line-height:15px;background:#ebe58c;">18,7</div>
<div class="c " style="left:74px;top:593px;width:1px;height:16px;line-height:16px;background:#808080;"></div>
<div class="c " style="left:38px;top:608px;width:72px;height:1px;line-height:1px;background:#808080;"></div>
<div class="c " style="left:38px;top:609px;width:36px;height:16px;line-height:16px;background:#ffe982;">20,5</div>
<div class="c " style="left:75px;top:609px;width:35px;height:16px;line-height:16px;background:#ff4a00;">33,1</div>
<div class="c " style="left:74px;top:609px;width:1px;height:16px;line-height:16px;background:#808080;"></div>
<div class="c " style="left:112px;top:561px;width:36px;height:15px;line-height:15px;background:#cedc99;">16,36</div>
<div class="c " style="left:149px;top:561px;width:35px;height:15px;line-height:15px;background:#ffbc56;">24,40</div>
<div class="c " style="left:148px;top:561px;width:1px;height:15px;line-height:15px;background:#808080;"></div>
<div class="c " style="left:112px;top:576px;width:72px;height:1px;line-height:1px;background:#808080;"></div>
<div class="c " style="left:112px;top:577px;width:72px;height:15px;line-height:15px;background:#ffea83;">20,38</div>
<div class="c " style="left:112px;top:592px;width:72px;height:1px;line-height:1px;background:#808080;"></div>
<div class="c " style="left:112px;top:593px;width:36px;height:15px;line-height:15px;background:#a5cfaa;">13,0</div>
<div class="c " style="left:149px;top:593px;width:35px;height:15px;line-height:15px;background:#e6e38e;">18,3</div>
<div class="c " style="left:148px;top:593px;width:1px;height:16px;line-height:16px;background:#808080;"></div>
<div class="c " style="left:112px;top:608px;width:72px;height:1px;line-height:1px;background:#808080;"></div>
<div class="c " style="left:112px;top:609px;width:36px;height:16px;line-height:16px;background:#f8e987;">19,7</div>
<div class="c " style="left:149px;top:609px;width:35px;height:16px;line-height:16px;background:#ff6e0a;">31,1</div>
<div class="c " style="left:148px;top:609px;width:1px;height:16px;line-height:16px;background:#808080;"></div>
<div class="c " style="left:186px;top:561px;width:36px;height:15px;line-height:15px;background:#b2d3a4;">14,10</div>
<div class="c " style="left:223px;top:561px;width:35px;height:15px;line-height:15px;background:#ffb650;">24,87</div>
<div class="c " style="left:222px;top:561px;width:1px;height:15px;line-height:15px;background:#808080;"></div>
<div class="c " style="left:186px;top:576px;width:72px;height:1px;line-height:1px;background:#808080;"></div>
<div class="c " style="left:186px;top:577px;width:72px;height:15px;line-height:15px;background:#f5e888;">19,49</div>
<div class="c " style="left:186px;top:592px;width:72px;height:1px;line-height:1px;background:#808080;"></div>
<div class="c " style="left:186px;top:593px;width:36px;height:15px;line-height:15px;background:#72bfc0;">8,9</div>
<div class="c " style="left:223px;top:593px;width:35px;height:15px;line-height:15px;background:#efe68b;">19,0</div>
<div class="c " style="left:222px;top:593px;width:1px;height:16px;line-height:16px;background:#808080;"></div>
<div class="c " style="left:186px;top:608px;width:72px;height:1px;line-height:1px;background:#808080;"></div>
<div class="c " style="left:186px;top:609px;width:36px;height:16px;line-height:16px;background:#e6e38e;">18,3</div>
<div class="c " style="left:223px;top:609px;width:35px;height:16px;line-height:16px;background:#ff720e;">30,8</div>
<div class="c " style="left:222px;top:609px;width:1px;height:16px;line-height:16px;background:#808080;"></div>
<div class="c " style="left:260px;top:561px;width:36px;height:15px;line-height:15px;background:#90c8b3;">11,34</div>
<div class="c " style="left:297px;top:561px;width:35px;height:15px;line-height:15px;background:#ffc45e;">23,71</div>
<div class="c " style="left:296px;top:561px;width:1px;height:15px;line-height:15px;background:#808080;"></div>
<div class="c " style="left:260px;top:576px;width:72px;height:1px;line-height:1px;background:#808080;"></div>
<div class="c " style="left:260px;top:577px;width:72px;height:15px;line-height:15px;background:#dde092;">17,53</div>
<div class="c " style="left:260px;top:592px;width:72px;height:1px;line-height:1px;background:#808080;"></div>
<div class="c " style="left:260px;top:593px;width:36px;height:15px;line-height:15px;background:#58b7cb;">6,8</div>
<div class="c " style="left:297px;top:593px;width:35px;height:15px;line-height:15px;background:#e1e291;">17,9</div>
<div class="c " style="left:296px;top:593px;width:1px;height:16px;line-height:16px;background:#808080;"></div>
<div class="c " style="left:260px;top:608px;width:72px;height:1px;line-height:1px;background:#808080;"></div>
<div class="c " style="left:260px;top:609px;width:36px;height:16px;line-height:16px;background:#d2dd97;">16,7</div>
<div class="c " style="left:297px;top:609px;width:35px;height:16px;line-height:16px;background:#ff7c18;">29,9</div>
<div class="c " style="left:296px;top:609px;width:1px;height:16px;line-height:16px;background:#808080;"></div>
<div class="c " style="left:334px;top:561px;width:36px;height:15px;line-height:15px;background:#62bac7;">7,59</div>
<div class="c " style="left:371px;top:561px;width:35px;height:15px;line-height:15px;background:#ffd36d;">22,36</div>
<div class="c " style="left:370px;top:561px;width:1px;height:15px;line-height:15px;background:#808080;"></div>
<div class="c " style="left:334px;top:576px;width:72px;height:1px;line-height:1px;background:#808080;"></div>
<div class="c " style="left:334px;top:577px;width:72px;height:15px;line-height:15px;background:#bdd6a0;">14,98</div>
<div class="c " style="left:334px;top:592px;width:72px;height:1px;line-height:1px;background:#808080;"></div>
<div class="c " style="left:334px;top:593px;width:36px;height:15px;line-height:15px;background:#10a0e9;">1,0</div>
<div class="c " style="left:371px;top:593px;width:35px;height:15px;line-height:15px;background:#b2d3a4;">14,1</div>
<div class="c " style="left:370px;top:593px;width:1px;height:16px;line-height:16px;background:#808080;"></div>
<div class="c " style="left:334px;top:608px;width:72px;height:1px;line-height:1px;background:#808080;"></div>
<div class="c " style="left:334px;top:609px;width:36px;height:16px;line-height:16px;background:#b6d4a3;">14,4</div>
<div class="c " style="left:371px;top:609px;width:35px;height:16px;line-height:16px;background:#ff9a35;">27,3</div>
<div class="c " style="left:370px;top:609px;width:1px;height:16px;line-height:16px;background:#808080;"></div>
<div class="c " style="left:408px;top:561px;width:36px;height:15px;line-height:15px;background:#83c4b8;">10,27</div>
<div class="c " style="left:445px;top:561px;width:35px;height:15px;line-height:15px;background:#ffcf68;">22,76</div>
<div class="c " style="left:444px;top:561px;width:1px;height:15px;line-height:15px;background:#808080;"></div>
<div class="c " style="left:408px;top:576px;width:72px;height:1px;line-height:1px;background:#808080;"></div>
<div class="c " style="left:408px;top:577px;width:72px;height:15px;line-height:15px;background:#d0dc98;">16,52</div>
<div class="c " style="left:408px;top:592px;width:72px;height:1px;line-height:1px;background:#808080;"></div>
<div class="c " style="left:408px;top:593px;width:36px;height:15px;line-height:15px;background:#34abda;">3,9</div>
<div class="c " style="left:445px;top:593px;width:35px;height:15px;line-height:15px;background:#b3d3a4;">14,2</div>
<div class="c " style="left:444px;top:593px;width:1px;height:16px;line-height:16px;background:#808080;"></div>
<div class="c " style="left:408px;top:608px;width:72px;height:1px;line-height:1px;background:#808080;"></div>
<div class="c " style="left:408px;top:609px;width:36px;height:16px;line-height:16px;background:#c0d79f;">15,2</div>
<div class="c " style="left:445px;top:609px;width:35px;height:16px;line-height:16px;background:#ff8e29;">28,4</div>
<div class="c " style="left:444px;top:609px;width:1px;height:16px;line-height:16px;background:#808080;"></div>
<div class="c " style="left:482px;top:561px;width:36px;height:15px;line-height:15px;background:#70bec0;">8,79</div>
<div class="c " style="left:519px;top:561px;width:35px;height:15px;line-height:15px;background:#ffd26b;">22,49</div>
<div class="c " style="left:518px;top:561px;width:1px;height:15px;line-height:15px;background:#808080;"></div>
<div class="c " style="left:482px;top:576px;width:72px;height:1px;line-height:1px;background:#808080;"></div>
<div class="c " style="left:482px;top:577px;width:72px;height:15px;line-height:15px;background:#c5d99c;">15,64</div>
<div class="c " style="left:482px;top:592px;width:72px;height:1px;line-height:1px;background:#808080;"></div>
<div class="c " style="left:482px;top:593px;width:36px;height:15px;line-height:15px;background:#24a6e1;">2,6</div>
<div class="c " style="left:519px;top:593px;width:35px;height:15px;line-height:15px;background:#99cbaf;">12,1</div>
<div class="c " style="left:518px;top:593px;width:1px;height:16px;line-height:16px;background:#808080;"></div>
<div class="c " style="left:482px;top:608px;width:72px;height:1px;line-height:1px;background:#808080;"></div>
<div class="c " style="left:482px;top:609px;width:36px;height:16px;line-height:16px;background:#a5cfaa;">13,0</div>
<div class="c " style="left:519px;top:609px;width:35px;height:16px;line-height:16px;background:#ff8521;">29,1</div>
<div class="c " style="left:518px;top:609px;width:1px;height:16px;line-height:16px;background:#808080;"></div>
<div class="c " style="left:556px;top:561px;width:36px;height:15px;line-height:15px;background:#70bec0;">8,75</div>
<div class="c " style="left:593px;top:561px;width:35px;height:15px;line-height:15px;background:#ffdb74;">21,72</div>
<div class="c " style="left:592px;top:561px;width:1px;height:15px;line-height:15px;background:#808080;"></div>
<div class="c " style="left:556px;top:576px;width:72px;height:1px;line-height:1px;background:#808080;"></div>
<div class="c " style="left:556px;top:577px;width:72px;height:15px;line-height:15px;background:#c0d79e;">15,24</div>
<div class="c " style="left:556px;top:592px;width:72px;height:1px;line-height:1px;background:#808080;"></div>
<div class="c " style="left:556px;top:593px;width:36px;height:15px;line-height:15px;background:#11a0e8;">1,1</div>
<div class="c " style="left:593px;top:593px;width:35px;height:15px;line-height:15px;background:#8bc6b5;">10,9</div>
<div class="c " style="left:592px;top:593px;width:1px;height:16px;line-height:16px;background:#808080;"></div>
<div class="c " style="left:556px;top:608px;width:72px;height:1px;line-height:1px;background:#808080;"></div>
<div class="c " style="left:556px;top:609px;width:36px;height:16px;line-height:16px;background:#bbd6a1;">14,8</div>
<div class="c " style="left:593px;top:609px;width:35px;height:16px;line-height:16px;background:#ff710c;">30,9</div>
<div class="c " style="left:592px;top:609px;width:1px;height:16px;line-height:16px;background:#808080;"></div>
<div class="c " style="left:630px;top:561px;width:36px;height:15px;line-height:15px;background:#a8d0a9;">13,26</div>
<div class="c " style="left:667px;top:561px;width:35px;height:15px;line-height:15px;background:#ffac46;">25,78</div>
<div class="c " style="left:666px;top:561px;width:1px;height:15px;line-height:15px;background:#808080;"></div>
<div class="c " style="left:630px;top:576px;width:72px;height:1px;line-height:1px;background:#808080;"></div>
<div class="c " style="left:630px;top:577px;width:72px;height:15px;line-height:15px;background:#f5e888;">19,52</div>
<div class="c " style="left:630px;top:592px;width:72px;height:1px;line-height:1px;background:#808080;"></div>
<div class="c " style="left:630px;top:593px;width:36px;height:15px;line-height:15px;background:#6fbec1;">8,7</div>
<div class="c " style="left:667px;top:593px;width:35px;height:15px;line-height:15px;background:#acd1a7;">13,6</div>
<div class="c " style="left:666px;top:593px;width:1px;height:16px;line-height:16px;background:#808080;"></div>
<div class="c " style="left:630px;top:608px;width:72px;height:1px;line-height:1px;background:#808080;"></div>
<div class="c " style="left:630px;top:609px;width:36px;height:16px;line-height:16px;background:#dbe093;">17,4</div>
<div class="c " style="left:667px;top:609px;width:35px;height:16px;line-height:16px;background:#ff1a00;">35,1</div>
<div class="c " style="left:666px;top:609px;width:1px;height:16px;line-height:16px;background:#808080;"></div>
<div class="c " style="left:704px;top:561px;width:36px;height:15px;line-height:15px;background:#add1a7;">13,68</div>
<div class="c " style="left:741px;top:561px;width:35px;height:15px;line-height:15px;background:#ffbe58;">24,20</div>
<div class="c " style="left:740px;top:561px;width:1px;height:15px;line-height:15px;background:#808080;"></div>
<div class="c " style="left:704px;top:576px;width:72px;height:1px;line-height:1px;background:#808080;"></div>
<div class="c " style="left:704px;top:577px;width:72px;height:15px;line-height:15px;background:#eee68b;">18,94</div>
<div class="c " style="left:704px;top:592px;width:72px;height:1px;line-height:1px;background:#808080;"></div>
<div class="c " style="left:704px;top:593px;width:36px;height:15px;line-height:15px;background:#5eb8c8;">7,3</div>
<div class="c " style="left:741px;top:593px;width:35px;height:15px;line-height:15px;background:#c4d89d;">15,5</div>
<div class="c " style="left:740px;top:593px;width:1px;height:16px;line-height:16px;background:#808080;"></div>
<div class="c " style="left:704px;top:608px;width:72px;height:1px;line-height:1px;background:#808080;"></div>
<div class="c " style="left:704px;top:609px;width:36px;height:16px;line-height:16px;background:#e0e191;">17,8</div>
<div class="c w" style="left:741px;top:609px;width:35px;height:16px;line-height:16px;background:#ff0000;">36,2</div>
<div class="c " style="left:740px;top:609px;width:1px;height:16px;line-height:16px;background:#808080;"></div>
<div class="c " style="left:778px;top:561px;width:36px;height:15px;line-height:15px;background:#9fcdad;">12,53</div>
<div class="c " style="left:815px;top:561px;width:35px;height:15px;line-height:15px;background:#ffc660;">23,53</div>
<div class="c " style="left:814px;top:561px;width:1px;height:15px;line-height:15px;background:#808080;"></div>
<div class="c " style="left:778px;top:576px;width:72px;height:1px;line-height:1px;background:#808080;"></div>
<div class="c " style="left:778px;top:577px;width:72px;height:15px;line-height:15px;background:#e3e290;">18,03</div>
<div class="c " style="left:778px;top:592px;width:72px;height:1px;line-height:1px;background:#808080;"></div>
<div class="c " style="left:778px;top:593px;width:36px;height:15px;line-height:15px;background:#3aadd7;">4,4</div>
<div class="c " style="left:815px;top:593px;width:35px;height:15px;line-height:15px;background:#cfdc98;">16,4</div>
<div class="c " style="left:814px;top:593px;width:1px;height:16px;line-height:16px;background:#808080;"></div>
<div class="c " style="left:778px;top:608px;width:72px;height:1px;line-height:1px;background:#808080;"></div>
<div class="c " style="left:778px;top:609px;width:36px;height:16px;line-height:16px;background:#dadf94;">17,3</div>
<div class="c " style="left:815px;top:609px;width:35px;height:16px;line-height:16px;background:#ff6b07;">31,4</div>
<div class="c " style="left:814px;top:609px;width:1px;height:16px;line-height:16px;background:#808080;"></div>
<div class="c " style="left:852px;top:561px;width:36px;height:15px;line-height:15px;background:#c7d99c;">15,77</div>
<div class="c " style="left:889px;top:561px;width:35px;height:15px;line-height:15px;background:#ffb04a;">25,41</div>
<div class="c " style="left:888px;top:561px;width:1px;height:15px;line-height:15px;background:#808080;"></div>
<div class="c " style="left:852px;top:576px;width:72px;height:1px;line-height:1px;background:#808080;"></div>
<div class="c " style="left:852px;top:577px;width:72px;height:15px;line-height:15px;background:#ffe881;">20,59</div>
<div class="c " style="left:852px;top:592px;width:72px;height:1px;line-height:1px;background:#808080;"></div>
<div class="c " style="left:852px;top:593px;width:36px;height:15px;line-height:15px;background:#93c9b2;">11,6</div>
<div class="c " style="left:889px;top:593px;width:35px;height:15px;line-height:15px;background:#e9e48d;">18,5</div>
<div class="c " style="left:888px;top:593px;width:1px;height:16px;line-height:16px;background:#808080;"></div>
<div class="c " style="left:852px;top:608px;width:72px;height:1px;line-height:1px;background:#808080;"></div>
<div class="c " style="left:852px;top:609px;width:36px;height:16px;line-height:16px;background:#e4e290;">18,1</div>
<div class="c " style="left:889px;top:609px;width:35px;height:16px;line-height:16px;background:#ff6501;">31,9</div>
<div class="c " style="left:888px;top:609px;width:1px;height:16px;line-height:16px;background:#808080;"></div>
<div class="c " style="left:926px;top:561px;width:36px;height:15px;line-height:15px;background:#9bccae;">12,26</div>
<div class="c " style="left:963px;top:561px;width:35px;height:15px;line-height:15px;background:#ffc25c;">23,87</div>
<div class="c " style="left:962px;top:561px;width:1px;height:15px;line-height:15px;background:#808080;"></div>
<div class="c " style="left:926px;top:576px;width:72px;height:1px;line-height:1px;background:#808080;"></div>
<div class="c " style="left:926px;top:577px;width:72px;height:15px;line-height:15px;background:#e3e290;">18,07</div>
<div class="c " style="left:926px;top:592px;width:72px;height:1px;line-height:1px;background:#808080;"></div>
<div class="c " style="left:926px;top:593px;width:36px;height:15px;line-height:15px;background:#10a0e9;">1,0</div>
<div class="c " style="left:963px;top:593px;width:35px;height:15px;line-height:15px;background:#8bc6b5;">10,9</div>
<div class="c " style="left:962px;top:593px;width:1px;height:16px;line-height:16px;background:#808080;"></div>
<div class="c " style="left:926px;top:608px;width:72px;height:1px;line-height:1px;background:#808080;"></div>
<div class="c " style="left:926px;top:609px;width:36px;height:16px;line-height:16px;background:#ffe982;">20,5</div>
<div class="c w" style="left:963px;top:609px;width:35px;height:16px;line-height:16px;background:#ff0000;">36,2</div>
<div class="c " style="left:962px;top:609px;width:1px;height:16px;line-height:16px;background:#808080;"></div>
<div class="c l s" style="left:1px;top:561px;width:35px;height:31px;line-height:31px;background:#404040;">Média</div>
<div class="c " style="left:1px;top:592px;width:35px;height:1px;line-height:1px;background:#808080;"></div>
<div class="c l s" style="left:1px;top:593px;width:35px;height:15px;line-height:15px;background:#404040;">Menor</div>
<div class="c " style="left:1px;top:608px;width:35px;height:1px;line-height:1px;background:#808080;"></div>
<div class="c l s" style="left:1px;top:609px;width:35px;height:16px;line-height:16px;background:#404040;">Maior</div>
</body></html>
